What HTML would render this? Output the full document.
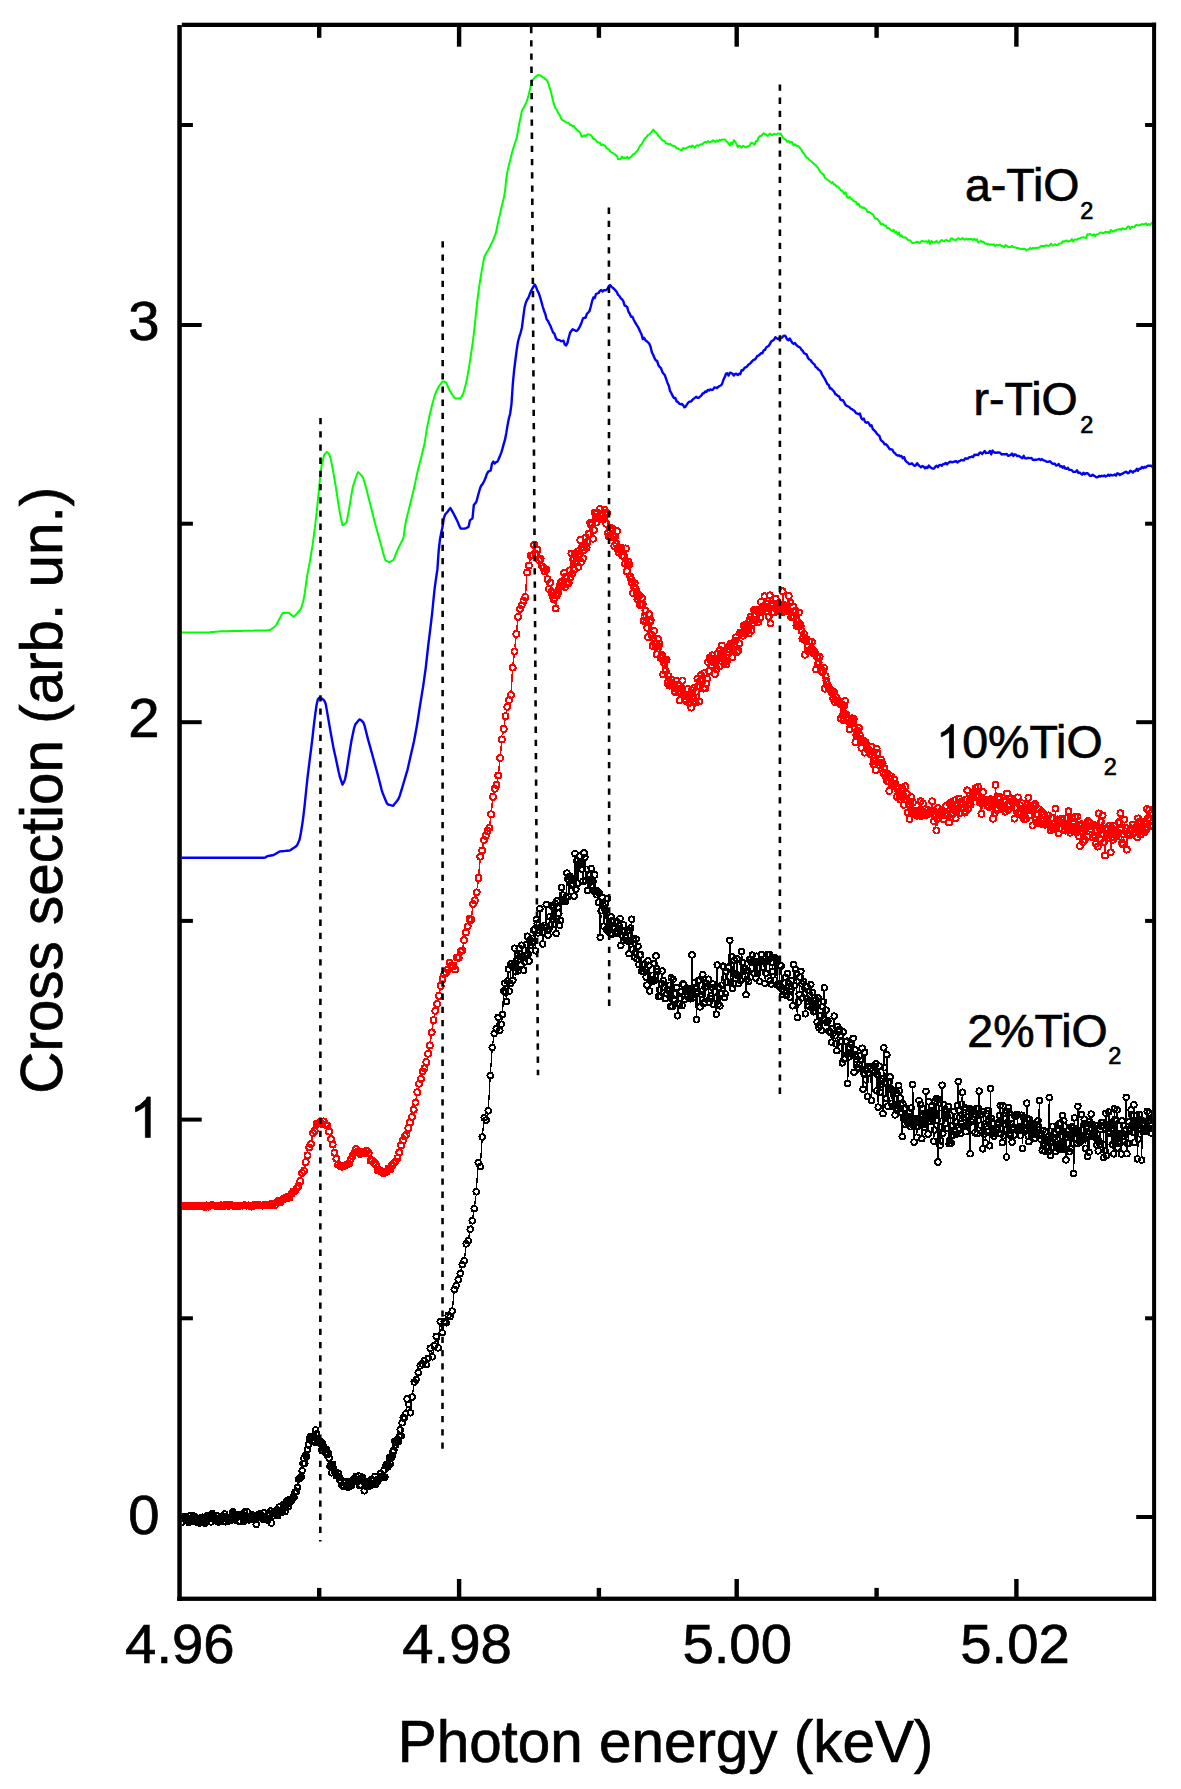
<!DOCTYPE html>
<html><head><meta charset="utf-8"><style>
html,body{margin:0;padding:0;background:#fff;}
svg{display:block;font-family:"Liberation Sans",sans-serif;}
</style></head><body>
<svg width="1181" height="1789" viewBox="0 0 1181 1789">
<rect width="1181" height="1789" fill="#fff"/>
<clipPath id="pc"><rect x="181.8" y="27" width="970.3" height="1569.6"/></clipPath>
<g clip-path="url(#pc)">
<path d="M211.6,1518.2L211.7,1517.2M225.1,1517.7L225.2,1518.2M244.0,1517.6L244.1,1515.9M247.6,1515.6L247.7,1515.9M255.7,1519.2L255.8,1520.7M270.9,1514.7L271.2,1519.2M271.9,1519.3L272.0,1517.7M285.4,1507.9L285.5,1506.2M298.0,1483.9L298.1,1482.8M305.2,1459.6L305.3,1458.6M315.0,1438.5L315.3,1433.7M321.4,1445.5L321.5,1446.5M329.5,1461.9L329.6,1462.7M331.3,1468.2L331.4,1469.1M332.2,1469.1L332.3,1468.0M359.2,1479.7L359.3,1481.7M363.7,1485.2L363.8,1487.1M364.6,1487.1L364.7,1485.0M374.5,1480.3L374.6,1479.9M375.4,1479.9L375.5,1480.3M385.2,1473.4L385.5,1469.5M388.9,1461.8L389.0,1461.4M394.3,1446.6L394.4,1445.0M401.4,1432.2L401.8,1426.5M406.1,1410.0L406.8,1402.7M409.4,1407.9L409.7,1409.1M410.8,1409.1L411.8,1400.7M412.7,1393.3L413.7,1385.7M429.0,1354.6L429.5,1351.9M431.1,1351.9L431.4,1353.1M432.9,1353.1L433.6,1349.5M435.0,1342.1L435.5,1340.0M436.9,1340.0L437.6,1344.3M438.5,1344.2L440.0,1325.3M440.9,1325.2L441.6,1329.0M442.9,1329.0L443.6,1325.5M447.2,1319.2L447.3,1318.8M452.6,1307.4L453.9,1293.3M461.1,1269.7L461.4,1268.3M464.7,1257.1L465.8,1247.6M468.9,1237.1L469.6,1232.9M471.1,1225.5L471.4,1224.5M472.9,1217.1L473.6,1212.4M474.7,1205.0L475.8,1195.6M476.5,1188.1L478.0,1166.2M480.5,1162.9L482.0,1140.8M482.6,1133.3L483.9,1121.4M487.0,1116.4L487.5,1114.5M488.5,1107.1L490.0,1079.4M490.5,1071.9L492.0,1051.3M492.8,1043.8L493.7,1037.3M496.8,1025.2L497.5,1021.0M498.6,1021.0L499.3,1026.5M501.7,1020.5L502.1,1018.2M502.7,1010.7L503.5,994.7M504.2,987.3L504.3,986.8M505.1,986.8L505.3,988.4M506.1,995.9L506.2,997.7M506.8,997.6L507.3,984.9M507.8,977.4L508.1,972.8M508.5,972.8L509.1,987.3M510.4,979.9L510.9,967.2M512.2,970.0L512.6,976.6M513.1,976.6L513.6,968.6M514.0,961.1L514.5,952.0M514.8,952.0L515.4,968.1M516.8,964.3L517.1,959.6M517.6,959.6L518.1,967.0M518.4,967.0L519.0,952.0M519.6,952.0L519.7,952.6M520.5,960.1L520.6,961.1M521.2,961.1L521.7,948.9M522.2,948.9L522.5,954.3M523.1,961.7L523.4,966.4M524.1,966.4L524.2,965.7M525.8,951.9L526.1,948.4M526.8,941.0L526.9,939.9M527.5,940.0L528.0,950.6M529.2,957.2L529.8,943.2M533.1,934.6L533.2,934.0M534.6,932.7L535.2,947.1M535.5,947.1L536.2,923.2M537.5,926.9L537.7,929.1M539.1,926.2L539.7,912.4M540.1,912.4L540.6,923.5M541.9,930.7L542.4,940.3M542.9,940.3L543.2,935.6M545.4,924.0L546.0,908.1M546.3,908.1L547.0,926.4M549.2,925.5L549.5,920.4M550.2,920.4L550.3,921.0M550.9,921.0L551.4,909.8M551.8,909.8L552.2,916.1M552.7,916.1L553.2,908.9M553.6,908.9L554.1,920.2M554.5,920.2L555.0,907.3M555.3,907.3L556.0,929.8M556.2,929.8L556.9,904.8M559.1,917.0L559.4,921.3M560.7,916.7L561.4,891.1M566.1,893.4L566.7,876.8M568.0,882.9L568.5,892.8M568.9,892.8L569.4,879.9M573.5,887.9L573.8,892.4M574.2,892.4L574.9,857.2M575.1,857.2L575.8,885.6M576.0,885.6L576.7,864.4M576.9,864.4L577.5,879.4M577.9,879.4L578.4,867.6M579.0,860.2L579.1,859.7M582.5,873.0L582.8,877.4M583.2,877.4L583.9,856.8M585.0,861.1L585.6,877.1M586.1,877.1L586.4,873.1M586.8,873.1L587.4,886.9M587.9,886.9L588.2,883.4M590.5,878.4L590.9,872.4M591.4,872.4L591.9,881.9M593.3,885.2L593.5,887.2M594.1,887.2L594.6,878.7M595.0,878.7L595.5,886.5M597.8,894.9L598.1,898.6M598.8,898.6L598.9,896.9M599.4,896.9L600.1,933.6M600.3,933.6L601.0,914.5M601.3,907.0L601.7,900.9M602.4,900.9L602.5,901.5M603.0,909.0L603.6,922.5M604.0,922.5L604.5,912.7M605.7,907.2L606.4,925.6M606.6,925.6L607.3,902.4M607.5,902.4L608.2,927.4M609.6,928.3L609.7,929.6M610.3,929.6L610.8,920.7M611.2,920.7L611.7,930.7M612.1,930.7L612.5,924.3M615.8,929.6L616.1,925.1M616.7,925.1L616.9,927.4M620.1,922.2L620.8,941.7M621.2,941.7L621.5,938.8M627.5,937.2L627.8,934.2M628.2,934.2L628.8,950.0M629.3,950.0L629.6,945.1M630.1,937.6L630.5,931.7M631.2,924.2L631.3,923.0M631.8,923.0L632.5,945.4M632.9,945.4L633.2,942.6M633.7,942.6L634.2,953.4M635.5,948.6L635.9,942.8M636.4,942.8L636.9,955.1M637.4,955.1L637.7,950.1M638.2,950.1L638.7,960.8M639.2,960.8L639.4,958.8M640.9,958.6L641.4,967.5M645.6,972.7L645.7,973.5M646.5,980.9L646.6,981.4M647.1,981.4L647.7,964.6M648.9,969.0L649.6,987.3M650.0,987.3L650.3,983.3M653.5,977.3L654.0,967.2M654.4,967.2L654.9,976.6M655.2,976.6L655.9,959.6M656.2,959.6L656.6,965.3M657.9,975.1L658.6,992.9M660.8,992.3L661.1,987.5M661.7,980.0L662.0,974.7M662.6,974.7L662.8,976.9M664.4,991.1L664.7,995.1M669.6,989.1L670.2,1002.9M670.5,1002.9L671.2,981.4M671.4,981.4L672.1,1002.9M672.3,1002.9L673.0,983.2M673.3,983.2L673.8,995.4M676.8,991.2L677.5,1012.1M677.9,1012.1L678.2,1007.7M681.4,995.3L681.8,1001.8M682.2,1001.8L682.8,987.7M684.1,988.5L684.6,995.8M685.2,995.8L685.3,994.7M689.6,992.5L689.9,995.1M691.2,992.0L691.9,958.6M692.1,958.6L692.8,994.1M694.0,993.9L694.5,986.3M695.7,992.3L696.4,1016.0M696.6,1016.0L697.3,995.3M697.7,987.8L698.0,984.9M699.3,983.8L700.0,1003.2M700.4,1003.2L700.7,998.2M702.1,987.4L702.6,978.4M702.9,978.4L703.6,999.6M704.8,998.2L705.3,990.8M708.3,982.9L708.9,998.3M711.3,992.2L711.4,991.0M712.9,987.8L713.4,1000.6M713.9,1000.6L714.2,995.5M715.6,1001.6L716.1,1010.5M716.4,1010.4L717.1,968.7M717.3,968.7L718.0,1000.7M718.3,1000.7L718.8,991.6M719.2,991.6L719.7,1002.1M720.2,1002.1L720.5,997.4M721.2,990.0L721.3,988.9M721.9,981.4L722.4,969.9M723.6,970.2L724.3,993.7M725.4,990.0L726.0,975.3M726.5,975.3L726.8,978.2M727.3,978.2L727.8,971.3M729.0,963.3L729.7,944.1M729.9,944.1L730.6,978.9M730.8,978.9L731.5,960.2M731.7,960.2L732.4,984.7M733.5,980.1L734.1,964.4M734.5,964.4L735.0,974.9M736.3,969.9L736.8,962.8M737.2,962.8L737.7,971.9M738.3,979.4L738.4,979.9M740.7,976.6L741.4,955.3M741.8,955.3L742.1,958.8M742.8,966.2L742.9,967.5M745.2,972.2L745.9,991.0M746.2,991.0L746.7,983.1M747.3,975.6L747.4,974.2M748.1,974.2L748.4,977.8M748.8,977.7L749.4,963.2M752.7,958.8L752.8,959.1M753.5,966.6L753.8,969.7M754.4,969.7L754.7,966.7M755.2,966.7L755.7,974.3M756.0,974.3L756.6,959.9M757.0,959.9L757.5,969.8M758.8,971.6L759.2,977.5M759.7,977.5L760.2,964.1M764.1,965.0L764.7,979.5M765.2,979.5L765.5,977.1M766.1,969.6L766.4,965.0M769.5,958.1L770.2,976.8M771.5,980.3L771.8,975.1M772.5,967.6L772.6,966.3M774.0,961.1L774.6,976.4M774.9,976.4L775.5,962.4M776.7,964.4L777.4,981.5M779.4,982.9L780.0,968.9M781.2,969.8L781.8,985.5M784.2,987.7L784.3,986.8M785.8,981.3L786.3,991.7M786.6,991.7L787.2,977.2M787.7,977.2L787.9,979.1M789.5,990.4L789.8,993.3M790.5,993.3L790.6,992.9M791.4,985.4L791.5,984.1M792.0,984.1L792.7,1002.0M792.9,1002.0L793.6,968.2M793.8,968.1L794.4,981.8M794.8,981.8L795.3,973.5M796.5,977.1L797.2,1013.8M797.5,1013.8L798.0,1005.9M798.6,998.5L798.7,998.1M799.3,990.6L799.8,980.7M801.2,975.0L801.5,980.0M802.0,987.5L802.4,994.1M802.9,994.1L803.4,985.1M803.9,985.1L804.2,990.4M804.7,997.8L805.2,1010.1M805.6,1010.1L806.1,1002.3M806.6,994.8L806.9,990.4M807.4,990.4L807.9,997.4M809.3,1002.4L809.6,999.0M810.2,991.6L810.5,988.4M810.9,988.4L811.5,1004.4M811.9,1004.4L812.4,996.2M812.8,996.2L813.3,1008.0M813.8,1008.0L814.1,1004.4M814.7,1004.4L815.0,1007.6M815.6,1007.6L815.9,1003.5M816.3,1003.5L816.9,1018.3M817.2,1018.3L817.9,1001.4M818.1,1001.4L818.8,1023.7M820.2,1021.1L820.3,1019.4M820.9,1019.4L821.4,1026.5M821.7,1026.5L822.3,1010.3M823.6,998.1L824.0,991.5M824.4,991.5L825.1,1016.0M825.5,1016.1L825.7,1013.9M826.4,1013.9L826.7,1019.1M828.2,1024.4L828.5,1027.6M830.9,1036.0L831.1,1038.4M831.7,1038.4L832.1,1032.5M833.5,1029.5L834.0,1019.9M834.4,1019.9L834.9,1032.0M835.5,1039.5L835.6,1040.2M837.0,1046.9L837.6,1030.4M841.5,1045.4L842.1,1059.2M842.4,1059.2L843.1,1035.7M843.3,1035.7L844.0,1055.5M845.2,1054.6L845.7,1045.2M846.9,1044.9L847.6,1079.8M847.8,1079.8L848.5,1050.8M848.9,1050.8L849.1,1053.1M850.8,1049.7L850.9,1048.1M851.6,1048.1L851.9,1050.7M852.4,1050.7L852.9,1042.1M853.2,1042.1L853.9,1068.4M854.1,1068.4L854.7,1053.5M859.8,1061.0L859.9,1059.6M861.5,1056.5L861.8,1051.9M862.2,1051.9L862.9,1085.6M863.2,1085.6L863.6,1077.3M864.0,1069.8L864.6,1056.0M864.9,1056.0L865.5,1076.1M865.9,1076.1L866.1,1073.9M866.6,1073.9L867.2,1092.5M867.5,1092.5L868.1,1076.8M870.9,1071.9L871.5,1096.6M871.7,1096.6L872.4,1074.6M875.9,1067.5L876.5,1087.2M876.8,1087.2L877.2,1077.9M877.5,1077.9L878.2,1103.4M878.3,1103.4L879.0,1069.8M879.2,1069.8L879.7,1088.5M880.1,1088.5L880.4,1084.9M882.3,1082.5L883.0,1109.8M883.1,1109.8L883.8,1051.5M884.0,1051.5L884.5,1064.0M884.8,1071.5L885.2,1078.2M885.6,1085.7L886.0,1094.9M886.2,1094.9L886.9,1058.4M887.0,1058.4L887.6,1102.4M887.9,1102.4L888.3,1092.5M890.2,1080.6L890.5,1085.1M890.9,1092.6L891.3,1099.5M891.7,1099.5L892.0,1093.6M892.4,1093.6L892.8,1102.9M893.1,1102.9L893.5,1094.5M893.9,1094.5L894.2,1101.9M894.7,1109.4L894.8,1111.2M896.0,1104.7L896.4,1096.8M896.7,1096.8L897.1,1106.5M898.1,1105.2L898.6,1089.3M901.1,1107.9L901.2,1108.9M901.6,1116.4L902.1,1132.8M902.3,1132.8L902.8,1107.7M903.1,1107.7L903.4,1114.6M903.9,1114.6L904.0,1112.7M904.5,1112.7L904.9,1120.6M905.2,1120.6L905.6,1112.0M906.0,1112.0L906.2,1115.6M910.1,1116.1L910.4,1122.9M910.8,1122.9L911.2,1111.9M911.5,1111.9L911.9,1119.5M912.1,1119.5L912.7,1088.3M912.8,1088.3L913.4,1121.9M913.6,1129.4L914.0,1138.3M914.3,1138.3L914.7,1126.3M916.4,1124.0L916.8,1133.4M917.2,1133.4L917.4,1130.3M917.9,1122.8L918.0,1121.9M918.5,1114.5L918.9,1104.3M919.2,1104.3L919.6,1116.0M919.9,1116.0L920.3,1108.1M920.6,1108.1L921.0,1120.8M921.3,1128.3L921.6,1134.9M921.9,1134.9L922.4,1112.2M923.5,1119.6L923.6,1121.1M924.8,1123.3L925.1,1118.7M925.4,1111.2L925.9,1095.2M926.1,1095.2L926.6,1115.1M927.6,1119.3L928.0,1130.2M928.2,1130.2L928.7,1105.7M929.0,1105.7L929.4,1117.1M930.5,1117.9L930.7,1114.6M931.8,1110.3L932.1,1115.1M933.1,1117.2L933.6,1137.4M934.0,1137.4L934.2,1133.7M934.5,1126.3L935.0,1104.5M935.3,1104.5L935.6,1110.4M936.0,1110.4L936.4,1102.1M936.6,1102.1L937.1,1116.6M937.3,1124.1L937.9,1158.2M938.0,1158.2L938.6,1103.1M939.4,1106.5L940.0,1141.8M940.9,1137.2L941.3,1125.1M941.5,1117.6L942.1,1089.0M942.2,1089.0L942.8,1129.6M942.9,1129.6L943.4,1108.4M945.1,1112.9L945.4,1119.9M945.8,1119.9L946.1,1115.3M947.2,1119.8L947.5,1124.8M947.8,1124.8L948.3,1110.5M948.5,1110.5L949.1,1140.0M949.9,1136.2L950.4,1119.0M950.6,1119.0L951.1,1139.5M951.4,1139.5L951.8,1129.2M952.9,1129.0L953.1,1131.6M953.4,1131.5L953.9,1115.3M954.2,1115.3L954.6,1128.3M955.0,1128.3L955.2,1125.6M955.6,1125.6L955.9,1130.4M956.3,1130.4L956.6,1125.7M957.0,1118.3L957.4,1109.5M957.6,1102.1L958.1,1085.1M958.3,1085.1L958.8,1106.8M959.1,1114.3L959.5,1126.2M960.6,1129.7L960.8,1126.9M961.2,1119.4L961.6,1108.0M961.9,1100.6L962.2,1096.0M962.5,1096.0L963.1,1122.5M963.4,1122.5L963.5,1121.0M965.3,1111.4L965.8,1128.0M967.6,1121.2L967.7,1120.4M968.9,1119.6L969.3,1112.4M969.5,1112.4L970.1,1150.0M970.2,1150.0L970.8,1114.0M971.1,1114.0L971.3,1118.2M972.5,1115.5L972.6,1113.9M974.5,1118.0L974.9,1128.8M975.2,1128.8L975.6,1117.8M976.5,1112.4L977.0,1129.9M977.3,1129.9L977.7,1117.2M978.7,1104.9L979.1,1094.8M979.3,1094.8L979.8,1111.7M980.2,1119.2L980.4,1121.5M980.9,1121.5L981.1,1118.3M981.5,1118.3L981.9,1128.8M982.2,1136.3L982.6,1145.1M982.8,1145.1L983.4,1115.4M983.5,1115.4L984.0,1130.4M984.4,1130.4L984.6,1127.7M985.0,1127.7L985.4,1139.2M985.7,1139.2L986.1,1130.1M986.4,1122.6L986.7,1117.8M987.9,1114.5L988.1,1118.4M989.1,1123.2L989.6,1142.1M989.8,1142.1L990.4,1092.4M990.5,1092.4L991.0,1114.3M991.3,1121.8L991.7,1130.3M993.4,1127.3L993.7,1132.7M999.8,1111.9L1000.0,1109.3M1000.3,1109.3L1000.8,1130.2M1001.8,1132.8L1002.1,1138.9M1002.4,1138.9L1003.0,1109.6M1003.1,1109.6L1003.6,1132.1M1004.0,1132.1L1004.2,1127.9M1005.4,1122.2L1005.6,1125.4M1005.9,1132.9L1006.4,1153.2M1006.6,1153.2L1007.2,1115.2M1007.5,1115.2L1007.7,1118.8M1008.1,1118.8L1008.5,1111.3M1009.5,1116.6L1009.9,1130.1M1010.9,1131.9L1011.2,1127.1M1011.6,1127.1L1012.0,1138.4M1012.3,1138.4L1012.7,1130.9M1014.4,1131.3L1014.8,1120.1M1017.2,1118.0L1017.5,1123.7M1020.1,1130.0L1020.3,1132.0M1020.9,1132.0L1020.9,1131.5M1021.4,1124.0L1021.7,1118.9M1022.0,1118.9L1022.5,1144.5M1022.7,1144.5L1023.2,1121.1M1024.3,1122.3L1024.5,1124.2M1026.2,1125.4L1026.7,1106.9M1027.0,1106.9L1027.4,1114.9M1027.7,1122.4L1028.1,1132.1M1029.0,1137.9L1029.5,1123.2M1034.7,1128.1L1035.0,1134.3M1036.9,1131.2L1037.1,1128.4M1038.8,1123.4L1039.3,1104.1M1039.5,1104.1L1040.0,1129.2M1041.7,1139.2L1042.1,1146.4M1042.4,1146.4L1042.8,1134.1M1043.1,1134.1L1043.5,1142.0M1044.0,1142.0L1044.0,1141.7M1044.5,1141.7L1044.8,1147.7M1045.2,1147.6L1045.6,1135.7M1048.1,1144.4L1048.3,1147.9M1048.6,1147.9L1049.2,1101.3M1049.3,1101.3L1049.9,1134.9M1050.1,1142.4L1050.5,1151.6M1050.8,1151.6L1051.1,1145.2M1052.2,1144.1L1052.6,1130.1M1053.0,1130.1L1053.2,1133.8M1055.1,1144.0L1055.3,1147.7M1057.1,1144.2L1057.5,1133.4M1059.2,1127.9L1059.6,1141.6M1059.8,1141.6L1060.3,1126.8M1060.5,1126.8L1061.0,1146.0M1061.3,1146.0L1061.6,1140.1M1062.0,1132.6L1062.4,1119.2M1062.6,1119.2L1063.2,1145.2M1063.3,1145.2L1063.8,1124.2M1064.7,1130.1L1065.2,1145.7M1065.6,1153.2L1065.8,1156.2M1066.1,1156.2L1066.6,1140.6M1068.9,1133.5L1069.4,1148.0M1069.7,1148.0L1070.1,1139.8M1070.4,1139.8L1070.7,1144.7M1071.0,1144.7L1071.5,1130.5M1073.1,1131.4L1073.7,1169.8M1073.8,1169.8L1074.4,1121.7M1074.6,1121.7L1075.0,1135.5M1075.4,1135.5L1075.6,1132.4M1076.0,1132.4L1076.3,1139.5M1077.3,1139.7L1077.9,1110.1M1078.0,1110.1L1078.5,1126.7M1078.9,1134.2L1079.1,1137.2M1080.8,1136.4L1081.3,1118.2M1081.6,1118.2L1082.0,1126.3M1083.7,1136.2L1084.1,1122.9M1085.0,1127.2L1085.5,1144.5M1085.7,1144.5L1086.2,1130.3M1087.1,1135.6L1087.6,1152.9M1087.8,1152.9L1088.3,1137.9M1088.6,1137.9L1089.0,1148.6M1089.2,1148.6L1089.7,1125.6M1090.8,1120.8L1091.0,1117.8M1091.4,1117.9L1091.8,1131.1M1092.2,1131.1L1092.4,1128.0M1092.8,1128.0L1093.1,1133.0M1095.6,1129.2L1095.9,1134.5M1097.0,1141.3L1097.4,1129.2M1097.6,1129.2L1098.1,1147.1M1098.5,1147.2L1098.7,1145.0M1099.8,1140.3L1100.1,1133.4M1103.2,1128.9L1103.7,1153.8M1104.0,1153.9L1104.3,1149.0M1105.3,1146.8L1105.9,1117.1M1106.0,1117.1L1106.6,1151.8M1106.7,1151.8L1107.2,1128.9M1108.2,1127.8L1108.6,1115.8M1108.9,1115.8L1109.2,1122.5M1110.4,1129.6L1110.5,1128.5M1111.6,1126.4L1112.1,1140.7M1113.2,1148.7L1113.3,1150.2M1113.7,1150.2L1114.3,1112.7M1114.6,1112.6L1114.8,1115.7M1115.1,1123.2L1115.6,1140.0M1115.8,1140.0L1116.3,1124.1M1116.7,1116.6L1116.9,1113.6M1117.2,1113.6L1117.8,1144.0M1120.2,1139.6L1120.4,1137.3M1120.8,1137.3L1121.2,1150.2M1121.4,1150.2L1121.9,1124.6M1122.2,1124.6L1122.5,1130.0M1123.0,1130.0L1123.1,1129.3M1123.7,1129.3L1123.9,1132.2M1125.0,1138.2L1125.3,1133.6M1125.6,1126.1L1126.1,1101.0M1126.3,1101.0L1126.9,1150.1M1127.2,1150.1L1127.4,1147.2M1128.5,1139.7L1128.9,1125.6M1129.3,1125.6L1129.5,1127.6M1130.6,1124.5L1131.0,1113.7M1132.1,1118.6L1132.3,1120.8M1133.3,1128.4L1133.8,1108.5M1134.0,1108.5L1134.6,1138.6M1134.8,1138.6L1135.2,1127.3M1136.2,1124.2L1136.5,1119.0M1136.8,1119.0L1137.4,1155.1M1137.6,1155.1L1138.0,1143.0M1138.3,1135.5L1138.7,1122.9M1139.9,1118.1L1139.9,1118.6M1141.0,1123.5L1141.6,1156.3M1141.7,1156.3L1142.3,1128.9M1143.3,1128.1L1143.4,1126.9M1146.7,1128.0L1147.1,1115.1M1147.4,1115.1L1147.8,1124.8M1148.3,1124.8L1148.3,1124.4M1149.0,1117.0L1149.0,1116.5M1151.7,1129.3L1151.8,1128.3" fill="none" stroke="#000" stroke-width="1.3" shape-rendering="crispEdges"/>
<g fill="none" stroke="#000" stroke-width="1.9" shape-rendering="crispEdges"><circle cx="181.5" cy="1522.4" r="2.8"/><circle cx="182.4" cy="1518.4" r="2.8"/><circle cx="183.3" cy="1516.6" r="2.8"/><circle cx="184.2" cy="1516.3" r="2.8"/><circle cx="185.1" cy="1519.4" r="2.8"/><circle cx="186.0" cy="1518.9" r="2.8"/><circle cx="186.9" cy="1519.8" r="2.8"/><circle cx="187.8" cy="1519.9" r="2.8"/><circle cx="188.7" cy="1522.3" r="2.8"/><circle cx="189.6" cy="1520.0" r="2.8"/><circle cx="190.5" cy="1515.5" r="2.8"/><circle cx="191.4" cy="1519.3" r="2.8"/><circle cx="192.3" cy="1521.5" r="2.8"/><circle cx="193.2" cy="1515.8" r="2.8"/><circle cx="194.1" cy="1519.5" r="2.8"/><circle cx="195.0" cy="1516.5" r="2.8"/><circle cx="195.9" cy="1520.9" r="2.8"/><circle cx="196.8" cy="1519.1" r="2.8"/><circle cx="197.7" cy="1522.3" r="2.8"/><circle cx="198.6" cy="1520.6" r="2.8"/><circle cx="199.5" cy="1523.2" r="2.8"/><circle cx="200.4" cy="1517.9" r="2.8"/><circle cx="201.3" cy="1519.3" r="2.8"/><circle cx="202.2" cy="1517.2" r="2.8"/><circle cx="203.1" cy="1521.3" r="2.8"/><circle cx="204.0" cy="1521.5" r="2.8"/><circle cx="204.9" cy="1523.3" r="2.8"/><circle cx="205.8" cy="1517.7" r="2.8"/><circle cx="206.7" cy="1520.9" r="2.8"/><circle cx="207.6" cy="1515.5" r="2.8"/><circle cx="208.5" cy="1518.8" r="2.8"/><circle cx="209.4" cy="1516.1" r="2.8"/><circle cx="210.3" cy="1518.5" r="2.8"/><circle cx="211.2" cy="1521.9" r="2.8"/><circle cx="212.1" cy="1513.5" r="2.8"/><circle cx="213.0" cy="1515.8" r="2.8"/><circle cx="213.9" cy="1518.2" r="2.8"/><circle cx="214.8" cy="1519.9" r="2.8"/><circle cx="215.7" cy="1520.8" r="2.8"/><circle cx="216.6" cy="1515.6" r="2.8"/><circle cx="217.5" cy="1518.5" r="2.8"/><circle cx="218.4" cy="1522.1" r="2.8"/><circle cx="219.3" cy="1519.8" r="2.8"/><circle cx="220.2" cy="1521.7" r="2.8"/><circle cx="221.1" cy="1516.2" r="2.8"/><circle cx="222.0" cy="1516.3" r="2.8"/><circle cx="222.9" cy="1516.3" r="2.8"/><circle cx="223.8" cy="1518.0" r="2.8"/><circle cx="224.7" cy="1514.0" r="2.8"/><circle cx="225.6" cy="1521.9" r="2.8"/><circle cx="226.5" cy="1518.0" r="2.8"/><circle cx="227.4" cy="1518.4" r="2.8"/><circle cx="228.3" cy="1521.3" r="2.8"/><circle cx="229.2" cy="1518.0" r="2.8"/><circle cx="230.1" cy="1520.5" r="2.8"/><circle cx="231.0" cy="1519.0" r="2.8"/><circle cx="231.9" cy="1519.1" r="2.8"/><circle cx="232.8" cy="1511.7" r="2.8"/><circle cx="233.7" cy="1513.4" r="2.8"/><circle cx="234.6" cy="1519.9" r="2.8"/><circle cx="235.5" cy="1514.3" r="2.8"/><circle cx="236.4" cy="1515.7" r="2.8"/><circle cx="237.3" cy="1517.1" r="2.8"/><circle cx="238.2" cy="1514.8" r="2.8"/><circle cx="239.1" cy="1521.4" r="2.8"/><circle cx="240.0" cy="1521.1" r="2.8"/><circle cx="240.9" cy="1516.5" r="2.8"/><circle cx="241.8" cy="1514.5" r="2.8"/><circle cx="242.7" cy="1516.2" r="2.8"/><circle cx="243.6" cy="1521.4" r="2.8"/><circle cx="244.5" cy="1512.1" r="2.8"/><circle cx="245.4" cy="1519.5" r="2.8"/><circle cx="246.3" cy="1519.6" r="2.8"/><circle cx="247.2" cy="1511.8" r="2.8"/><circle cx="248.1" cy="1519.6" r="2.8"/><circle cx="249.0" cy="1519.9" r="2.8"/><circle cx="249.9" cy="1517.2" r="2.8"/><circle cx="250.8" cy="1519.1" r="2.8"/><circle cx="251.7" cy="1515.2" r="2.8"/><circle cx="252.6" cy="1515.1" r="2.8"/><circle cx="253.5" cy="1518.0" r="2.8"/><circle cx="254.4" cy="1517.6" r="2.8"/><circle cx="255.3" cy="1515.5" r="2.8"/><circle cx="256.2" cy="1524.4" r="2.8"/><circle cx="257.1" cy="1518.1" r="2.8"/><circle cx="258.0" cy="1515.3" r="2.8"/><circle cx="258.9" cy="1514.3" r="2.8"/><circle cx="259.8" cy="1514.0" r="2.8"/><circle cx="260.7" cy="1515.2" r="2.8"/><circle cx="261.6" cy="1517.3" r="2.8"/><circle cx="262.5" cy="1516.4" r="2.8"/><circle cx="263.4" cy="1519.2" r="2.8"/><circle cx="264.3" cy="1512.8" r="2.8"/><circle cx="265.2" cy="1519.6" r="2.8"/><circle cx="266.1" cy="1518.6" r="2.8"/><circle cx="267.0" cy="1518.7" r="2.8"/><circle cx="267.9" cy="1520.0" r="2.8"/><circle cx="268.8" cy="1513.0" r="2.8"/><circle cx="269.7" cy="1515.4" r="2.8"/><circle cx="270.6" cy="1511.0" r="2.8"/><circle cx="271.5" cy="1523.0" r="2.8"/><circle cx="272.4" cy="1513.9" r="2.8"/><circle cx="273.3" cy="1515.9" r="2.8"/><circle cx="274.2" cy="1511.7" r="2.8"/><circle cx="275.1" cy="1512.5" r="2.8"/><circle cx="276.0" cy="1512.7" r="2.8"/><circle cx="276.9" cy="1509.6" r="2.8"/><circle cx="277.8" cy="1515.7" r="2.8"/><circle cx="278.7" cy="1513.2" r="2.8"/><circle cx="279.6" cy="1506.8" r="2.8"/><circle cx="280.5" cy="1510.3" r="2.8"/><circle cx="281.4" cy="1512.4" r="2.8"/><circle cx="282.3" cy="1510.4" r="2.8"/><circle cx="283.2" cy="1504.7" r="2.8"/><circle cx="284.1" cy="1508.4" r="2.8"/><circle cx="285.0" cy="1511.6" r="2.8"/><circle cx="285.9" cy="1502.5" r="2.8"/><circle cx="286.8" cy="1504.3" r="2.8"/><circle cx="287.7" cy="1500.3" r="2.8"/><circle cx="288.6" cy="1506.6" r="2.8"/><circle cx="289.5" cy="1499.7" r="2.8"/><circle cx="290.4" cy="1500.0" r="2.8"/><circle cx="291.3" cy="1501.0" r="2.8"/><circle cx="292.2" cy="1499.2" r="2.8"/><circle cx="293.1" cy="1496.7" r="2.8"/><circle cx="294.0" cy="1497.2" r="2.8"/><circle cx="294.9" cy="1492.4" r="2.8"/><circle cx="295.8" cy="1491.8" r="2.8"/><circle cx="296.7" cy="1491.2" r="2.8"/><circle cx="297.6" cy="1487.7" r="2.8"/><circle cx="298.5" cy="1479.1" r="2.8"/><circle cx="299.4" cy="1478.8" r="2.8"/><circle cx="300.3" cy="1477.8" r="2.8"/><circle cx="301.2" cy="1477.3" r="2.8"/><circle cx="302.1" cy="1470.6" r="2.8"/><circle cx="303.0" cy="1463.5" r="2.8"/><circle cx="303.9" cy="1458.4" r="2.8"/><circle cx="304.8" cy="1463.3" r="2.8"/><circle cx="305.7" cy="1454.9" r="2.8"/><circle cx="306.6" cy="1456.5" r="2.8"/><circle cx="307.5" cy="1449.5" r="2.8"/><circle cx="308.4" cy="1445.0" r="2.8"/><circle cx="309.3" cy="1439.6" r="2.8"/><circle cx="310.2" cy="1436.9" r="2.8"/><circle cx="311.1" cy="1437.2" r="2.8"/><circle cx="312.0" cy="1440.6" r="2.8"/><circle cx="312.9" cy="1436.2" r="2.8"/><circle cx="313.8" cy="1437.3" r="2.8"/><circle cx="314.7" cy="1442.2" r="2.8"/><circle cx="315.6" cy="1430.0" r="2.8"/><circle cx="316.5" cy="1433.9" r="2.8"/><circle cx="317.4" cy="1441.2" r="2.8"/><circle cx="318.3" cy="1440.8" r="2.8"/><circle cx="319.2" cy="1442.1" r="2.8"/><circle cx="320.1" cy="1443.4" r="2.8"/><circle cx="321.0" cy="1441.7" r="2.8"/><circle cx="321.9" cy="1450.2" r="2.8"/><circle cx="322.8" cy="1444.2" r="2.8"/><circle cx="323.7" cy="1446.5" r="2.8"/><circle cx="324.6" cy="1449.0" r="2.8"/><circle cx="325.5" cy="1452.7" r="2.8"/><circle cx="326.4" cy="1449.4" r="2.8"/><circle cx="327.3" cy="1454.7" r="2.8"/><circle cx="328.2" cy="1453.3" r="2.8"/><circle cx="329.1" cy="1458.1" r="2.8"/><circle cx="330.0" cy="1466.4" r="2.8"/><circle cx="330.9" cy="1464.5" r="2.8"/><circle cx="331.8" cy="1472.8" r="2.8"/><circle cx="332.7" cy="1464.3" r="2.8"/><circle cx="333.6" cy="1468.5" r="2.8"/><circle cx="334.5" cy="1471.4" r="2.8"/><circle cx="335.4" cy="1472.2" r="2.8"/><circle cx="336.3" cy="1475.7" r="2.8"/><circle cx="337.2" cy="1475.9" r="2.8"/><circle cx="338.1" cy="1473.2" r="2.8"/><circle cx="339.0" cy="1477.1" r="2.8"/><circle cx="339.9" cy="1480.2" r="2.8"/><circle cx="340.8" cy="1480.1" r="2.8"/><circle cx="341.7" cy="1485.3" r="2.8"/><circle cx="342.6" cy="1485.8" r="2.8"/><circle cx="343.5" cy="1486.5" r="2.8"/><circle cx="344.4" cy="1483.0" r="2.8"/><circle cx="345.3" cy="1482.4" r="2.8"/><circle cx="346.2" cy="1481.9" r="2.8"/><circle cx="347.1" cy="1485.9" r="2.8"/><circle cx="348.0" cy="1487.4" r="2.8"/><circle cx="348.9" cy="1486.2" r="2.8"/><circle cx="349.8" cy="1484.6" r="2.8"/><circle cx="350.7" cy="1481.6" r="2.8"/><circle cx="351.6" cy="1485.8" r="2.8"/><circle cx="352.5" cy="1482.9" r="2.8"/><circle cx="353.4" cy="1479.3" r="2.8"/><circle cx="354.3" cy="1479.7" r="2.8"/><circle cx="355.2" cy="1479.0" r="2.8"/><circle cx="356.1" cy="1476.4" r="2.8"/><circle cx="357.0" cy="1481.9" r="2.8"/><circle cx="357.9" cy="1480.3" r="2.8"/><circle cx="358.8" cy="1476.0" r="2.8"/><circle cx="359.7" cy="1485.4" r="2.8"/><circle cx="360.6" cy="1485.0" r="2.8"/><circle cx="361.5" cy="1479.1" r="2.8"/><circle cx="362.4" cy="1477.2" r="2.8"/><circle cx="363.3" cy="1481.4" r="2.8"/><circle cx="364.2" cy="1490.8" r="2.8"/><circle cx="365.1" cy="1481.2" r="2.8"/><circle cx="366.0" cy="1485.6" r="2.8"/><circle cx="366.9" cy="1486.6" r="2.8"/><circle cx="367.8" cy="1485.2" r="2.8"/><circle cx="368.7" cy="1483.6" r="2.8"/><circle cx="369.6" cy="1486.0" r="2.8"/><circle cx="370.5" cy="1485.0" r="2.8"/><circle cx="371.4" cy="1479.2" r="2.8"/><circle cx="372.3" cy="1484.9" r="2.8"/><circle cx="373.2" cy="1481.0" r="2.8"/><circle cx="374.1" cy="1484.0" r="2.8"/><circle cx="375.0" cy="1476.2" r="2.8"/><circle cx="375.9" cy="1484.0" r="2.8"/><circle cx="376.8" cy="1482.6" r="2.8"/><circle cx="377.7" cy="1481.2" r="2.8"/><circle cx="378.6" cy="1478.8" r="2.8"/><circle cx="379.5" cy="1478.4" r="2.8"/><circle cx="380.4" cy="1473.2" r="2.8"/><circle cx="381.3" cy="1476.3" r="2.8"/><circle cx="382.2" cy="1477.1" r="2.8"/><circle cx="383.1" cy="1477.1" r="2.8"/><circle cx="384.0" cy="1470.4" r="2.8"/><circle cx="384.9" cy="1477.1" r="2.8"/><circle cx="385.8" cy="1465.8" r="2.8"/><circle cx="386.7" cy="1464.2" r="2.8"/><circle cx="387.6" cy="1467.1" r="2.8"/><circle cx="388.5" cy="1465.5" r="2.8"/><circle cx="389.4" cy="1457.7" r="2.8"/><circle cx="390.3" cy="1463.7" r="2.8"/><circle cx="391.2" cy="1458.3" r="2.8"/><circle cx="392.1" cy="1455.9" r="2.8"/><circle cx="393.0" cy="1452.0" r="2.8"/><circle cx="393.9" cy="1450.3" r="2.8"/><circle cx="394.8" cy="1441.3" r="2.8"/><circle cx="395.7" cy="1444.9" r="2.8"/><circle cx="396.6" cy="1442.1" r="2.8"/><circle cx="397.5" cy="1439.4" r="2.8"/><circle cx="398.4" cy="1441.7" r="2.8"/><circle cx="399.3" cy="1436.5" r="2.8"/><circle cx="400.2" cy="1429.8" r="2.8"/><circle cx="401.1" cy="1435.9" r="2.8"/><circle cx="402.1" cy="1422.8" r="2.8"/><circle cx="403.2" cy="1417.9" r="2.8"/><circle cx="404.4" cy="1417.9" r="2.8"/><circle cx="405.7" cy="1413.7" r="2.8"/><circle cx="407.1" cy="1399.0" r="2.8"/><circle cx="408.7" cy="1404.2" r="2.8"/><circle cx="410.4" cy="1412.8" r="2.8"/><circle cx="412.2" cy="1397.0" r="2.8"/><circle cx="414.2" cy="1382.0" r="2.8"/><circle cx="416.2" cy="1379.5" r="2.8"/><circle cx="418.2" cy="1372.6" r="2.8"/><circle cx="420.2" cy="1365.9" r="2.8"/><circle cx="422.2" cy="1364.0" r="2.8"/><circle cx="424.2" cy="1360.8" r="2.8"/><circle cx="426.2" cy="1364.7" r="2.8"/><circle cx="428.2" cy="1358.3" r="2.8"/><circle cx="430.2" cy="1348.2" r="2.8"/><circle cx="432.2" cy="1356.8" r="2.8"/><circle cx="434.2" cy="1345.8" r="2.8"/><circle cx="436.2" cy="1336.3" r="2.8"/><circle cx="438.2" cy="1347.9" r="2.8"/><circle cx="440.2" cy="1321.5" r="2.8"/><circle cx="442.2" cy="1332.7" r="2.8"/><circle cx="444.2" cy="1321.8" r="2.8"/><circle cx="446.2" cy="1322.8" r="2.8"/><circle cx="448.2" cy="1315.2" r="2.8"/><circle cx="450.2" cy="1316.4" r="2.8"/><circle cx="452.2" cy="1311.1" r="2.8"/><circle cx="454.2" cy="1289.6" r="2.8"/><circle cx="456.2" cy="1285.5" r="2.8"/><circle cx="458.2" cy="1279.8" r="2.8"/><circle cx="460.2" cy="1273.4" r="2.8"/><circle cx="462.2" cy="1264.7" r="2.8"/><circle cx="464.2" cy="1260.8" r="2.8"/><circle cx="466.2" cy="1243.9" r="2.8"/><circle cx="468.2" cy="1240.8" r="2.8"/><circle cx="470.2" cy="1229.2" r="2.8"/><circle cx="472.2" cy="1220.8" r="2.8"/><circle cx="474.2" cy="1208.7" r="2.8"/><circle cx="476.2" cy="1191.8" r="2.8"/><circle cx="478.2" cy="1162.5" r="2.8"/><circle cx="480.2" cy="1166.6" r="2.8"/><circle cx="482.2" cy="1137.0" r="2.8"/><circle cx="484.2" cy="1117.7" r="2.8"/><circle cx="486.2" cy="1120.1" r="2.8"/><circle cx="488.2" cy="1110.8" r="2.8"/><circle cx="490.2" cy="1075.6" r="2.8"/><circle cx="492.2" cy="1047.5" r="2.8"/><circle cx="494.2" cy="1033.5" r="2.8"/><circle cx="496.2" cy="1028.9" r="2.8"/><circle cx="498.1" cy="1017.3" r="2.8"/><circle cx="499.8" cy="1030.2" r="2.8"/><circle cx="501.2" cy="1024.2" r="2.8"/><circle cx="502.6" cy="1014.5" r="2.8"/><circle cx="503.7" cy="991.0" r="2.8"/><circle cx="504.8" cy="983.1" r="2.8"/><circle cx="505.7" cy="992.2" r="2.8"/><circle cx="506.6" cy="1001.4" r="2.8"/><circle cx="507.5" cy="981.1" r="2.8"/><circle cx="508.4" cy="969.1" r="2.8"/><circle cx="509.3" cy="991.1" r="2.8"/><circle cx="510.2" cy="983.6" r="2.8"/><circle cx="511.1" cy="963.5" r="2.8"/><circle cx="512.0" cy="966.3" r="2.8"/><circle cx="512.9" cy="980.4" r="2.8"/><circle cx="513.8" cy="964.8" r="2.8"/><circle cx="514.7" cy="948.2" r="2.8"/><circle cx="515.6" cy="971.8" r="2.8"/><circle cx="516.5" cy="968.0" r="2.8"/><circle cx="517.4" cy="955.8" r="2.8"/><circle cx="518.3" cy="970.8" r="2.8"/><circle cx="519.2" cy="948.3" r="2.8"/><circle cx="520.1" cy="956.3" r="2.8"/><circle cx="521.0" cy="964.8" r="2.8"/><circle cx="521.9" cy="945.2" r="2.8"/><circle cx="522.8" cy="958.0" r="2.8"/><circle cx="523.7" cy="970.1" r="2.8"/><circle cx="524.6" cy="962.0" r="2.8"/><circle cx="525.5" cy="955.7" r="2.8"/><circle cx="526.4" cy="944.7" r="2.8"/><circle cx="527.3" cy="936.2" r="2.8"/><circle cx="528.2" cy="954.3" r="2.8"/><circle cx="529.1" cy="961.0" r="2.8"/><circle cx="530.0" cy="939.5" r="2.8"/><circle cx="530.9" cy="945.5" r="2.8"/><circle cx="531.8" cy="942.2" r="2.8"/><circle cx="532.7" cy="938.3" r="2.8"/><circle cx="533.6" cy="930.2" r="2.8"/><circle cx="534.5" cy="929.0" r="2.8"/><circle cx="535.4" cy="950.8" r="2.8"/><circle cx="536.3" cy="919.5" r="2.8"/><circle cx="537.2" cy="923.2" r="2.8"/><circle cx="538.1" cy="932.9" r="2.8"/><circle cx="539.0" cy="930.0" r="2.8"/><circle cx="539.9" cy="908.7" r="2.8"/><circle cx="540.8" cy="927.2" r="2.8"/><circle cx="541.7" cy="927.0" r="2.8"/><circle cx="542.6" cy="944.0" r="2.8"/><circle cx="543.5" cy="931.9" r="2.8"/><circle cx="544.4" cy="925.3" r="2.8"/><circle cx="545.3" cy="927.7" r="2.8"/><circle cx="546.2" cy="904.4" r="2.8"/><circle cx="547.1" cy="930.2" r="2.8"/><circle cx="548.0" cy="935.3" r="2.8"/><circle cx="548.9" cy="929.2" r="2.8"/><circle cx="549.8" cy="916.7" r="2.8"/><circle cx="550.7" cy="924.7" r="2.8"/><circle cx="551.6" cy="906.0" r="2.8"/><circle cx="552.5" cy="919.8" r="2.8"/><circle cx="553.4" cy="905.1" r="2.8"/><circle cx="554.3" cy="924.0" r="2.8"/><circle cx="555.2" cy="903.6" r="2.8"/><circle cx="556.1" cy="933.5" r="2.8"/><circle cx="557.0" cy="901.0" r="2.8"/><circle cx="557.9" cy="907.6" r="2.8"/><circle cx="558.8" cy="913.2" r="2.8"/><circle cx="559.7" cy="925.1" r="2.8"/><circle cx="560.6" cy="920.4" r="2.8"/><circle cx="561.5" cy="887.3" r="2.8"/><circle cx="562.4" cy="894.9" r="2.8"/><circle cx="563.3" cy="899.3" r="2.8"/><circle cx="564.2" cy="899.8" r="2.8"/><circle cx="565.1" cy="901.7" r="2.8"/><circle cx="566.0" cy="897.2" r="2.8"/><circle cx="566.9" cy="873.1" r="2.8"/><circle cx="567.8" cy="879.2" r="2.8"/><circle cx="568.7" cy="896.6" r="2.8"/><circle cx="569.6" cy="876.1" r="2.8"/><circle cx="570.5" cy="877.6" r="2.8"/><circle cx="571.4" cy="885.0" r="2.8"/><circle cx="572.3" cy="880.7" r="2.8"/><circle cx="573.2" cy="884.2" r="2.8"/><circle cx="574.1" cy="896.1" r="2.8"/><circle cx="575.0" cy="853.5" r="2.8"/><circle cx="575.9" cy="889.4" r="2.8"/><circle cx="576.8" cy="860.7" r="2.8"/><circle cx="577.7" cy="883.1" r="2.8"/><circle cx="578.6" cy="863.9" r="2.8"/><circle cx="579.5" cy="856.0" r="2.8"/><circle cx="580.4" cy="862.0" r="2.8"/><circle cx="581.3" cy="863.1" r="2.8"/><circle cx="582.2" cy="869.3" r="2.8"/><circle cx="583.1" cy="881.1" r="2.8"/><circle cx="584.0" cy="853.0" r="2.8"/><circle cx="584.9" cy="857.4" r="2.8"/><circle cx="585.8" cy="880.8" r="2.8"/><circle cx="586.7" cy="869.3" r="2.8"/><circle cx="587.6" cy="890.6" r="2.8"/><circle cx="588.5" cy="879.7" r="2.8"/><circle cx="589.4" cy="875.2" r="2.8"/><circle cx="590.3" cy="882.2" r="2.8"/><circle cx="591.2" cy="868.6" r="2.8"/><circle cx="592.1" cy="885.7" r="2.8"/><circle cx="593.0" cy="881.5" r="2.8"/><circle cx="593.9" cy="891.0" r="2.8"/><circle cx="594.8" cy="874.9" r="2.8"/><circle cx="595.7" cy="890.3" r="2.8"/><circle cx="596.6" cy="894.7" r="2.8"/><circle cx="597.5" cy="891.2" r="2.8"/><circle cx="598.4" cy="902.3" r="2.8"/><circle cx="599.3" cy="893.1" r="2.8"/><circle cx="600.2" cy="937.3" r="2.8"/><circle cx="601.1" cy="910.8" r="2.8"/><circle cx="602.0" cy="897.2" r="2.8"/><circle cx="602.9" cy="905.2" r="2.8"/><circle cx="603.8" cy="926.2" r="2.8"/><circle cx="604.7" cy="908.9" r="2.8"/><circle cx="605.6" cy="903.5" r="2.8"/><circle cx="606.5" cy="929.4" r="2.8"/><circle cx="607.4" cy="898.7" r="2.8"/><circle cx="608.3" cy="931.1" r="2.8"/><circle cx="609.2" cy="924.6" r="2.8"/><circle cx="610.1" cy="933.3" r="2.8"/><circle cx="611.0" cy="916.9" r="2.8"/><circle cx="611.9" cy="934.5" r="2.8"/><circle cx="612.8" cy="920.5" r="2.8"/><circle cx="613.7" cy="927.3" r="2.8"/><circle cx="614.6" cy="928.5" r="2.8"/><circle cx="615.5" cy="933.4" r="2.8"/><circle cx="616.4" cy="921.4" r="2.8"/><circle cx="617.3" cy="931.2" r="2.8"/><circle cx="618.2" cy="928.5" r="2.8"/><circle cx="619.1" cy="925.7" r="2.8"/><circle cx="620.0" cy="918.5" r="2.8"/><circle cx="620.9" cy="945.5" r="2.8"/><circle cx="621.8" cy="935.1" r="2.8"/><circle cx="622.7" cy="931.5" r="2.8"/><circle cx="623.6" cy="925.0" r="2.8"/><circle cx="624.5" cy="930.4" r="2.8"/><circle cx="625.4" cy="937.9" r="2.8"/><circle cx="626.3" cy="940.6" r="2.8"/><circle cx="627.2" cy="940.9" r="2.8"/><circle cx="628.1" cy="930.4" r="2.8"/><circle cx="629.0" cy="953.7" r="2.8"/><circle cx="629.9" cy="941.3" r="2.8"/><circle cx="630.8" cy="928.0" r="2.8"/><circle cx="631.7" cy="919.2" r="2.8"/><circle cx="632.6" cy="949.1" r="2.8"/><circle cx="633.5" cy="938.8" r="2.8"/><circle cx="634.4" cy="957.1" r="2.8"/><circle cx="635.3" cy="952.4" r="2.8"/><circle cx="636.2" cy="939.1" r="2.8"/><circle cx="637.1" cy="958.8" r="2.8"/><circle cx="638.0" cy="946.3" r="2.8"/><circle cx="638.9" cy="964.6" r="2.8"/><circle cx="639.8" cy="955.1" r="2.8"/><circle cx="640.7" cy="954.8" r="2.8"/><circle cx="641.6" cy="971.2" r="2.8"/><circle cx="642.5" cy="964.4" r="2.8"/><circle cx="643.4" cy="971.7" r="2.8"/><circle cx="644.3" cy="964.1" r="2.8"/><circle cx="645.2" cy="969.0" r="2.8"/><circle cx="646.1" cy="977.2" r="2.8"/><circle cx="647.0" cy="985.1" r="2.8"/><circle cx="647.9" cy="960.9" r="2.8"/><circle cx="648.8" cy="965.2" r="2.8"/><circle cx="649.7" cy="991.0" r="2.8"/><circle cx="650.6" cy="979.6" r="2.8"/><circle cx="651.5" cy="981.8" r="2.8"/><circle cx="652.4" cy="975.3" r="2.8"/><circle cx="653.3" cy="981.0" r="2.8"/><circle cx="654.2" cy="963.5" r="2.8"/><circle cx="655.1" cy="980.3" r="2.8"/><circle cx="656.0" cy="955.9" r="2.8"/><circle cx="656.9" cy="969.0" r="2.8"/><circle cx="657.8" cy="971.4" r="2.8"/><circle cx="658.7" cy="996.6" r="2.8"/><circle cx="659.6" cy="989.8" r="2.8"/><circle cx="660.5" cy="996.0" r="2.8"/><circle cx="661.4" cy="983.7" r="2.8"/><circle cx="662.3" cy="971.0" r="2.8"/><circle cx="663.2" cy="980.6" r="2.8"/><circle cx="664.1" cy="987.4" r="2.8"/><circle cx="665.0" cy="998.8" r="2.8"/><circle cx="665.9" cy="998.5" r="2.8"/><circle cx="666.8" cy="993.8" r="2.8"/><circle cx="667.7" cy="989.3" r="2.8"/><circle cx="668.6" cy="991.1" r="2.8"/><circle cx="669.5" cy="985.3" r="2.8"/><circle cx="670.4" cy="1006.7" r="2.8"/><circle cx="671.3" cy="977.7" r="2.8"/><circle cx="672.2" cy="1006.7" r="2.8"/><circle cx="673.1" cy="979.4" r="2.8"/><circle cx="674.0" cy="999.2" r="2.8"/><circle cx="674.9" cy="1000.3" r="2.8"/><circle cx="675.8" cy="993.9" r="2.8"/><circle cx="676.7" cy="987.4" r="2.8"/><circle cx="677.6" cy="1015.8" r="2.8"/><circle cx="678.5" cy="1004.0" r="2.8"/><circle cx="679.4" cy="1004.3" r="2.8"/><circle cx="680.3" cy="998.3" r="2.8"/><circle cx="681.2" cy="991.6" r="2.8"/><circle cx="682.1" cy="1005.6" r="2.8"/><circle cx="683.0" cy="984.0" r="2.8"/><circle cx="683.9" cy="984.8" r="2.8"/><circle cx="684.8" cy="999.6" r="2.8"/><circle cx="685.7" cy="990.9" r="2.8"/><circle cx="686.6" cy="990.8" r="2.8"/><circle cx="687.5" cy="996.6" r="2.8"/><circle cx="688.4" cy="989.3" r="2.8"/><circle cx="689.3" cy="988.8" r="2.8"/><circle cx="690.2" cy="998.8" r="2.8"/><circle cx="691.1" cy="995.7" r="2.8"/><circle cx="692.0" cy="954.9" r="2.8"/><circle cx="692.9" cy="997.9" r="2.8"/><circle cx="693.8" cy="997.6" r="2.8"/><circle cx="694.7" cy="982.5" r="2.8"/><circle cx="695.6" cy="988.5" r="2.8"/><circle cx="696.5" cy="1019.7" r="2.8"/><circle cx="697.4" cy="991.6" r="2.8"/><circle cx="698.3" cy="981.2" r="2.8"/><circle cx="699.2" cy="980.1" r="2.8"/><circle cx="700.1" cy="1006.9" r="2.8"/><circle cx="701.0" cy="994.4" r="2.8"/><circle cx="701.9" cy="991.1" r="2.8"/><circle cx="702.8" cy="974.6" r="2.8"/><circle cx="703.7" cy="1003.4" r="2.8"/><circle cx="704.6" cy="1002.0" r="2.8"/><circle cx="705.5" cy="987.1" r="2.8"/><circle cx="706.4" cy="983.1" r="2.8"/><circle cx="707.3" cy="986.4" r="2.8"/><circle cx="708.2" cy="979.2" r="2.8"/><circle cx="709.1" cy="1002.1" r="2.8"/><circle cx="710.0" cy="998.5" r="2.8"/><circle cx="710.9" cy="995.9" r="2.8"/><circle cx="711.8" cy="987.3" r="2.8"/><circle cx="712.7" cy="984.0" r="2.8"/><circle cx="713.6" cy="1004.3" r="2.8"/><circle cx="714.5" cy="991.8" r="2.8"/><circle cx="715.4" cy="997.9" r="2.8"/><circle cx="716.3" cy="1014.2" r="2.8"/><circle cx="717.2" cy="965.0" r="2.8"/><circle cx="718.1" cy="1004.4" r="2.8"/><circle cx="719.0" cy="987.8" r="2.8"/><circle cx="719.9" cy="1005.9" r="2.8"/><circle cx="720.8" cy="993.7" r="2.8"/><circle cx="721.7" cy="985.2" r="2.8"/><circle cx="722.6" cy="966.1" r="2.8"/><circle cx="723.5" cy="966.4" r="2.8"/><circle cx="724.4" cy="997.4" r="2.8"/><circle cx="725.3" cy="993.7" r="2.8"/><circle cx="726.2" cy="971.5" r="2.8"/><circle cx="727.1" cy="982.0" r="2.8"/><circle cx="728.0" cy="967.5" r="2.8"/><circle cx="728.9" cy="967.0" r="2.8"/><circle cx="729.8" cy="940.3" r="2.8"/><circle cx="730.7" cy="982.6" r="2.8"/><circle cx="731.6" cy="956.4" r="2.8"/><circle cx="732.5" cy="988.4" r="2.8"/><circle cx="733.4" cy="983.8" r="2.8"/><circle cx="734.3" cy="960.6" r="2.8"/><circle cx="735.2" cy="978.6" r="2.8"/><circle cx="736.1" cy="973.7" r="2.8"/><circle cx="737.0" cy="959.0" r="2.8"/><circle cx="737.9" cy="975.7" r="2.8"/><circle cx="738.8" cy="983.6" r="2.8"/><circle cx="739.7" cy="975.9" r="2.8"/><circle cx="740.6" cy="980.4" r="2.8"/><circle cx="741.5" cy="951.6" r="2.8"/><circle cx="742.4" cy="962.5" r="2.8"/><circle cx="743.3" cy="971.2" r="2.8"/><circle cx="744.2" cy="969.2" r="2.8"/><circle cx="745.1" cy="968.4" r="2.8"/><circle cx="746.0" cy="994.7" r="2.8"/><circle cx="746.9" cy="979.4" r="2.8"/><circle cx="747.8" cy="970.5" r="2.8"/><circle cx="748.7" cy="981.5" r="2.8"/><circle cx="749.6" cy="959.4" r="2.8"/><circle cx="750.5" cy="959.5" r="2.8"/><circle cx="751.4" cy="962.2" r="2.8"/><circle cx="752.3" cy="955.1" r="2.8"/><circle cx="753.2" cy="962.8" r="2.8"/><circle cx="754.1" cy="973.5" r="2.8"/><circle cx="755.0" cy="962.9" r="2.8"/><circle cx="755.9" cy="978.0" r="2.8"/><circle cx="756.8" cy="956.2" r="2.8"/><circle cx="757.7" cy="973.5" r="2.8"/><circle cx="758.6" cy="967.8" r="2.8"/><circle cx="759.5" cy="981.2" r="2.8"/><circle cx="760.4" cy="960.3" r="2.8"/><circle cx="761.3" cy="954.4" r="2.8"/><circle cx="762.2" cy="961.5" r="2.8"/><circle cx="763.1" cy="967.1" r="2.8"/><circle cx="764.0" cy="961.2" r="2.8"/><circle cx="764.9" cy="983.3" r="2.8"/><circle cx="765.8" cy="973.3" r="2.8"/><circle cx="766.7" cy="961.3" r="2.8"/><circle cx="767.6" cy="954.7" r="2.8"/><circle cx="768.5" cy="959.3" r="2.8"/><circle cx="769.4" cy="954.3" r="2.8"/><circle cx="770.3" cy="980.6" r="2.8"/><circle cx="771.2" cy="984.0" r="2.8"/><circle cx="772.1" cy="971.4" r="2.8"/><circle cx="773.0" cy="962.6" r="2.8"/><circle cx="773.9" cy="957.4" r="2.8"/><circle cx="774.8" cy="980.1" r="2.8"/><circle cx="775.7" cy="958.6" r="2.8"/><circle cx="776.6" cy="960.7" r="2.8"/><circle cx="777.5" cy="985.2" r="2.8"/><circle cx="778.4" cy="983.7" r="2.8"/><circle cx="779.3" cy="986.6" r="2.8"/><circle cx="780.2" cy="965.1" r="2.8"/><circle cx="781.1" cy="966.1" r="2.8"/><circle cx="782.0" cy="989.3" r="2.8"/><circle cx="782.9" cy="994.5" r="2.8"/><circle cx="783.8" cy="991.5" r="2.8"/><circle cx="784.7" cy="983.0" r="2.8"/><circle cx="785.6" cy="977.6" r="2.8"/><circle cx="786.5" cy="995.5" r="2.8"/><circle cx="787.4" cy="973.5" r="2.8"/><circle cx="788.3" cy="982.8" r="2.8"/><circle cx="789.2" cy="986.7" r="2.8"/><circle cx="790.1" cy="997.0" r="2.8"/><circle cx="791.0" cy="989.1" r="2.8"/><circle cx="791.9" cy="980.3" r="2.8"/><circle cx="792.8" cy="1005.8" r="2.8"/><circle cx="793.7" cy="964.4" r="2.8"/><circle cx="794.6" cy="985.6" r="2.8"/><circle cx="795.5" cy="969.8" r="2.8"/><circle cx="796.4" cy="973.4" r="2.8"/><circle cx="797.3" cy="1017.5" r="2.8"/><circle cx="798.2" cy="1002.2" r="2.8"/><circle cx="799.1" cy="994.3" r="2.8"/><circle cx="800.0" cy="977.0" r="2.8"/><circle cx="800.9" cy="971.3" r="2.8"/><circle cx="801.8" cy="983.8" r="2.8"/><circle cx="802.7" cy="997.8" r="2.8"/><circle cx="803.6" cy="981.4" r="2.8"/><circle cx="804.5" cy="994.1" r="2.8"/><circle cx="805.4" cy="1013.9" r="2.8"/><circle cx="806.3" cy="998.6" r="2.8"/><circle cx="807.2" cy="986.6" r="2.8"/><circle cx="808.1" cy="1001.2" r="2.8"/><circle cx="809.0" cy="1006.1" r="2.8"/><circle cx="809.9" cy="995.3" r="2.8"/><circle cx="810.8" cy="984.6" r="2.8"/><circle cx="811.7" cy="1008.1" r="2.8"/><circle cx="812.6" cy="992.5" r="2.8"/><circle cx="813.5" cy="1011.8" r="2.8"/><circle cx="814.4" cy="1000.6" r="2.8"/><circle cx="815.3" cy="1011.4" r="2.8"/><circle cx="816.2" cy="999.7" r="2.8"/><circle cx="817.1" cy="1022.1" r="2.8"/><circle cx="818.0" cy="997.7" r="2.8"/><circle cx="818.9" cy="1027.5" r="2.8"/><circle cx="819.8" cy="1024.9" r="2.8"/><circle cx="820.7" cy="1015.6" r="2.8"/><circle cx="821.6" cy="1030.2" r="2.8"/><circle cx="822.5" cy="1006.5" r="2.8"/><circle cx="823.4" cy="1001.8" r="2.8"/><circle cx="824.3" cy="987.8" r="2.8"/><circle cx="825.2" cy="1019.8" r="2.8"/><circle cx="826.1" cy="1010.2" r="2.8"/><circle cx="827.0" cy="1022.8" r="2.8"/><circle cx="827.9" cy="1020.6" r="2.8"/><circle cx="828.8" cy="1031.3" r="2.8"/><circle cx="829.7" cy="1032.0" r="2.8"/><circle cx="830.6" cy="1032.3" r="2.8"/><circle cx="831.5" cy="1042.2" r="2.8"/><circle cx="832.4" cy="1028.8" r="2.8"/><circle cx="833.3" cy="1033.3" r="2.8"/><circle cx="834.2" cy="1016.1" r="2.8"/><circle cx="835.1" cy="1035.8" r="2.8"/><circle cx="836.0" cy="1043.9" r="2.8"/><circle cx="836.9" cy="1050.7" r="2.8"/><circle cx="837.8" cy="1026.6" r="2.8"/><circle cx="838.7" cy="1031.9" r="2.8"/><circle cx="839.6" cy="1029.2" r="2.8"/><circle cx="840.5" cy="1035.1" r="2.8"/><circle cx="841.4" cy="1041.6" r="2.8"/><circle cx="842.3" cy="1062.9" r="2.8"/><circle cx="843.2" cy="1032.0" r="2.8"/><circle cx="844.1" cy="1059.2" r="2.8"/><circle cx="845.0" cy="1058.3" r="2.8"/><circle cx="845.9" cy="1041.4" r="2.8"/><circle cx="846.8" cy="1041.1" r="2.8"/><circle cx="847.7" cy="1083.6" r="2.8"/><circle cx="848.6" cy="1047.0" r="2.8"/><circle cx="849.5" cy="1056.8" r="2.8"/><circle cx="850.4" cy="1053.4" r="2.8"/><circle cx="851.3" cy="1044.4" r="2.8"/><circle cx="852.2" cy="1054.5" r="2.8"/><circle cx="853.1" cy="1038.3" r="2.8"/><circle cx="854.0" cy="1072.2" r="2.8"/><circle cx="854.9" cy="1049.8" r="2.8"/><circle cx="855.8" cy="1056.3" r="2.8"/><circle cx="856.7" cy="1059.6" r="2.8"/><circle cx="857.6" cy="1067.2" r="2.8"/><circle cx="858.5" cy="1068.9" r="2.8"/><circle cx="859.4" cy="1064.7" r="2.8"/><circle cx="860.3" cy="1055.9" r="2.8"/><circle cx="861.2" cy="1060.2" r="2.8"/><circle cx="862.1" cy="1048.2" r="2.8"/><circle cx="863.0" cy="1089.3" r="2.8"/><circle cx="863.9" cy="1073.5" r="2.8"/><circle cx="864.7" cy="1052.2" r="2.8"/><circle cx="865.6" cy="1079.8" r="2.8"/><circle cx="866.5" cy="1070.1" r="2.8"/><circle cx="867.4" cy="1096.2" r="2.8"/><circle cx="868.2" cy="1073.1" r="2.8"/><circle cx="869.1" cy="1066.4" r="2.8"/><circle cx="869.9" cy="1073.2" r="2.8"/><circle cx="870.8" cy="1068.2" r="2.8"/><circle cx="871.6" cy="1100.3" r="2.8"/><circle cx="872.5" cy="1070.8" r="2.8"/><circle cx="873.3" cy="1066.0" r="2.8"/><circle cx="874.1" cy="1072.8" r="2.8"/><circle cx="875.0" cy="1071.4" r="2.8"/><circle cx="875.8" cy="1063.7" r="2.8"/><circle cx="876.6" cy="1090.9" r="2.8"/><circle cx="877.4" cy="1074.2" r="2.8"/><circle cx="878.2" cy="1107.1" r="2.8"/><circle cx="879.1" cy="1066.1" r="2.8"/><circle cx="879.9" cy="1092.2" r="2.8"/><circle cx="880.7" cy="1081.1" r="2.8"/><circle cx="881.5" cy="1084.6" r="2.8"/><circle cx="882.2" cy="1078.7" r="2.8"/><circle cx="883.0" cy="1113.6" r="2.8"/><circle cx="883.8" cy="1047.8" r="2.8"/><circle cx="884.6" cy="1067.7" r="2.8"/><circle cx="885.4" cy="1081.9" r="2.8"/><circle cx="886.2" cy="1098.6" r="2.8"/><circle cx="886.9" cy="1054.6" r="2.8"/><circle cx="887.7" cy="1106.2" r="2.8"/><circle cx="888.4" cy="1088.8" r="2.8"/><circle cx="889.2" cy="1081.8" r="2.8"/><circle cx="890.0" cy="1076.9" r="2.8"/><circle cx="890.7" cy="1088.8" r="2.8"/><circle cx="891.5" cy="1103.3" r="2.8"/><circle cx="892.2" cy="1089.8" r="2.8"/><circle cx="892.9" cy="1106.7" r="2.8"/><circle cx="893.7" cy="1090.7" r="2.8"/><circle cx="894.4" cy="1105.7" r="2.8"/><circle cx="895.1" cy="1114.9" r="2.8"/><circle cx="895.9" cy="1108.5" r="2.8"/><circle cx="896.6" cy="1093.0" r="2.8"/><circle cx="897.3" cy="1110.3" r="2.8"/><circle cx="898.0" cy="1108.9" r="2.8"/><circle cx="898.7" cy="1085.5" r="2.8"/><circle cx="899.4" cy="1090.9" r="2.8"/><circle cx="900.1" cy="1097.9" r="2.8"/><circle cx="900.8" cy="1104.2" r="2.8"/><circle cx="901.5" cy="1112.6" r="2.8"/><circle cx="902.2" cy="1136.6" r="2.8"/><circle cx="902.9" cy="1103.9" r="2.8"/><circle cx="903.6" cy="1118.3" r="2.8"/><circle cx="904.3" cy="1109.0" r="2.8"/><circle cx="905.0" cy="1124.3" r="2.8"/><circle cx="905.7" cy="1108.2" r="2.8"/><circle cx="906.4" cy="1119.4" r="2.8"/><circle cx="907.1" cy="1116.1" r="2.8"/><circle cx="907.8" cy="1123.5" r="2.8"/><circle cx="908.5" cy="1123.5" r="2.8"/><circle cx="909.2" cy="1118.3" r="2.8"/><circle cx="909.9" cy="1112.4" r="2.8"/><circle cx="910.6" cy="1126.7" r="2.8"/><circle cx="911.3" cy="1108.1" r="2.8"/><circle cx="912.0" cy="1123.2" r="2.8"/><circle cx="912.7" cy="1084.6" r="2.8"/><circle cx="913.4" cy="1125.7" r="2.8"/><circle cx="914.1" cy="1142.1" r="2.8"/><circle cx="914.8" cy="1122.6" r="2.8"/><circle cx="915.5" cy="1118.4" r="2.8"/><circle cx="916.2" cy="1120.2" r="2.8"/><circle cx="916.9" cy="1137.2" r="2.8"/><circle cx="917.6" cy="1126.5" r="2.8"/><circle cx="918.3" cy="1118.2" r="2.8"/><circle cx="919.0" cy="1100.5" r="2.8"/><circle cx="919.7" cy="1119.7" r="2.8"/><circle cx="920.4" cy="1104.3" r="2.8"/><circle cx="921.1" cy="1124.6" r="2.8"/><circle cx="921.8" cy="1138.7" r="2.8"/><circle cx="922.5" cy="1108.4" r="2.8"/><circle cx="923.2" cy="1115.9" r="2.8"/><circle cx="923.9" cy="1124.8" r="2.8"/><circle cx="924.6" cy="1127.1" r="2.8"/><circle cx="925.3" cy="1114.9" r="2.8"/><circle cx="926.0" cy="1091.4" r="2.8"/><circle cx="926.7" cy="1118.8" r="2.8"/><circle cx="927.4" cy="1115.5" r="2.8"/><circle cx="928.1" cy="1134.0" r="2.8"/><circle cx="928.8" cy="1101.9" r="2.8"/><circle cx="929.5" cy="1120.8" r="2.8"/><circle cx="930.2" cy="1121.7" r="2.8"/><circle cx="930.9" cy="1110.8" r="2.8"/><circle cx="931.6" cy="1106.6" r="2.8"/><circle cx="932.3" cy="1118.8" r="2.8"/><circle cx="933.0" cy="1113.4" r="2.8"/><circle cx="933.7" cy="1141.2" r="2.8"/><circle cx="934.4" cy="1130.0" r="2.8"/><circle cx="935.1" cy="1100.8" r="2.8"/><circle cx="935.8" cy="1114.1" r="2.8"/><circle cx="936.5" cy="1098.4" r="2.8"/><circle cx="937.2" cy="1120.3" r="2.8"/><circle cx="937.9" cy="1162.0" r="2.8"/><circle cx="938.6" cy="1099.4" r="2.8"/><circle cx="939.3" cy="1102.8" r="2.8"/><circle cx="940.0" cy="1145.5" r="2.8"/><circle cx="940.7" cy="1140.9" r="2.8"/><circle cx="941.4" cy="1121.3" r="2.8"/><circle cx="942.1" cy="1085.2" r="2.8"/><circle cx="942.8" cy="1133.3" r="2.8"/><circle cx="943.5" cy="1104.7" r="2.8"/><circle cx="944.2" cy="1110.8" r="2.8"/><circle cx="944.9" cy="1109.1" r="2.8"/><circle cx="945.6" cy="1123.7" r="2.8"/><circle cx="946.3" cy="1111.6" r="2.8"/><circle cx="947.0" cy="1116.0" r="2.8"/><circle cx="947.7" cy="1128.6" r="2.8"/><circle cx="948.4" cy="1106.7" r="2.8"/><circle cx="949.1" cy="1143.7" r="2.8"/><circle cx="949.8" cy="1139.9" r="2.8"/><circle cx="950.5" cy="1115.3" r="2.8"/><circle cx="951.2" cy="1143.2" r="2.8"/><circle cx="951.9" cy="1125.5" r="2.8"/><circle cx="952.6" cy="1125.2" r="2.8"/><circle cx="953.3" cy="1135.3" r="2.8"/><circle cx="954.0" cy="1111.5" r="2.8"/><circle cx="954.7" cy="1132.1" r="2.8"/><circle cx="955.4" cy="1121.9" r="2.8"/><circle cx="956.1" cy="1134.2" r="2.8"/><circle cx="956.8" cy="1122.0" r="2.8"/><circle cx="957.5" cy="1105.8" r="2.8"/><circle cx="958.2" cy="1081.4" r="2.8"/><circle cx="958.9" cy="1110.6" r="2.8"/><circle cx="959.6" cy="1130.0" r="2.8"/><circle cx="960.3" cy="1133.5" r="2.8"/><circle cx="961.0" cy="1123.2" r="2.8"/><circle cx="961.7" cy="1104.3" r="2.8"/><circle cx="962.4" cy="1092.2" r="2.8"/><circle cx="963.1" cy="1126.2" r="2.8"/><circle cx="963.8" cy="1117.3" r="2.8"/><circle cx="964.5" cy="1109.7" r="2.8"/><circle cx="965.2" cy="1107.7" r="2.8"/><circle cx="965.9" cy="1131.8" r="2.8"/><circle cx="966.6" cy="1126.4" r="2.8"/><circle cx="967.3" cy="1125.0" r="2.8"/><circle cx="968.0" cy="1116.6" r="2.8"/><circle cx="968.7" cy="1123.4" r="2.8"/><circle cx="969.4" cy="1108.6" r="2.8"/><circle cx="970.1" cy="1153.8" r="2.8"/><circle cx="970.8" cy="1110.3" r="2.8"/><circle cx="971.5" cy="1121.9" r="2.8"/><circle cx="972.2" cy="1119.3" r="2.8"/><circle cx="972.9" cy="1110.2" r="2.8"/><circle cx="973.6" cy="1114.1" r="2.8"/><circle cx="974.3" cy="1114.3" r="2.8"/><circle cx="975.0" cy="1132.6" r="2.8"/><circle cx="975.7" cy="1114.1" r="2.8"/><circle cx="976.4" cy="1108.7" r="2.8"/><circle cx="977.1" cy="1133.6" r="2.8"/><circle cx="977.8" cy="1113.4" r="2.8"/><circle cx="978.5" cy="1108.7" r="2.8"/><circle cx="979.2" cy="1091.1" r="2.8"/><circle cx="979.9" cy="1115.5" r="2.8"/><circle cx="980.6" cy="1125.2" r="2.8"/><circle cx="981.3" cy="1114.5" r="2.8"/><circle cx="982.0" cy="1132.5" r="2.8"/><circle cx="982.7" cy="1148.9" r="2.8"/><circle cx="983.4" cy="1111.6" r="2.8"/><circle cx="984.1" cy="1134.2" r="2.8"/><circle cx="984.8" cy="1124.0" r="2.8"/><circle cx="985.5" cy="1143.0" r="2.8"/><circle cx="986.2" cy="1126.4" r="2.8"/><circle cx="986.9" cy="1114.0" r="2.8"/><circle cx="987.6" cy="1110.7" r="2.8"/><circle cx="988.3" cy="1122.1" r="2.8"/><circle cx="989.0" cy="1119.4" r="2.8"/><circle cx="989.7" cy="1145.8" r="2.8"/><circle cx="990.4" cy="1088.7" r="2.8"/><circle cx="991.1" cy="1118.1" r="2.8"/><circle cx="991.8" cy="1134.0" r="2.8"/><circle cx="992.5" cy="1129.7" r="2.8"/><circle cx="993.2" cy="1123.5" r="2.8"/><circle cx="993.9" cy="1136.4" r="2.8"/><circle cx="994.6" cy="1131.5" r="2.8"/><circle cx="995.3" cy="1133.8" r="2.8"/><circle cx="996.0" cy="1129.3" r="2.8"/><circle cx="996.7" cy="1129.0" r="2.8"/><circle cx="997.4" cy="1124.7" r="2.8"/><circle cx="998.1" cy="1123.1" r="2.8"/><circle cx="998.8" cy="1122.5" r="2.8"/><circle cx="999.5" cy="1115.6" r="2.8"/><circle cx="1000.2" cy="1105.5" r="2.8"/><circle cx="1000.9" cy="1133.9" r="2.8"/><circle cx="1001.6" cy="1129.0" r="2.8"/><circle cx="1002.3" cy="1142.7" r="2.8"/><circle cx="1003.0" cy="1105.9" r="2.8"/><circle cx="1003.7" cy="1135.8" r="2.8"/><circle cx="1004.4" cy="1124.2" r="2.8"/><circle cx="1005.1" cy="1118.5" r="2.8"/><circle cx="1005.8" cy="1129.1" r="2.8"/><circle cx="1006.5" cy="1157.0" r="2.8"/><circle cx="1007.2" cy="1111.4" r="2.8"/><circle cx="1007.9" cy="1122.5" r="2.8"/><circle cx="1008.6" cy="1107.5" r="2.8"/><circle cx="1009.3" cy="1112.9" r="2.8"/><circle cx="1010.0" cy="1133.8" r="2.8"/><circle cx="1010.7" cy="1135.6" r="2.8"/><circle cx="1011.4" cy="1123.4" r="2.8"/><circle cx="1012.1" cy="1142.2" r="2.8"/><circle cx="1012.8" cy="1127.1" r="2.8"/><circle cx="1013.5" cy="1129.5" r="2.8"/><circle cx="1014.2" cy="1135.1" r="2.8"/><circle cx="1014.9" cy="1116.4" r="2.8"/><circle cx="1015.6" cy="1114.9" r="2.8"/><circle cx="1016.3" cy="1115.4" r="2.8"/><circle cx="1017.0" cy="1114.2" r="2.8"/><circle cx="1017.7" cy="1127.4" r="2.8"/><circle cx="1018.4" cy="1128.3" r="2.8"/><circle cx="1019.1" cy="1130.4" r="2.8"/><circle cx="1019.8" cy="1126.3" r="2.8"/><circle cx="1020.5" cy="1135.7" r="2.8"/><circle cx="1021.2" cy="1127.8" r="2.8"/><circle cx="1021.9" cy="1115.2" r="2.8"/><circle cx="1022.6" cy="1148.3" r="2.8"/><circle cx="1023.3" cy="1117.3" r="2.8"/><circle cx="1024.0" cy="1118.5" r="2.8"/><circle cx="1024.7" cy="1128.0" r="2.8"/><circle cx="1025.4" cy="1131.1" r="2.8"/><circle cx="1026.1" cy="1129.1" r="2.8"/><circle cx="1026.8" cy="1103.1" r="2.8"/><circle cx="1027.5" cy="1118.6" r="2.8"/><circle cx="1028.2" cy="1135.9" r="2.8"/><circle cx="1028.9" cy="1141.7" r="2.8"/><circle cx="1029.6" cy="1119.5" r="2.8"/><circle cx="1030.3" cy="1127.1" r="2.8"/><circle cx="1031.0" cy="1122.8" r="2.8"/><circle cx="1031.7" cy="1123.4" r="2.8"/><circle cx="1032.4" cy="1125.3" r="2.8"/><circle cx="1033.1" cy="1128.6" r="2.8"/><circle cx="1033.8" cy="1131.0" r="2.8"/><circle cx="1034.5" cy="1124.3" r="2.8"/><circle cx="1035.2" cy="1138.1" r="2.8"/><circle cx="1035.9" cy="1132.5" r="2.8"/><circle cx="1036.6" cy="1134.9" r="2.8"/><circle cx="1037.3" cy="1124.7" r="2.8"/><circle cx="1038.0" cy="1120.7" r="2.8"/><circle cx="1038.7" cy="1127.2" r="2.8"/><circle cx="1039.4" cy="1100.4" r="2.8"/><circle cx="1040.1" cy="1133.0" r="2.8"/><circle cx="1040.8" cy="1139.2" r="2.8"/><circle cx="1041.5" cy="1135.4" r="2.8"/><circle cx="1042.2" cy="1150.2" r="2.8"/><circle cx="1042.9" cy="1130.3" r="2.8"/><circle cx="1043.6" cy="1145.7" r="2.8"/><circle cx="1044.3" cy="1137.9" r="2.8"/><circle cx="1045.0" cy="1151.4" r="2.8"/><circle cx="1045.7" cy="1131.9" r="2.8"/><circle cx="1046.4" cy="1139.3" r="2.8"/><circle cx="1047.1" cy="1146.2" r="2.8"/><circle cx="1047.8" cy="1140.7" r="2.8"/><circle cx="1048.5" cy="1151.6" r="2.8"/><circle cx="1049.2" cy="1097.6" r="2.8"/><circle cx="1049.9" cy="1138.6" r="2.8"/><circle cx="1050.6" cy="1155.4" r="2.8"/><circle cx="1051.3" cy="1141.4" r="2.8"/><circle cx="1052.0" cy="1147.9" r="2.8"/><circle cx="1052.7" cy="1126.3" r="2.8"/><circle cx="1053.4" cy="1137.6" r="2.8"/><circle cx="1054.1" cy="1133.2" r="2.8"/><circle cx="1054.8" cy="1140.2" r="2.8"/><circle cx="1055.5" cy="1151.4" r="2.8"/><circle cx="1056.2" cy="1144.4" r="2.8"/><circle cx="1056.9" cy="1147.9" r="2.8"/><circle cx="1057.6" cy="1129.6" r="2.8"/><circle cx="1058.3" cy="1130.5" r="2.8"/><circle cx="1059.0" cy="1124.1" r="2.8"/><circle cx="1059.7" cy="1145.3" r="2.8"/><circle cx="1060.4" cy="1123.0" r="2.8"/><circle cx="1061.1" cy="1149.8" r="2.8"/><circle cx="1061.8" cy="1136.4" r="2.8"/><circle cx="1062.5" cy="1115.5" r="2.8"/><circle cx="1063.2" cy="1149.0" r="2.8"/><circle cx="1063.9" cy="1120.5" r="2.8"/><circle cx="1064.6" cy="1126.3" r="2.8"/><circle cx="1065.3" cy="1149.5" r="2.8"/><circle cx="1066.0" cy="1159.9" r="2.8"/><circle cx="1066.7" cy="1136.9" r="2.8"/><circle cx="1067.4" cy="1131.1" r="2.8"/><circle cx="1068.1" cy="1134.5" r="2.8"/><circle cx="1068.8" cy="1129.8" r="2.8"/><circle cx="1069.5" cy="1151.7" r="2.8"/><circle cx="1070.2" cy="1136.1" r="2.8"/><circle cx="1070.9" cy="1148.4" r="2.8"/><circle cx="1071.6" cy="1126.8" r="2.8"/><circle cx="1072.3" cy="1130.9" r="2.8"/><circle cx="1073.0" cy="1127.7" r="2.8"/><circle cx="1073.7" cy="1173.5" r="2.8"/><circle cx="1074.4" cy="1117.9" r="2.8"/><circle cx="1075.1" cy="1139.2" r="2.8"/><circle cx="1075.8" cy="1128.7" r="2.8"/><circle cx="1076.5" cy="1143.2" r="2.8"/><circle cx="1077.2" cy="1143.4" r="2.8"/><circle cx="1077.9" cy="1106.4" r="2.8"/><circle cx="1078.6" cy="1130.5" r="2.8"/><circle cx="1079.3" cy="1140.9" r="2.8"/><circle cx="1080.0" cy="1142.1" r="2.8"/><circle cx="1080.7" cy="1140.1" r="2.8"/><circle cx="1081.4" cy="1114.4" r="2.8"/><circle cx="1082.1" cy="1130.0" r="2.8"/><circle cx="1082.8" cy="1137.4" r="2.8"/><circle cx="1083.5" cy="1139.9" r="2.8"/><circle cx="1084.2" cy="1119.2" r="2.8"/><circle cx="1084.9" cy="1123.5" r="2.8"/><circle cx="1085.6" cy="1148.3" r="2.8"/><circle cx="1086.3" cy="1126.6" r="2.8"/><circle cx="1087.0" cy="1131.8" r="2.8"/><circle cx="1087.7" cy="1156.6" r="2.8"/><circle cx="1088.4" cy="1134.1" r="2.8"/><circle cx="1089.1" cy="1152.4" r="2.8"/><circle cx="1089.8" cy="1121.8" r="2.8"/><circle cx="1090.5" cy="1124.6" r="2.8"/><circle cx="1091.2" cy="1114.1" r="2.8"/><circle cx="1091.9" cy="1134.8" r="2.8"/><circle cx="1092.6" cy="1124.3" r="2.8"/><circle cx="1093.3" cy="1136.8" r="2.8"/><circle cx="1094.0" cy="1132.2" r="2.8"/><circle cx="1094.7" cy="1128.9" r="2.8"/><circle cx="1095.4" cy="1125.5" r="2.8"/><circle cx="1096.1" cy="1138.2" r="2.8"/><circle cx="1096.8" cy="1145.0" r="2.8"/><circle cx="1097.5" cy="1125.4" r="2.8"/><circle cx="1098.2" cy="1150.9" r="2.8"/><circle cx="1098.9" cy="1141.3" r="2.8"/><circle cx="1099.6" cy="1144.0" r="2.8"/><circle cx="1100.3" cy="1129.7" r="2.8"/><circle cx="1101.0" cy="1126.0" r="2.8"/><circle cx="1101.7" cy="1122.6" r="2.8"/><circle cx="1102.4" cy="1122.7" r="2.8"/><circle cx="1103.1" cy="1125.2" r="2.8"/><circle cx="1103.8" cy="1157.6" r="2.8"/><circle cx="1104.5" cy="1145.2" r="2.8"/><circle cx="1105.2" cy="1150.5" r="2.8"/><circle cx="1105.9" cy="1113.3" r="2.8"/><circle cx="1106.6" cy="1155.5" r="2.8"/><circle cx="1107.3" cy="1125.1" r="2.8"/><circle cx="1108.0" cy="1131.6" r="2.8"/><circle cx="1108.7" cy="1112.0" r="2.8"/><circle cx="1109.4" cy="1126.3" r="2.8"/><circle cx="1110.1" cy="1133.3" r="2.8"/><circle cx="1110.8" cy="1124.8" r="2.8"/><circle cx="1111.5" cy="1122.7" r="2.8"/><circle cx="1112.2" cy="1144.5" r="2.8"/><circle cx="1112.9" cy="1144.9" r="2.8"/><circle cx="1113.6" cy="1153.9" r="2.8"/><circle cx="1114.3" cy="1108.9" r="2.8"/><circle cx="1115.0" cy="1119.4" r="2.8"/><circle cx="1115.7" cy="1143.8" r="2.8"/><circle cx="1116.4" cy="1120.4" r="2.8"/><circle cx="1117.1" cy="1109.9" r="2.8"/><circle cx="1117.8" cy="1147.8" r="2.8"/><circle cx="1118.5" cy="1143.0" r="2.8"/><circle cx="1119.2" cy="1140.9" r="2.8"/><circle cx="1119.9" cy="1143.3" r="2.8"/><circle cx="1120.6" cy="1133.6" r="2.8"/><circle cx="1121.3" cy="1154.0" r="2.8"/><circle cx="1122.0" cy="1120.9" r="2.8"/><circle cx="1122.7" cy="1133.7" r="2.8"/><circle cx="1123.4" cy="1125.5" r="2.8"/><circle cx="1124.1" cy="1135.9" r="2.8"/><circle cx="1124.8" cy="1141.9" r="2.8"/><circle cx="1125.5" cy="1129.9" r="2.8"/><circle cx="1126.2" cy="1097.3" r="2.8"/><circle cx="1126.9" cy="1153.8" r="2.8"/><circle cx="1127.6" cy="1143.4" r="2.8"/><circle cx="1128.3" cy="1143.4" r="2.8"/><circle cx="1129.0" cy="1121.8" r="2.8"/><circle cx="1129.7" cy="1131.3" r="2.8"/><circle cx="1130.4" cy="1128.3" r="2.8"/><circle cx="1131.1" cy="1110.0" r="2.8"/><circle cx="1131.8" cy="1114.9" r="2.8"/><circle cx="1132.5" cy="1124.5" r="2.8"/><circle cx="1133.2" cy="1132.1" r="2.8"/><circle cx="1133.9" cy="1104.8" r="2.8"/><circle cx="1134.6" cy="1142.3" r="2.8"/><circle cx="1135.3" cy="1123.5" r="2.8"/><circle cx="1136.0" cy="1127.9" r="2.8"/><circle cx="1136.7" cy="1115.2" r="2.8"/><circle cx="1137.4" cy="1158.9" r="2.8"/><circle cx="1138.1" cy="1139.2" r="2.8"/><circle cx="1138.8" cy="1119.1" r="2.8"/><circle cx="1139.5" cy="1114.4" r="2.8"/><circle cx="1140.2" cy="1122.4" r="2.8"/><circle cx="1140.9" cy="1119.7" r="2.8"/><circle cx="1141.6" cy="1160.1" r="2.8"/><circle cx="1142.3" cy="1125.2" r="2.8"/><circle cx="1143.0" cy="1131.8" r="2.8"/><circle cx="1143.7" cy="1123.2" r="2.8"/><circle cx="1144.4" cy="1129.3" r="2.8"/><circle cx="1145.1" cy="1128.9" r="2.8"/><circle cx="1145.8" cy="1131.6" r="2.8"/><circle cx="1146.5" cy="1131.7" r="2.8"/><circle cx="1147.2" cy="1111.3" r="2.8"/><circle cx="1147.9" cy="1128.5" r="2.8"/><circle cx="1148.6" cy="1120.7" r="2.8"/><circle cx="1149.3" cy="1112.8" r="2.8"/><circle cx="1150.0" cy="1119.9" r="2.8"/><circle cx="1150.7" cy="1125.2" r="2.8"/><circle cx="1151.4" cy="1133.0" r="2.8"/><circle cx="1152.1" cy="1124.5" r="2.8"/><circle cx="1152.8" cy="1128.7" r="2.8"/></g>
<path d="M301.2,1177.2L301.2,1176.9M304.7,1166.9L304.9,1166.0M311.7,1140.2L312.3,1137.0M333.6,1148.4L333.6,1148.8M416.2,1098.7L416.6,1096.1M418.1,1088.4L418.3,1087.6M427.1,1058.3L427.3,1057.6M428.9,1049.9L429.1,1049.3M430.4,1041.5L431.2,1036.2M432.3,1028.4L432.9,1024.1M434.2,1016.3L434.6,1014.7M438.0,1000.1L438.0,999.7M439.6,992.0L440.0,989.8M455.7,965.6L456.3,961.5M463.0,946.6L463.4,944.0M471.7,915.9L472.7,907.8M475.8,896.6L475.8,896.2M477.2,888.4L478.0,881.9M478.8,874.1L480.0,860.5M482.8,846.6L483.2,844.1M489.8,824.1L490.6,818.2M491.5,810.4L492.5,800.7M493.8,793.0L493.8,792.6M497.2,781.0L497.6,779.4M498.7,771.6L499.7,762.0M500.5,754.1L501.5,743.3M502.6,735.5L503.0,732.8M504.3,725.0L504.9,720.0M506.2,712.2L506.6,710.7M511.2,691.2L512.4,671.5M513.1,663.6L514.1,655.4M514.9,647.5L515.9,638.0M516.7,630.1L517.7,620.7M525.6,593.1L526.8,576.5M529.6,561.6L530.0,559.6M533.1,551.4L533.6,548.7M534.9,548.6L535.2,549.8M538.1,553.6L538.5,556.2M546.8,573.2L547.1,575.3M548.1,583.2L548.3,585.1M550.6,586.7L550.8,587.9M555.1,601.8L555.3,604.6M556.0,604.6L556.4,599.6M563.6,581.1L563.9,577.0M564.4,577.0L564.8,583.1M565.4,583.1L565.6,580.4M568.9,579.0L569.3,574.3M570.6,573.5L571.2,557.4M571.5,557.4L572.1,569.8M572.5,569.8L572.9,563.6M573.5,563.6L573.7,566.3M574.3,566.3L574.7,557.5M575.3,557.5L575.5,558.8M577.1,556.8L577.3,555.3M577.9,555.3L578.3,562.9M578.8,562.9L579.2,558.3M579.7,550.4L580.1,544.1M580.5,544.1L581.1,558.1M581.5,558.1L581.9,550.9M582.4,550.9L582.7,554.3M583.4,554.4L583.5,553.8M586.1,541.3L586.3,543.8M589.6,530.1L589.9,526.6M592.2,527.4L592.6,534.7M593.3,534.7L593.4,534.1M594.0,526.2L594.5,516.6M596.8,518.6L597.0,516.2M599.5,514.4L599.7,512.8M600.4,512.8L600.6,515.4M604.0,515.3L604.1,513.9M605.7,516.7L606.0,519.9M606.6,519.9L606.8,516.9M607.3,516.9L607.9,529.3M611.1,533.0L611.2,532.2M613.7,539.8L614.0,542.2M614.7,542.2L614.8,540.6M616.4,539.6L616.7,535.1M617.2,535.1L617.7,545.6M625.2,559.8L625.6,552.3M626.0,552.3L626.6,567.2M629.7,568.8L630.0,572.6M632.4,586.5L632.6,589.2M639.5,599.1L639.7,601.0M642.9,608.3L643.4,617.0M645.7,614.6L646.0,617.8M647.5,631.6L647.7,633.3M648.2,633.3L648.8,618.0M650.9,623.8L651.4,631.0M651.9,638.9L652.1,641.9M654.5,634.8L654.8,639.5M657.1,650.3L657.5,642.9M659.8,648.1L660.2,653.9M662.4,659.1L662.9,670.6M663.4,670.6L663.7,666.9M665.2,664.6L665.4,667.1M666.0,667.1L666.3,663.6M666.8,663.6L667.3,678.8M668.7,680.0L668.9,681.6M675.7,688.3L676.0,684.8M679.3,695.1L679.4,696.2M682.7,684.5L683.1,691.4M688.2,692.9L688.2,693.3M689.9,698.9L689.9,698.5M690.6,698.5L691.0,703.6M691.4,703.6L691.9,694.2M692.5,694.2L692.6,694.6M693.3,694.6L693.6,691.8M694.1,691.8L694.5,697.4M695.9,698.7L696.2,695.6M696.8,687.7L697.1,682.7M698.5,690.4L698.9,697.6M699.3,697.6L699.9,684.8M703.7,684.7L704.2,677.1M704.6,677.1L705.0,684.5M707.2,674.6L707.7,666.1M708.3,666.1L708.4,667.1M709.0,667.1L709.4,661.7M711.7,661.2L711.9,659.2M714.2,662.6L714.7,670.1M715.1,670.1L715.5,663.8M716.1,663.8L716.3,665.2M716.9,665.2L717.3,657.4M719.5,662.4L719.9,654.1M721.4,650.6L721.5,649.4M722.2,649.4L722.5,654.1M724.0,655.7L724.2,658.5M727.5,656.5L727.6,656.0M731.8,649.1L732.1,653.5M736.1,641.3L736.5,648.2M739.6,639.5L739.9,636.5M743.1,631.8L743.3,629.8M745.8,630.0L745.9,628.3M749.1,629.5L749.5,623.7M750.9,620.8L751.2,626.3M753.5,616.1L753.7,613.7M756.2,614.1L756.3,615.7M757.0,615.7L757.2,613.8M757.8,613.8L758.1,618.0M758.7,618.0L759.0,614.5M760.4,613.6L760.8,606.0M761.4,606.0L761.5,607.2M764.0,602.2L764.1,600.2M764.8,600.3L765.1,604.6M768.3,610.9L768.5,612.6M769.0,612.6L769.5,599.2M769.8,599.2L770.4,619.4M770.7,619.4L771.2,609.5M772.7,608.7L772.7,608.0M773.5,608.0L773.6,608.7M775.2,604.1L775.4,602.4M781.9,608.5L782.5,595.3M782.9,595.2L783.2,601.2M788.0,606.0L788.4,599.9M788.9,599.9L789.3,607.6M789.9,607.6L790.0,606.5M790.6,606.5L791.0,613.3M792.4,613.4L792.7,610.5M793.3,610.5L793.5,612.4M795.8,615.0L796.2,621.9M798.4,620.6L798.7,616.3M799.3,616.3L799.6,619.9M804.3,637.9L804.8,650.7M805.2,650.7L805.6,644.6M808.8,647.2L808.9,645.6M809.7,645.6L809.8,647.3M815.5,657.3L816.0,665.5M816.4,665.5L816.8,660.7M819.9,660.5L820.1,663.2M824.0,671.8L824.6,684.7M825.0,684.7L825.3,680.1M834.5,696.1L834.6,698.1M840.3,707.7L840.7,714.5M841.2,714.5L841.6,708.4M842.1,708.4L842.4,711.4M843.7,716.4L844.1,709.4M845.5,705.0L845.8,710.6M849.0,723.1L849.1,725.1M854.1,722.6L854.2,723.3M854.8,731.2L855.2,738.1M860.9,742.7L861.0,743.9M864.2,745.0L864.5,748.6M865.1,748.6L865.3,746.3M871.9,750.7L872.0,751.5M872.8,759.4L872.9,759.9M876.0,766.2L876.5,752.7M877.9,757.0L878.0,758.4M882.9,767.8L883.0,768.8M888.8,785.1L889.0,786.9M889.6,786.9L889.9,782.3M896.4,790.4L896.6,792.8M901.5,792.4L901.6,792.0M902.3,792.0L902.5,793.4M904.8,795.1L905.1,790.3M905.6,790.3L905.9,795.5M907.2,798.0L907.7,808.6M908.3,808.6L908.3,807.8M908.9,807.8L909.3,815.0M909.8,815.0L910.2,805.7M911.5,800.8L911.9,807.9M912.4,808.0L912.6,806.5M913.2,806.5L913.5,809.3M920.0,807.5L920.2,805.3M920.7,805.3L921.1,812.0M922.5,811.1L922.7,807.6M923.4,807.6L923.5,808.2M931.7,808.7L931.9,805.2M932.6,805.2L932.7,806.6M933.4,814.5L933.6,817.2M935.8,819.7L936.2,826.5M936.7,826.5L937.0,822.7M937.6,814.9L937.8,812.0M943.5,815.2L943.5,815.5M945.1,811.6L945.3,810.3M949.1,818.5L949.6,807.2M952.7,809.2L952.8,810.2M954.3,806.1L954.5,804.3M955.0,804.3L955.4,814.2M958.5,804.4L958.6,802.5M959.2,802.5L959.6,809.0M960.2,809.0L960.2,808.5M965.9,807.4L966.2,803.3M966.8,795.5L966.9,794.3M967.5,794.3L967.9,804.8M977.6,793.3L977.8,790.8M978.4,790.8L978.6,792.2M980.8,805.2L981.1,809.9M981.7,809.9L982.0,805.6M982.6,797.7L982.7,796.0M983.4,796.0L983.5,797.4M992.3,803.9L992.8,814.7M993.2,814.7L993.6,808.2M994.2,808.2L994.3,809.3M994.8,809.3L995.4,788.8M995.6,788.8L996.1,799.9M997.4,805.9L997.7,801.6M1000.0,801.0L1000.1,801.7M1005.7,807.8L1005.9,804.8M1007.2,797.5L1007.7,805.9M1013.8,805.9L1014.3,814.7M1014.8,814.7L1015.0,812.3M1017.2,804.1L1017.4,801.3M1018.0,801.3L1018.4,808.6M1019.8,810.2L1019.9,809.2M1021.4,808.8L1021.5,807.2M1022.1,807.2L1022.4,812.3M1026.4,814.8L1026.4,814.1M1028.8,801.7L1028.9,803.1M1031.9,811.6L1032.4,821.5M1032.7,821.5L1033.2,809.4M1035.2,808.1L1035.6,816.2M1037.0,818.8L1037.1,818.0M1038.5,818.3L1038.9,813.3M1039.3,813.3L1039.7,819.5M1041.0,819.8L1041.3,815.7M1041.9,815.7L1042.1,817.5M1044.3,818.7L1044.5,820.8M1050.8,826.4L1051.1,821.9M1052.5,822.0L1052.7,825.0M1054.8,824.7L1055.3,812.6M1055.6,812.6L1056.1,824.1M1058.2,823.4L1058.5,829.3M1059.0,829.3L1059.3,826.4M1066.4,823.0L1066.5,822.1M1067.2,822.1L1067.4,825.7M1067.9,825.7L1068.3,815.2M1068.7,815.2L1069.2,826.2M1071.4,822.5L1071.4,822.2M1075.3,820.9L1075.6,825.8M1076.9,828.4L1077.3,820.6M1077.7,820.6L1078.0,825.8M1079.4,840.3L1079.6,842.1M1080.1,842.0L1080.6,829.5M1082.5,828.6L1083.0,838.0M1083.4,838.0L1083.8,831.4M1084.2,831.4L1084.5,835.8M1085.0,835.8L1085.4,828.2M1086.7,829.6L1086.9,832.8M1087.4,832.8L1087.8,824.9M1092.4,830.0L1092.6,833.6M1093.2,833.6L1093.5,829.1M1094.0,829.1L1094.2,831.5M1096.4,839.8L1096.7,834.9M1097.2,834.9L1097.6,842.6M1097.9,842.6L1098.5,817.3M1098.8,817.3L1099.2,823.9M1099.6,831.8L1099.9,836.2M1100.4,836.2L1100.8,826.0M1102.1,824.3L1102.4,819.4M1102.8,819.4L1103.3,830.4M1104.5,845.7L1104.8,851.5M1105.2,851.5L1105.7,832.2M1107.8,834.0L1107.9,832.9M1109.4,831.0L1109.5,829.6M1110.0,829.6L1110.6,848.3M1110.8,848.3L1111.4,831.9M1111.8,831.9L1112.0,833.6M1113.4,835.8L1113.6,833.5M1118.3,828.4L1118.5,826.1M1119.9,819.2L1120.1,817.1M1120.6,817.1L1121.0,825.6M1121.4,833.5L1121.7,838.8M1123.1,840.6L1123.3,838.4M1123.8,830.5L1124.2,823.6M1124.7,823.6L1124.9,827.3M1126.2,832.2L1126.7,845.6M1127.0,845.6L1127.4,837.7M1136.8,831.3L1137.0,833.5M1137.4,833.5L1137.9,822.4M1138.3,822.4L1138.6,826.1M1139.2,826.1L1139.3,825.2M1139.9,825.2L1140.2,830.8M1140.7,830.8L1141.0,825.8M1143.2,827.6L1143.3,826.7M1144.0,826.7L1144.2,828.2M1146.3,825.7L1146.7,813.1M1147.2,813.0L1147.4,815.1M1149.6,813.9L1149.8,816.3" fill="none" stroke="#f00" stroke-width="1.5" shape-rendering="crispEdges"/>
<g fill="none" stroke="#f00" stroke-width="1.9" shape-rendering="crispEdges"><circle cx="181.5" cy="1206.3" r="3.0"/><circle cx="183.3" cy="1206.3" r="3.0"/><circle cx="185.1" cy="1205.6" r="3.0"/><circle cx="186.9" cy="1205.5" r="3.0"/><circle cx="188.7" cy="1206.2" r="3.0"/><circle cx="190.5" cy="1206.1" r="3.0"/><circle cx="192.3" cy="1205.8" r="3.0"/><circle cx="194.1" cy="1206.0" r="3.0"/><circle cx="195.9" cy="1205.5" r="3.0"/><circle cx="197.7" cy="1206.3" r="3.0"/><circle cx="199.5" cy="1206.4" r="3.0"/><circle cx="201.3" cy="1205.6" r="3.0"/><circle cx="203.1" cy="1206.3" r="3.0"/><circle cx="204.9" cy="1206.9" r="3.0"/><circle cx="206.7" cy="1205.4" r="3.0"/><circle cx="208.5" cy="1206.6" r="3.0"/><circle cx="210.3" cy="1205.6" r="3.0"/><circle cx="212.1" cy="1204.9" r="3.0"/><circle cx="213.9" cy="1205.4" r="3.0"/><circle cx="215.7" cy="1205.8" r="3.0"/><circle cx="217.5" cy="1206.0" r="3.0"/><circle cx="219.3" cy="1206.4" r="3.0"/><circle cx="221.1" cy="1205.3" r="3.0"/><circle cx="222.9" cy="1206.5" r="3.0"/><circle cx="224.7" cy="1205.2" r="3.0"/><circle cx="226.5" cy="1204.8" r="3.0"/><circle cx="228.3" cy="1205.8" r="3.0"/><circle cx="230.1" cy="1205.3" r="3.0"/><circle cx="231.9" cy="1205.3" r="3.0"/><circle cx="233.7" cy="1205.9" r="3.0"/><circle cx="235.5" cy="1206.1" r="3.0"/><circle cx="237.3" cy="1206.0" r="3.0"/><circle cx="239.1" cy="1205.8" r="3.0"/><circle cx="240.9" cy="1205.6" r="3.0"/><circle cx="242.7" cy="1205.6" r="3.0"/><circle cx="244.5" cy="1205.1" r="3.0"/><circle cx="246.3" cy="1205.6" r="3.0"/><circle cx="248.1" cy="1205.4" r="3.0"/><circle cx="249.9" cy="1206.0" r="3.0"/><circle cx="251.7" cy="1206.6" r="3.0"/><circle cx="253.5" cy="1205.1" r="3.0"/><circle cx="255.3" cy="1205.4" r="3.0"/><circle cx="257.1" cy="1204.6" r="3.0"/><circle cx="258.9" cy="1205.6" r="3.0"/><circle cx="260.7" cy="1205.4" r="3.0"/><circle cx="262.5" cy="1205.6" r="3.0"/><circle cx="264.3" cy="1205.1" r="3.0"/><circle cx="266.1" cy="1205.0" r="3.0"/><circle cx="267.9" cy="1205.0" r="3.0"/><circle cx="269.7" cy="1204.3" r="3.0"/><circle cx="271.5" cy="1204.8" r="3.0"/><circle cx="273.3" cy="1203.6" r="3.0"/><circle cx="275.1" cy="1205.1" r="3.0"/><circle cx="276.9" cy="1202.1" r="3.0"/><circle cx="278.7" cy="1200.8" r="3.0"/><circle cx="280.5" cy="1202.0" r="3.0"/><circle cx="282.3" cy="1200.0" r="3.0"/><circle cx="284.1" cy="1198.3" r="3.0"/><circle cx="285.9" cy="1198.5" r="3.0"/><circle cx="287.7" cy="1196.5" r="3.0"/><circle cx="289.5" cy="1197.7" r="3.0"/><circle cx="291.3" cy="1194.0" r="3.0"/><circle cx="293.1" cy="1191.5" r="3.0"/><circle cx="294.9" cy="1191.1" r="3.0"/><circle cx="296.7" cy="1188.1" r="3.0"/><circle cx="298.5" cy="1186.0" r="3.0"/><circle cx="300.3" cy="1181.1" r="3.0"/><circle cx="302.1" cy="1173.0" r="3.0"/><circle cx="303.9" cy="1170.8" r="3.0"/><circle cx="305.7" cy="1162.1" r="3.0"/><circle cx="307.5" cy="1155.4" r="3.0"/><circle cx="309.3" cy="1147.5" r="3.0"/><circle cx="311.1" cy="1144.1" r="3.0"/><circle cx="312.9" cy="1133.1" r="3.0"/><circle cx="314.7" cy="1130.8" r="3.0"/><circle cx="316.5" cy="1124.0" r="3.0"/><circle cx="318.3" cy="1123.2" r="3.0"/><circle cx="320.1" cy="1122.0" r="3.0"/><circle cx="321.9" cy="1124.2" r="3.0"/><circle cx="323.7" cy="1121.4" r="3.0"/><circle cx="325.5" cy="1124.5" r="3.0"/><circle cx="327.3" cy="1125.7" r="3.0"/><circle cx="329.1" cy="1131.6" r="3.0"/><circle cx="330.9" cy="1139.2" r="3.0"/><circle cx="332.7" cy="1144.5" r="3.0"/><circle cx="334.5" cy="1152.7" r="3.0"/><circle cx="336.3" cy="1158.7" r="3.0"/><circle cx="338.1" cy="1164.6" r="3.0"/><circle cx="339.9" cy="1166.2" r="3.0"/><circle cx="341.7" cy="1166.7" r="3.0"/><circle cx="343.5" cy="1165.8" r="3.0"/><circle cx="345.3" cy="1165.7" r="3.0"/><circle cx="347.1" cy="1164.5" r="3.0"/><circle cx="348.9" cy="1163.7" r="3.0"/><circle cx="350.7" cy="1159.2" r="3.0"/><circle cx="352.5" cy="1156.3" r="3.0"/><circle cx="354.3" cy="1152.9" r="3.0"/><circle cx="356.1" cy="1149.2" r="3.0"/><circle cx="357.9" cy="1151.6" r="3.0"/><circle cx="359.7" cy="1153.9" r="3.0"/><circle cx="361.5" cy="1153.4" r="3.0"/><circle cx="363.3" cy="1151.9" r="3.0"/><circle cx="365.1" cy="1153.1" r="3.0"/><circle cx="366.9" cy="1150.7" r="3.0"/><circle cx="368.7" cy="1153.3" r="3.0"/><circle cx="370.5" cy="1160.7" r="3.0"/><circle cx="372.3" cy="1160.3" r="3.0"/><circle cx="374.1" cy="1162.7" r="3.0"/><circle cx="375.9" cy="1164.5" r="3.0"/><circle cx="377.7" cy="1170.4" r="3.0"/><circle cx="379.5" cy="1170.2" r="3.0"/><circle cx="381.3" cy="1171.6" r="3.0"/><circle cx="383.1" cy="1172.8" r="3.0"/><circle cx="384.9" cy="1172.7" r="3.0"/><circle cx="386.7" cy="1171.7" r="3.0"/><circle cx="388.5" cy="1168.4" r="3.0"/><circle cx="390.3" cy="1169.5" r="3.0"/><circle cx="392.1" cy="1165.4" r="3.0"/><circle cx="393.9" cy="1163.0" r="3.0"/><circle cx="395.7" cy="1161.4" r="3.0"/><circle cx="397.5" cy="1158.2" r="3.0"/><circle cx="399.3" cy="1152.4" r="3.0"/><circle cx="401.1" cy="1145.4" r="3.0"/><circle cx="402.9" cy="1140.5" r="3.0"/><circle cx="404.7" cy="1136.1" r="3.0"/><circle cx="406.5" cy="1134.5" r="3.0"/><circle cx="408.3" cy="1128.1" r="3.0"/><circle cx="410.1" cy="1122.3" r="3.0"/><circle cx="411.9" cy="1117.1" r="3.0"/><circle cx="413.7" cy="1109.7" r="3.0"/><circle cx="415.5" cy="1102.6" r="3.0"/><circle cx="417.3" cy="1092.2" r="3.0"/><circle cx="419.1" cy="1083.7" r="3.0"/><circle cx="420.9" cy="1079.0" r="3.0"/><circle cx="422.7" cy="1071.4" r="3.0"/><circle cx="424.5" cy="1068.4" r="3.0"/><circle cx="426.3" cy="1062.1" r="3.0"/><circle cx="428.1" cy="1053.7" r="3.0"/><circle cx="429.9" cy="1045.4" r="3.0"/><circle cx="431.7" cy="1032.3" r="3.0"/><circle cx="433.5" cy="1020.2" r="3.0"/><circle cx="435.3" cy="1010.8" r="3.0"/><circle cx="437.1" cy="1004.0" r="3.0"/><circle cx="438.9" cy="995.8" r="3.0"/><circle cx="440.7" cy="985.9" r="3.0"/><circle cx="442.5" cy="979.0" r="3.0"/><circle cx="444.3" cy="974.0" r="3.0"/><circle cx="446.1" cy="972.5" r="3.0"/><circle cx="447.9" cy="969.7" r="3.0"/><circle cx="449.7" cy="962.8" r="3.0"/><circle cx="451.5" cy="966.0" r="3.0"/><circle cx="453.3" cy="966.1" r="3.0"/><circle cx="455.1" cy="969.5" r="3.0"/><circle cx="456.9" cy="957.6" r="3.0"/><circle cx="458.7" cy="957.8" r="3.0"/><circle cx="460.5" cy="951.6" r="3.0"/><circle cx="462.3" cy="950.4" r="3.0"/><circle cx="464.1" cy="940.1" r="3.0"/><circle cx="465.9" cy="932.5" r="3.0"/><circle cx="467.7" cy="926.4" r="3.0"/><circle cx="469.5" cy="919.0" r="3.0"/><circle cx="471.3" cy="919.9" r="3.0"/><circle cx="473.1" cy="903.9" r="3.0"/><circle cx="474.9" cy="900.4" r="3.0"/><circle cx="476.7" cy="892.4" r="3.0"/><circle cx="478.5" cy="878.0" r="3.0"/><circle cx="480.3" cy="856.6" r="3.0"/><circle cx="482.1" cy="850.5" r="3.0"/><circle cx="483.9" cy="840.2" r="3.0"/><circle cx="485.7" cy="835.9" r="3.0"/><circle cx="487.5" cy="831.0" r="3.0"/><circle cx="489.3" cy="828.0" r="3.0"/><circle cx="491.1" cy="814.3" r="3.0"/><circle cx="492.9" cy="796.8" r="3.0"/><circle cx="494.7" cy="788.8" r="3.0"/><circle cx="496.5" cy="784.8" r="3.0"/><circle cx="498.3" cy="775.5" r="3.0"/><circle cx="500.1" cy="758.0" r="3.0"/><circle cx="501.9" cy="739.4" r="3.0"/><circle cx="503.7" cy="728.9" r="3.0"/><circle cx="505.5" cy="716.1" r="3.0"/><circle cx="507.3" cy="706.8" r="3.0"/><circle cx="509.1" cy="700.1" r="3.0"/><circle cx="510.9" cy="695.1" r="3.0"/><circle cx="512.7" cy="667.6" r="3.0"/><circle cx="514.5" cy="651.5" r="3.0"/><circle cx="516.3" cy="634.0" r="3.0"/><circle cx="518.1" cy="616.8" r="3.0"/><circle cx="519.9" cy="608.9" r="3.0"/><circle cx="521.7" cy="605.4" r="3.0"/><circle cx="523.5" cy="600.7" r="3.0"/><circle cx="525.3" cy="597.1" r="3.0"/><circle cx="527.1" cy="572.5" r="3.0"/><circle cx="528.9" cy="565.5" r="3.0"/><circle cx="530.7" cy="555.7" r="3.0"/><circle cx="532.5" cy="555.3" r="3.0"/><circle cx="534.2" cy="544.8" r="3.0"/><circle cx="535.9" cy="553.7" r="3.0"/><circle cx="537.5" cy="549.7" r="3.0"/><circle cx="539.1" cy="560.1" r="3.0"/><circle cx="540.6" cy="558.7" r="3.0"/><circle cx="542.1" cy="566.3" r="3.0"/><circle cx="543.5" cy="568.2" r="3.0"/><circle cx="544.9" cy="571.4" r="3.0"/><circle cx="546.3" cy="569.3" r="3.0"/><circle cx="547.6" cy="579.2" r="3.0"/><circle cx="548.9" cy="589.0" r="3.0"/><circle cx="550.1" cy="582.7" r="3.0"/><circle cx="551.3" cy="591.8" r="3.0"/><circle cx="552.4" cy="595.7" r="3.0"/><circle cx="553.6" cy="599.3" r="3.0"/><circle cx="554.7" cy="597.9" r="3.0"/><circle cx="555.7" cy="608.5" r="3.0"/><circle cx="556.8" cy="595.6" r="3.0"/><circle cx="557.8" cy="593.3" r="3.0"/><circle cx="558.7" cy="589.2" r="3.0"/><circle cx="559.7" cy="585.8" r="3.0"/><circle cx="560.6" cy="583.0" r="3.0"/><circle cx="561.5" cy="586.0" r="3.0"/><circle cx="562.4" cy="581.3" r="3.0"/><circle cx="563.3" cy="585.0" r="3.0"/><circle cx="564.2" cy="573.0" r="3.0"/><circle cx="565.1" cy="587.0" r="3.0"/><circle cx="566.0" cy="576.5" r="3.0"/><circle cx="566.9" cy="584.0" r="3.0"/><circle cx="567.8" cy="582.6" r="3.0"/><circle cx="568.7" cy="582.9" r="3.0"/><circle cx="569.6" cy="570.4" r="3.0"/><circle cx="570.5" cy="577.5" r="3.0"/><circle cx="571.4" cy="553.5" r="3.0"/><circle cx="572.3" cy="573.8" r="3.0"/><circle cx="573.2" cy="559.6" r="3.0"/><circle cx="574.1" cy="570.2" r="3.0"/><circle cx="574.9" cy="553.6" r="3.0"/><circle cx="575.8" cy="562.7" r="3.0"/><circle cx="576.7" cy="560.7" r="3.0"/><circle cx="577.6" cy="551.4" r="3.0"/><circle cx="578.5" cy="566.9" r="3.0"/><circle cx="579.4" cy="554.3" r="3.0"/><circle cx="580.3" cy="540.1" r="3.0"/><circle cx="581.2" cy="562.0" r="3.0"/><circle cx="582.1" cy="547.0" r="3.0"/><circle cx="583.0" cy="558.3" r="3.0"/><circle cx="583.9" cy="549.9" r="3.0"/><circle cx="584.8" cy="544.5" r="3.0"/><circle cx="585.7" cy="537.4" r="3.0"/><circle cx="586.6" cy="547.7" r="3.0"/><circle cx="587.5" cy="541.9" r="3.0"/><circle cx="588.4" cy="534.1" r="3.0"/><circle cx="589.3" cy="534.1" r="3.0"/><circle cx="590.2" cy="522.7" r="3.0"/><circle cx="591.1" cy="525.2" r="3.0"/><circle cx="592.0" cy="523.4" r="3.0"/><circle cx="592.9" cy="538.7" r="3.0"/><circle cx="593.8" cy="530.2" r="3.0"/><circle cx="594.7" cy="512.6" r="3.0"/><circle cx="595.6" cy="518.3" r="3.0"/><circle cx="596.4" cy="522.5" r="3.0"/><circle cx="597.3" cy="512.3" r="3.0"/><circle cx="598.2" cy="517.8" r="3.0"/><circle cx="599.1" cy="518.4" r="3.0"/><circle cx="600.0" cy="508.9" r="3.0"/><circle cx="600.9" cy="519.4" r="3.0"/><circle cx="601.8" cy="513.9" r="3.0"/><circle cx="602.7" cy="515.6" r="3.0"/><circle cx="603.6" cy="519.2" r="3.0"/><circle cx="604.5" cy="509.9" r="3.0"/><circle cx="605.4" cy="512.7" r="3.0"/><circle cx="606.3" cy="523.8" r="3.0"/><circle cx="607.2" cy="513.0" r="3.0"/><circle cx="608.1" cy="533.2" r="3.0"/><circle cx="608.9" cy="536.7" r="3.0"/><circle cx="609.8" cy="529.9" r="3.0"/><circle cx="610.7" cy="536.9" r="3.0"/><circle cx="611.6" cy="528.3" r="3.0"/><circle cx="612.5" cy="528.9" r="3.0"/><circle cx="613.4" cy="535.9" r="3.0"/><circle cx="614.3" cy="546.1" r="3.0"/><circle cx="615.2" cy="536.7" r="3.0"/><circle cx="616.1" cy="543.5" r="3.0"/><circle cx="617.0" cy="531.1" r="3.0"/><circle cx="617.9" cy="549.5" r="3.0"/><circle cx="618.7" cy="552.4" r="3.0"/><circle cx="619.6" cy="549.8" r="3.0"/><circle cx="620.5" cy="549.0" r="3.0"/><circle cx="621.4" cy="547.5" r="3.0"/><circle cx="622.3" cy="555.6" r="3.0"/><circle cx="623.2" cy="555.9" r="3.0"/><circle cx="624.1" cy="556.4" r="3.0"/><circle cx="625.0" cy="563.7" r="3.0"/><circle cx="625.9" cy="548.4" r="3.0"/><circle cx="626.8" cy="571.2" r="3.0"/><circle cx="627.6" cy="564.2" r="3.0"/><circle cx="628.5" cy="561.6" r="3.0"/><circle cx="629.4" cy="564.8" r="3.0"/><circle cx="630.3" cy="576.5" r="3.0"/><circle cx="631.2" cy="579.3" r="3.0"/><circle cx="632.1" cy="582.6" r="3.0"/><circle cx="633.0" cy="593.1" r="3.0"/><circle cx="633.9" cy="586.9" r="3.0"/><circle cx="634.7" cy="583.3" r="3.0"/><circle cx="635.6" cy="588.7" r="3.0"/><circle cx="636.5" cy="592.0" r="3.0"/><circle cx="637.4" cy="599.3" r="3.0"/><circle cx="638.3" cy="596.7" r="3.0"/><circle cx="639.2" cy="595.2" r="3.0"/><circle cx="640.1" cy="604.9" r="3.0"/><circle cx="641.0" cy="603.9" r="3.0"/><circle cx="641.8" cy="598.1" r="3.0"/><circle cx="642.7" cy="604.4" r="3.0"/><circle cx="643.6" cy="621.0" r="3.0"/><circle cx="644.5" cy="616.4" r="3.0"/><circle cx="645.4" cy="610.7" r="3.0"/><circle cx="646.3" cy="621.7" r="3.0"/><circle cx="647.2" cy="627.7" r="3.0"/><circle cx="648.0" cy="637.2" r="3.0"/><circle cx="648.9" cy="614.0" r="3.0"/><circle cx="649.8" cy="622.2" r="3.0"/><circle cx="650.7" cy="619.8" r="3.0"/><circle cx="651.6" cy="635.0" r="3.0"/><circle cx="652.5" cy="645.8" r="3.0"/><circle cx="653.4" cy="638.4" r="3.0"/><circle cx="654.2" cy="630.9" r="3.0"/><circle cx="655.1" cy="643.4" r="3.0"/><circle cx="656.0" cy="646.8" r="3.0"/><circle cx="656.9" cy="654.3" r="3.0"/><circle cx="657.8" cy="639.0" r="3.0"/><circle cx="658.7" cy="646.5" r="3.0"/><circle cx="659.5" cy="644.2" r="3.0"/><circle cx="660.4" cy="657.9" r="3.0"/><circle cx="661.3" cy="656.2" r="3.0"/><circle cx="662.2" cy="655.2" r="3.0"/><circle cx="663.1" cy="674.5" r="3.0"/><circle cx="664.0" cy="662.9" r="3.0"/><circle cx="664.8" cy="660.6" r="3.0"/><circle cx="665.7" cy="671.0" r="3.0"/><circle cx="666.6" cy="659.7" r="3.0"/><circle cx="667.5" cy="682.8" r="3.0"/><circle cx="668.4" cy="676.0" r="3.0"/><circle cx="669.2" cy="685.6" r="3.0"/><circle cx="670.1" cy="684.9" r="3.0"/><circle cx="671.0" cy="679.7" r="3.0"/><circle cx="671.9" cy="683.1" r="3.0"/><circle cx="672.8" cy="684.6" r="3.0"/><circle cx="673.7" cy="684.4" r="3.0"/><circle cx="674.5" cy="691.0" r="3.0"/><circle cx="675.4" cy="692.2" r="3.0"/><circle cx="676.3" cy="680.9" r="3.0"/><circle cx="677.2" cy="688.9" r="3.0"/><circle cx="678.1" cy="685.3" r="3.0"/><circle cx="678.9" cy="691.1" r="3.0"/><circle cx="679.8" cy="700.2" r="3.0"/><circle cx="680.7" cy="693.2" r="3.0"/><circle cx="681.6" cy="688.1" r="3.0"/><circle cx="682.5" cy="680.5" r="3.0"/><circle cx="683.3" cy="695.4" r="3.0"/><circle cx="684.2" cy="696.0" r="3.0"/><circle cx="685.1" cy="698.8" r="3.0"/><circle cx="686.0" cy="701.1" r="3.0"/><circle cx="686.9" cy="696.3" r="3.0"/><circle cx="687.7" cy="689.0" r="3.0"/><circle cx="688.6" cy="697.2" r="3.0"/><circle cx="689.5" cy="702.8" r="3.0"/><circle cx="690.4" cy="694.5" r="3.0"/><circle cx="691.2" cy="707.6" r="3.0"/><circle cx="692.1" cy="690.3" r="3.0"/><circle cx="693.0" cy="698.5" r="3.0"/><circle cx="693.9" cy="687.9" r="3.0"/><circle cx="694.8" cy="701.4" r="3.0"/><circle cx="695.6" cy="702.6" r="3.0"/><circle cx="696.5" cy="691.7" r="3.0"/><circle cx="697.4" cy="678.7" r="3.0"/><circle cx="698.3" cy="686.5" r="3.0"/><circle cx="699.1" cy="701.5" r="3.0"/><circle cx="700.0" cy="680.9" r="3.0"/><circle cx="700.9" cy="675.2" r="3.0"/><circle cx="701.8" cy="678.7" r="3.0"/><circle cx="702.6" cy="680.7" r="3.0"/><circle cx="703.5" cy="688.6" r="3.0"/><circle cx="704.4" cy="673.2" r="3.0"/><circle cx="705.3" cy="688.5" r="3.0"/><circle cx="706.2" cy="683.6" r="3.0"/><circle cx="707.0" cy="678.6" r="3.0"/><circle cx="707.9" cy="662.2" r="3.0"/><circle cx="708.8" cy="671.0" r="3.0"/><circle cx="709.7" cy="657.8" r="3.0"/><circle cx="710.5" cy="660.4" r="3.0"/><circle cx="711.4" cy="665.2" r="3.0"/><circle cx="712.3" cy="655.3" r="3.0"/><circle cx="713.1" cy="662.2" r="3.0"/><circle cx="714.0" cy="658.6" r="3.0"/><circle cx="714.9" cy="674.0" r="3.0"/><circle cx="715.8" cy="659.9" r="3.0"/><circle cx="716.6" cy="669.1" r="3.0"/><circle cx="717.5" cy="653.5" r="3.0"/><circle cx="718.4" cy="658.8" r="3.0"/><circle cx="719.3" cy="666.4" r="3.0"/><circle cx="720.1" cy="650.1" r="3.0"/><circle cx="721.0" cy="654.5" r="3.0"/><circle cx="721.9" cy="645.5" r="3.0"/><circle cx="722.8" cy="658.1" r="3.0"/><circle cx="723.6" cy="651.8" r="3.0"/><circle cx="724.5" cy="662.5" r="3.0"/><circle cx="725.4" cy="661.4" r="3.0"/><circle cx="726.2" cy="664.4" r="3.0"/><circle cx="727.1" cy="660.5" r="3.0"/><circle cx="728.0" cy="652.1" r="3.0"/><circle cx="728.9" cy="646.6" r="3.0"/><circle cx="729.7" cy="649.7" r="3.0"/><circle cx="730.6" cy="643.8" r="3.0"/><circle cx="731.5" cy="645.2" r="3.0"/><circle cx="732.3" cy="657.4" r="3.0"/><circle cx="733.2" cy="651.0" r="3.0"/><circle cx="734.1" cy="644.6" r="3.0"/><circle cx="735.0" cy="640.7" r="3.0"/><circle cx="735.8" cy="637.4" r="3.0"/><circle cx="736.7" cy="652.2" r="3.0"/><circle cx="737.6" cy="651.5" r="3.0"/><circle cx="738.4" cy="650.5" r="3.0"/><circle cx="739.3" cy="643.4" r="3.0"/><circle cx="740.2" cy="632.5" r="3.0"/><circle cx="741.1" cy="632.6" r="3.0"/><circle cx="741.9" cy="633.5" r="3.0"/><circle cx="742.8" cy="635.7" r="3.0"/><circle cx="743.7" cy="625.8" r="3.0"/><circle cx="744.5" cy="628.1" r="3.0"/><circle cx="745.4" cy="633.9" r="3.0"/><circle cx="746.3" cy="624.3" r="3.0"/><circle cx="747.1" cy="626.0" r="3.0"/><circle cx="748.0" cy="628.0" r="3.0"/><circle cx="748.9" cy="633.4" r="3.0"/><circle cx="749.7" cy="619.8" r="3.0"/><circle cx="750.6" cy="616.8" r="3.0"/><circle cx="751.5" cy="630.3" r="3.0"/><circle cx="752.3" cy="623.3" r="3.0"/><circle cx="753.2" cy="620.0" r="3.0"/><circle cx="754.1" cy="609.8" r="3.0"/><circle cx="754.9" cy="613.9" r="3.0"/><circle cx="755.8" cy="610.2" r="3.0"/><circle cx="756.7" cy="619.7" r="3.0"/><circle cx="757.5" cy="609.9" r="3.0"/><circle cx="758.4" cy="622.0" r="3.0"/><circle cx="759.3" cy="610.6" r="3.0"/><circle cx="760.1" cy="617.5" r="3.0"/><circle cx="761.0" cy="602.0" r="3.0"/><circle cx="761.9" cy="611.1" r="3.0"/><circle cx="762.7" cy="611.0" r="3.0"/><circle cx="763.6" cy="606.1" r="3.0"/><circle cx="764.5" cy="596.3" r="3.0"/><circle cx="765.3" cy="608.5" r="3.0"/><circle cx="766.2" cy="603.6" r="3.0"/><circle cx="767.1" cy="603.7" r="3.0"/><circle cx="767.9" cy="607.0" r="3.0"/><circle cx="768.8" cy="616.6" r="3.0"/><circle cx="769.7" cy="595.3" r="3.0"/><circle cx="770.5" cy="623.4" r="3.0"/><circle cx="771.4" cy="605.6" r="3.0"/><circle cx="772.3" cy="612.6" r="3.0"/><circle cx="773.1" cy="604.1" r="3.0"/><circle cx="774.0" cy="612.6" r="3.0"/><circle cx="774.9" cy="608.1" r="3.0"/><circle cx="775.7" cy="598.5" r="3.0"/><circle cx="776.6" cy="605.4" r="3.0"/><circle cx="777.4" cy="608.0" r="3.0"/><circle cx="778.3" cy="605.4" r="3.0"/><circle cx="779.2" cy="610.9" r="3.0"/><circle cx="780.0" cy="608.5" r="3.0"/><circle cx="780.9" cy="606.0" r="3.0"/><circle cx="781.8" cy="612.5" r="3.0"/><circle cx="782.6" cy="591.3" r="3.0"/><circle cx="783.5" cy="605.1" r="3.0"/><circle cx="784.4" cy="605.2" r="3.0"/><circle cx="785.2" cy="611.4" r="3.0"/><circle cx="786.1" cy="610.0" r="3.0"/><circle cx="786.9" cy="606.1" r="3.0"/><circle cx="787.8" cy="609.9" r="3.0"/><circle cx="788.7" cy="595.9" r="3.0"/><circle cx="789.5" cy="611.5" r="3.0"/><circle cx="790.4" cy="602.6" r="3.0"/><circle cx="791.2" cy="617.3" r="3.0"/><circle cx="792.1" cy="617.3" r="3.0"/><circle cx="793.0" cy="606.5" r="3.0"/><circle cx="793.8" cy="616.3" r="3.0"/><circle cx="794.7" cy="611.9" r="3.0"/><circle cx="795.6" cy="611.0" r="3.0"/><circle cx="796.4" cy="625.8" r="3.0"/><circle cx="797.3" cy="621.4" r="3.0"/><circle cx="798.1" cy="624.5" r="3.0"/><circle cx="799.0" cy="612.4" r="3.0"/><circle cx="799.9" cy="623.9" r="3.0"/><circle cx="800.7" cy="625.7" r="3.0"/><circle cx="801.6" cy="631.0" r="3.0"/><circle cx="802.4" cy="638.7" r="3.0"/><circle cx="803.3" cy="637.7" r="3.0"/><circle cx="804.1" cy="634.0" r="3.0"/><circle cx="805.0" cy="654.7" r="3.0"/><circle cx="805.9" cy="640.6" r="3.0"/><circle cx="806.7" cy="639.2" r="3.0"/><circle cx="807.6" cy="646.0" r="3.0"/><circle cx="808.4" cy="651.1" r="3.0"/><circle cx="809.3" cy="641.6" r="3.0"/><circle cx="810.2" cy="651.2" r="3.0"/><circle cx="811.0" cy="649.9" r="3.0"/><circle cx="811.9" cy="642.0" r="3.0"/><circle cx="812.7" cy="649.8" r="3.0"/><circle cx="813.6" cy="653.3" r="3.0"/><circle cx="814.4" cy="651.3" r="3.0"/><circle cx="815.3" cy="653.3" r="3.0"/><circle cx="816.2" cy="669.5" r="3.0"/><circle cx="817.0" cy="656.8" r="3.0"/><circle cx="817.9" cy="664.3" r="3.0"/><circle cx="818.7" cy="662.5" r="3.0"/><circle cx="819.6" cy="656.6" r="3.0"/><circle cx="820.4" cy="667.2" r="3.0"/><circle cx="821.3" cy="670.7" r="3.0"/><circle cx="822.2" cy="672.3" r="3.0"/><circle cx="823.0" cy="671.2" r="3.0"/><circle cx="823.9" cy="667.8" r="3.0"/><circle cx="824.7" cy="688.7" r="3.0"/><circle cx="825.6" cy="676.2" r="3.0"/><circle cx="826.4" cy="680.9" r="3.0"/><circle cx="827.3" cy="684.4" r="3.0"/><circle cx="828.1" cy="686.4" r="3.0"/><circle cx="829.0" cy="688.3" r="3.0"/><circle cx="829.9" cy="689.4" r="3.0"/><circle cx="830.7" cy="689.6" r="3.0"/><circle cx="831.6" cy="692.7" r="3.0"/><circle cx="832.4" cy="691.2" r="3.0"/><circle cx="833.3" cy="698.6" r="3.0"/><circle cx="834.1" cy="692.2" r="3.0"/><circle cx="835.0" cy="702.1" r="3.0"/><circle cx="835.8" cy="697.0" r="3.0"/><circle cx="836.7" cy="700.9" r="3.0"/><circle cx="837.5" cy="700.6" r="3.0"/><circle cx="838.4" cy="701.4" r="3.0"/><circle cx="839.2" cy="700.9" r="3.0"/><circle cx="840.1" cy="703.8" r="3.0"/><circle cx="841.0" cy="718.5" r="3.0"/><circle cx="841.8" cy="704.5" r="3.0"/><circle cx="842.7" cy="715.3" r="3.0"/><circle cx="843.5" cy="720.3" r="3.0"/><circle cx="844.4" cy="705.5" r="3.0"/><circle cx="845.2" cy="701.1" r="3.0"/><circle cx="846.1" cy="714.6" r="3.0"/><circle cx="846.9" cy="717.3" r="3.0"/><circle cx="847.8" cy="719.1" r="3.0"/><circle cx="848.6" cy="719.2" r="3.0"/><circle cx="849.5" cy="729.1" r="3.0"/><circle cx="850.3" cy="723.9" r="3.0"/><circle cx="851.2" cy="720.5" r="3.0"/><circle cx="852.0" cy="718.3" r="3.0"/><circle cx="852.9" cy="722.8" r="3.0"/><circle cx="853.7" cy="718.7" r="3.0"/><circle cx="854.6" cy="727.3" r="3.0"/><circle cx="855.4" cy="742.1" r="3.0"/><circle cx="856.3" cy="734.9" r="3.0"/><circle cx="857.1" cy="731.1" r="3.0"/><circle cx="858.0" cy="731.2" r="3.0"/><circle cx="858.8" cy="728.0" r="3.0"/><circle cx="859.7" cy="734.7" r="3.0"/><circle cx="860.5" cy="738.8" r="3.0"/><circle cx="861.4" cy="747.8" r="3.0"/><circle cx="862.2" cy="740.2" r="3.0"/><circle cx="863.1" cy="742.1" r="3.0"/><circle cx="863.9" cy="741.1" r="3.0"/><circle cx="864.8" cy="752.6" r="3.0"/><circle cx="865.6" cy="742.4" r="3.0"/><circle cx="866.5" cy="746.5" r="3.0"/><circle cx="867.3" cy="749.4" r="3.0"/><circle cx="868.2" cy="750.0" r="3.0"/><circle cx="869.0" cy="750.2" r="3.0"/><circle cx="869.9" cy="753.8" r="3.0"/><circle cx="870.7" cy="751.3" r="3.0"/><circle cx="871.6" cy="746.7" r="3.0"/><circle cx="872.4" cy="755.4" r="3.0"/><circle cx="873.3" cy="763.9" r="3.0"/><circle cx="874.1" cy="760.8" r="3.0"/><circle cx="875.0" cy="764.4" r="3.0"/><circle cx="875.8" cy="770.1" r="3.0"/><circle cx="876.6" cy="748.7" r="3.0"/><circle cx="877.5" cy="753.0" r="3.0"/><circle cx="878.3" cy="762.4" r="3.0"/><circle cx="879.2" cy="765.0" r="3.0"/><circle cx="880.0" cy="762.7" r="3.0"/><circle cx="880.9" cy="759.6" r="3.0"/><circle cx="881.7" cy="762.9" r="3.0"/><circle cx="882.6" cy="763.9" r="3.0"/><circle cx="883.4" cy="772.7" r="3.0"/><circle cx="884.3" cy="768.0" r="3.0"/><circle cx="885.1" cy="774.6" r="3.0"/><circle cx="886.0" cy="777.0" r="3.0"/><circle cx="886.8" cy="780.8" r="3.0"/><circle cx="887.6" cy="773.8" r="3.0"/><circle cx="888.5" cy="781.1" r="3.0"/><circle cx="889.3" cy="790.9" r="3.0"/><circle cx="890.2" cy="778.3" r="3.0"/><circle cx="891.0" cy="776.3" r="3.0"/><circle cx="891.9" cy="783.3" r="3.0"/><circle cx="892.7" cy="783.7" r="3.0"/><circle cx="893.6" cy="785.6" r="3.0"/><circle cx="894.4" cy="779.4" r="3.0"/><circle cx="895.2" cy="783.8" r="3.0"/><circle cx="896.1" cy="786.5" r="3.0"/><circle cx="896.9" cy="796.8" r="3.0"/><circle cx="897.8" cy="789.2" r="3.0"/><circle cx="898.6" cy="788.2" r="3.0"/><circle cx="899.5" cy="796.0" r="3.0"/><circle cx="900.3" cy="799.6" r="3.0"/><circle cx="901.1" cy="796.4" r="3.0"/><circle cx="902.0" cy="788.1" r="3.0"/><circle cx="902.8" cy="797.3" r="3.0"/><circle cx="903.7" cy="804.8" r="3.0"/><circle cx="904.5" cy="799.0" r="3.0"/><circle cx="905.4" cy="786.3" r="3.0"/><circle cx="906.2" cy="799.5" r="3.0"/><circle cx="907.0" cy="794.1" r="3.0"/><circle cx="907.9" cy="812.5" r="3.0"/><circle cx="908.7" cy="803.9" r="3.0"/><circle cx="909.6" cy="819.0" r="3.0"/><circle cx="910.4" cy="801.7" r="3.0"/><circle cx="911.2" cy="796.9" r="3.0"/><circle cx="912.1" cy="811.9" r="3.0"/><circle cx="912.9" cy="802.5" r="3.0"/><circle cx="913.8" cy="813.3" r="3.0"/><circle cx="914.6" cy="812.3" r="3.0"/><circle cx="915.5" cy="813.2" r="3.0"/><circle cx="916.3" cy="810.6" r="3.0"/><circle cx="917.1" cy="815.7" r="3.0"/><circle cx="918.0" cy="815.4" r="3.0"/><circle cx="918.8" cy="810.3" r="3.0"/><circle cx="919.7" cy="811.4" r="3.0"/><circle cx="920.5" cy="801.3" r="3.0"/><circle cx="921.3" cy="816.0" r="3.0"/><circle cx="922.2" cy="815.0" r="3.0"/><circle cx="923.0" cy="803.7" r="3.0"/><circle cx="923.8" cy="812.1" r="3.0"/><circle cx="924.7" cy="813.1" r="3.0"/><circle cx="925.5" cy="814.7" r="3.0"/><circle cx="926.4" cy="814.9" r="3.0"/><circle cx="927.2" cy="813.4" r="3.0"/><circle cx="928.0" cy="809.8" r="3.0"/><circle cx="928.9" cy="813.0" r="3.0"/><circle cx="929.7" cy="811.1" r="3.0"/><circle cx="930.6" cy="811.9" r="3.0"/><circle cx="931.4" cy="812.6" r="3.0"/><circle cx="932.2" cy="801.3" r="3.0"/><circle cx="933.1" cy="810.6" r="3.0"/><circle cx="933.9" cy="821.2" r="3.0"/><circle cx="934.7" cy="816.3" r="3.0"/><circle cx="935.6" cy="815.7" r="3.0"/><circle cx="936.4" cy="830.5" r="3.0"/><circle cx="937.3" cy="818.8" r="3.0"/><circle cx="938.1" cy="808.1" r="3.0"/><circle cx="938.9" cy="814.7" r="3.0"/><circle cx="939.8" cy="812.9" r="3.0"/><circle cx="940.6" cy="811.5" r="3.0"/><circle cx="941.4" cy="815.3" r="3.0"/><circle cx="942.3" cy="810.1" r="3.0"/><circle cx="943.1" cy="811.3" r="3.0"/><circle cx="943.9" cy="819.5" r="3.0"/><circle cx="944.8" cy="815.5" r="3.0"/><circle cx="945.6" cy="806.3" r="3.0"/><circle cx="946.4" cy="813.2" r="3.0"/><circle cx="947.3" cy="813.6" r="3.0"/><circle cx="948.1" cy="815.8" r="3.0"/><circle cx="949.0" cy="822.5" r="3.0"/><circle cx="949.8" cy="803.3" r="3.0"/><circle cx="950.6" cy="802.4" r="3.0"/><circle cx="951.5" cy="804.5" r="3.0"/><circle cx="952.3" cy="805.3" r="3.0"/><circle cx="953.1" cy="814.1" r="3.0"/><circle cx="954.0" cy="810.1" r="3.0"/><circle cx="954.8" cy="800.3" r="3.0"/><circle cx="955.6" cy="818.2" r="3.0"/><circle cx="956.5" cy="811.9" r="3.0"/><circle cx="957.3" cy="803.8" r="3.0"/><circle cx="958.1" cy="808.4" r="3.0"/><circle cx="959.0" cy="798.6" r="3.0"/><circle cx="959.8" cy="812.9" r="3.0"/><circle cx="960.6" cy="804.6" r="3.0"/><circle cx="961.5" cy="801.6" r="3.0"/><circle cx="962.3" cy="804.0" r="3.0"/><circle cx="963.1" cy="808.3" r="3.0"/><circle cx="964.0" cy="808.5" r="3.0"/><circle cx="964.8" cy="812.6" r="3.0"/><circle cx="965.6" cy="811.3" r="3.0"/><circle cx="966.5" cy="799.4" r="3.0"/><circle cx="967.3" cy="790.3" r="3.0"/><circle cx="968.1" cy="808.8" r="3.0"/><circle cx="968.9" cy="803.0" r="3.0"/><circle cx="969.8" cy="800.0" r="3.0"/><circle cx="970.6" cy="804.7" r="3.0"/><circle cx="971.4" cy="798.2" r="3.0"/><circle cx="972.3" cy="797.3" r="3.0"/><circle cx="973.1" cy="793.0" r="3.0"/><circle cx="973.9" cy="793.6" r="3.0"/><circle cx="974.8" cy="791.5" r="3.0"/><circle cx="975.6" cy="788.2" r="3.0"/><circle cx="976.4" cy="795.0" r="3.0"/><circle cx="977.3" cy="797.2" r="3.0"/><circle cx="978.1" cy="786.8" r="3.0"/><circle cx="978.9" cy="796.1" r="3.0"/><circle cx="979.7" cy="802.6" r="3.0"/><circle cx="980.6" cy="801.3" r="3.0"/><circle cx="981.4" cy="813.9" r="3.0"/><circle cx="982.2" cy="801.6" r="3.0"/><circle cx="983.1" cy="792.1" r="3.0"/><circle cx="983.9" cy="801.4" r="3.0"/><circle cx="984.7" cy="802.9" r="3.0"/><circle cx="985.5" cy="799.7" r="3.0"/><circle cx="986.4" cy="801.9" r="3.0"/><circle cx="987.2" cy="805.5" r="3.0"/><circle cx="988.0" cy="802.4" r="3.0"/><circle cx="988.9" cy="807.0" r="3.0"/><circle cx="989.7" cy="802.1" r="3.0"/><circle cx="990.5" cy="799.1" r="3.0"/><circle cx="991.3" cy="803.5" r="3.0"/><circle cx="992.2" cy="800.0" r="3.0"/><circle cx="993.0" cy="818.7" r="3.0"/><circle cx="993.8" cy="804.3" r="3.0"/><circle cx="994.7" cy="813.2" r="3.0"/><circle cx="995.5" cy="784.8" r="3.0"/><circle cx="996.3" cy="803.8" r="3.0"/><circle cx="997.1" cy="809.9" r="3.0"/><circle cx="998.0" cy="797.6" r="3.0"/><circle cx="998.8" cy="798.5" r="3.0"/><circle cx="999.6" cy="797.0" r="3.0"/><circle cx="1000.4" cy="805.6" r="3.0"/><circle cx="1001.3" cy="807.1" r="3.0"/><circle cx="1002.1" cy="809.1" r="3.0"/><circle cx="1002.9" cy="808.3" r="3.0"/><circle cx="1003.7" cy="800.7" r="3.0"/><circle cx="1004.6" cy="807.7" r="3.0"/><circle cx="1005.4" cy="811.7" r="3.0"/><circle cx="1006.2" cy="800.9" r="3.0"/><circle cx="1007.0" cy="793.5" r="3.0"/><circle cx="1007.9" cy="809.9" r="3.0"/><circle cx="1008.7" cy="804.7" r="3.0"/><circle cx="1009.5" cy="805.9" r="3.0"/><circle cx="1010.3" cy="798.6" r="3.0"/><circle cx="1011.2" cy="798.4" r="3.0"/><circle cx="1012.0" cy="801.3" r="3.0"/><circle cx="1012.8" cy="801.4" r="3.0"/><circle cx="1013.6" cy="802.0" r="3.0"/><circle cx="1014.5" cy="818.6" r="3.0"/><circle cx="1015.3" cy="808.3" r="3.0"/><circle cx="1016.1" cy="802.4" r="3.0"/><circle cx="1016.9" cy="808.1" r="3.0"/><circle cx="1017.8" cy="797.4" r="3.0"/><circle cx="1018.6" cy="812.5" r="3.0"/><circle cx="1019.4" cy="814.2" r="3.0"/><circle cx="1020.2" cy="805.3" r="3.0"/><circle cx="1021.0" cy="812.7" r="3.0"/><circle cx="1021.9" cy="803.3" r="3.0"/><circle cx="1022.7" cy="816.2" r="3.0"/><circle cx="1023.5" cy="812.6" r="3.0"/><circle cx="1024.3" cy="819.4" r="3.0"/><circle cx="1025.2" cy="811.8" r="3.0"/><circle cx="1026.0" cy="818.7" r="3.0"/><circle cx="1026.8" cy="810.1" r="3.0"/><circle cx="1027.6" cy="804.8" r="3.0"/><circle cx="1028.4" cy="797.8" r="3.0"/><circle cx="1029.3" cy="807.1" r="3.0"/><circle cx="1030.1" cy="814.8" r="3.0"/><circle cx="1030.9" cy="810.6" r="3.0"/><circle cx="1031.7" cy="807.6" r="3.0"/><circle cx="1032.5" cy="825.5" r="3.0"/><circle cx="1033.4" cy="805.4" r="3.0"/><circle cx="1034.2" cy="806.3" r="3.0"/><circle cx="1035.0" cy="804.2" r="3.0"/><circle cx="1035.8" cy="820.1" r="3.0"/><circle cx="1036.6" cy="822.7" r="3.0"/><circle cx="1037.5" cy="814.1" r="3.0"/><circle cx="1038.3" cy="822.2" r="3.0"/><circle cx="1039.1" cy="809.4" r="3.0"/><circle cx="1039.9" cy="823.5" r="3.0"/><circle cx="1040.7" cy="823.7" r="3.0"/><circle cx="1041.6" cy="811.8" r="3.0"/><circle cx="1042.4" cy="821.5" r="3.0"/><circle cx="1043.2" cy="813.6" r="3.0"/><circle cx="1044.0" cy="814.8" r="3.0"/><circle cx="1044.8" cy="824.7" r="3.0"/><circle cx="1045.7" cy="822.8" r="3.0"/><circle cx="1046.5" cy="823.9" r="3.0"/><circle cx="1047.3" cy="821.0" r="3.0"/><circle cx="1048.1" cy="815.4" r="3.0"/><circle cx="1048.9" cy="822.7" r="3.0"/><circle cx="1049.8" cy="824.5" r="3.0"/><circle cx="1050.6" cy="830.3" r="3.0"/><circle cx="1051.4" cy="818.0" r="3.0"/><circle cx="1052.2" cy="818.1" r="3.0"/><circle cx="1053.0" cy="829.0" r="3.0"/><circle cx="1053.8" cy="826.5" r="3.0"/><circle cx="1054.7" cy="828.6" r="3.0"/><circle cx="1055.5" cy="808.7" r="3.0"/><circle cx="1056.3" cy="828.1" r="3.0"/><circle cx="1057.1" cy="824.8" r="3.0"/><circle cx="1057.9" cy="819.4" r="3.0"/><circle cx="1058.7" cy="833.3" r="3.0"/><circle cx="1059.6" cy="822.4" r="3.0"/><circle cx="1060.4" cy="822.4" r="3.0"/><circle cx="1061.2" cy="818.7" r="3.0"/><circle cx="1062.0" cy="819.4" r="3.0"/><circle cx="1062.8" cy="822.9" r="3.0"/><circle cx="1063.6" cy="822.6" r="3.0"/><circle cx="1064.4" cy="826.6" r="3.0"/><circle cx="1065.3" cy="830.6" r="3.0"/><circle cx="1066.1" cy="826.9" r="3.0"/><circle cx="1066.9" cy="818.2" r="3.0"/><circle cx="1067.7" cy="829.6" r="3.0"/><circle cx="1068.5" cy="811.3" r="3.0"/><circle cx="1069.3" cy="830.1" r="3.0"/><circle cx="1070.2" cy="832.7" r="3.0"/><circle cx="1071.0" cy="826.5" r="3.0"/><circle cx="1071.8" cy="818.2" r="3.0"/><circle cx="1072.6" cy="822.1" r="3.0"/><circle cx="1073.4" cy="823.1" r="3.0"/><circle cx="1074.2" cy="822.6" r="3.0"/><circle cx="1075.0" cy="817.0" r="3.0"/><circle cx="1075.8" cy="829.8" r="3.0"/><circle cx="1076.7" cy="832.3" r="3.0"/><circle cx="1077.5" cy="816.6" r="3.0"/><circle cx="1078.3" cy="829.7" r="3.0"/><circle cx="1079.1" cy="836.4" r="3.0"/><circle cx="1079.9" cy="846.0" r="3.0"/><circle cx="1080.7" cy="825.5" r="3.0"/><circle cx="1081.5" cy="824.1" r="3.0"/><circle cx="1082.4" cy="824.6" r="3.0"/><circle cx="1083.2" cy="842.0" r="3.0"/><circle cx="1084.0" cy="827.5" r="3.0"/><circle cx="1084.8" cy="839.7" r="3.0"/><circle cx="1085.6" cy="824.2" r="3.0"/><circle cx="1086.4" cy="825.6" r="3.0"/><circle cx="1087.2" cy="836.7" r="3.0"/><circle cx="1088.0" cy="821.0" r="3.0"/><circle cx="1088.8" cy="821.9" r="3.0"/><circle cx="1089.7" cy="822.9" r="3.0"/><circle cx="1090.5" cy="828.9" r="3.0"/><circle cx="1091.3" cy="826.1" r="3.0"/><circle cx="1092.1" cy="826.1" r="3.0"/><circle cx="1092.9" cy="837.5" r="3.0"/><circle cx="1093.7" cy="825.1" r="3.0"/><circle cx="1094.5" cy="835.4" r="3.0"/><circle cx="1095.3" cy="836.7" r="3.0"/><circle cx="1096.1" cy="843.7" r="3.0"/><circle cx="1096.9" cy="830.9" r="3.0"/><circle cx="1097.8" cy="846.6" r="3.0"/><circle cx="1098.6" cy="813.4" r="3.0"/><circle cx="1099.4" cy="827.9" r="3.0"/><circle cx="1100.2" cy="840.1" r="3.0"/><circle cx="1101.0" cy="822.0" r="3.0"/><circle cx="1101.8" cy="828.3" r="3.0"/><circle cx="1102.6" cy="815.4" r="3.0"/><circle cx="1103.4" cy="834.4" r="3.0"/><circle cx="1104.2" cy="841.8" r="3.0"/><circle cx="1105.0" cy="855.5" r="3.0"/><circle cx="1105.8" cy="828.3" r="3.0"/><circle cx="1106.7" cy="834.8" r="3.0"/><circle cx="1107.5" cy="837.9" r="3.0"/><circle cx="1108.3" cy="829.0" r="3.0"/><circle cx="1109.1" cy="834.9" r="3.0"/><circle cx="1109.9" cy="825.6" r="3.0"/><circle cx="1110.7" cy="852.3" r="3.0"/><circle cx="1111.5" cy="828.0" r="3.0"/><circle cx="1112.3" cy="837.5" r="3.0"/><circle cx="1113.1" cy="839.7" r="3.0"/><circle cx="1113.9" cy="829.6" r="3.0"/><circle cx="1114.7" cy="826.2" r="3.0"/><circle cx="1115.5" cy="833.5" r="3.0"/><circle cx="1116.3" cy="836.1" r="3.0"/><circle cx="1117.2" cy="834.4" r="3.0"/><circle cx="1118.0" cy="832.3" r="3.0"/><circle cx="1118.8" cy="822.2" r="3.0"/><circle cx="1119.6" cy="823.1" r="3.0"/><circle cx="1120.4" cy="813.2" r="3.0"/><circle cx="1121.2" cy="829.5" r="3.0"/><circle cx="1122.0" cy="842.7" r="3.0"/><circle cx="1122.8" cy="844.5" r="3.0"/><circle cx="1123.6" cy="834.4" r="3.0"/><circle cx="1124.4" cy="819.6" r="3.0"/><circle cx="1125.2" cy="831.3" r="3.0"/><circle cx="1126.0" cy="828.2" r="3.0"/><circle cx="1126.8" cy="849.6" r="3.0"/><circle cx="1127.6" cy="833.7" r="3.0"/><circle cx="1128.4" cy="833.2" r="3.0"/><circle cx="1129.2" cy="835.4" r="3.0"/><circle cx="1130.0" cy="830.5" r="3.0"/><circle cx="1130.8" cy="828.3" r="3.0"/><circle cx="1131.6" cy="830.1" r="3.0"/><circle cx="1132.5" cy="824.7" r="3.0"/><circle cx="1133.3" cy="832.6" r="3.0"/><circle cx="1134.1" cy="831.6" r="3.0"/><circle cx="1134.9" cy="832.2" r="3.0"/><circle cx="1135.7" cy="829.1" r="3.0"/><circle cx="1136.5" cy="827.4" r="3.0"/><circle cx="1137.3" cy="837.4" r="3.0"/><circle cx="1138.1" cy="818.4" r="3.0"/><circle cx="1138.9" cy="830.0" r="3.0"/><circle cx="1139.7" cy="821.3" r="3.0"/><circle cx="1140.5" cy="834.7" r="3.0"/><circle cx="1141.3" cy="821.9" r="3.0"/><circle cx="1142.1" cy="826.1" r="3.0"/><circle cx="1142.9" cy="831.6" r="3.0"/><circle cx="1143.7" cy="822.8" r="3.0"/><circle cx="1144.5" cy="832.1" r="3.0"/><circle cx="1145.3" cy="827.3" r="3.0"/><circle cx="1146.1" cy="829.7" r="3.0"/><circle cx="1146.9" cy="809.1" r="3.0"/><circle cx="1147.7" cy="819.0" r="3.0"/><circle cx="1148.5" cy="817.9" r="3.0"/><circle cx="1149.3" cy="809.9" r="3.0"/><circle cx="1150.1" cy="820.2" r="3.0"/><circle cx="1150.9" cy="826.6" r="3.0"/><circle cx="1151.7" cy="825.8" r="3.0"/><circle cx="1152.5" cy="826.6" r="3.0"/><circle cx="1153.3" cy="825.8" r="3.0"/></g>
<path d="M180.0,857.7 L181.3,857.7 L182.6,857.7 L183.9,857.7 L185.2,857.7 L186.5,857.7 L187.8,857.7 L189.1,857.7 L190.4,857.7 L191.7,857.7 L193.0,857.7 L194.3,857.7 L195.6,857.7 L196.9,857.7 L198.2,857.7 L199.5,857.7 L200.8,857.7 L202.1,857.7 L203.4,857.7 L204.7,857.7 L206.0,857.7 L207.3,857.7 L208.6,857.7 L209.9,857.7 L211.2,857.7 L212.5,857.7 L213.8,857.7 L215.1,857.7 L216.4,857.7 L217.7,857.7 L219.0,857.7 L220.3,857.7 L221.6,857.7 L222.9,857.7 L224.2,857.7 L225.5,857.7 L226.8,857.7 L228.1,857.7 L229.4,857.7 L230.7,857.7 L232.0,857.7 L233.3,857.7 L234.6,857.7 L235.9,857.7 L237.2,857.7 L238.5,857.7 L239.8,857.7 L241.1,857.7 L242.4,857.7 L243.7,857.7 L245.0,857.7 L246.3,857.7 L247.6,857.7 L248.9,857.7 L250.2,857.7 L251.5,857.7 L252.8,857.7 L254.1,857.7 L255.4,857.7 L256.7,857.7 L258.0,857.7 L259.3,857.7 L260.6,857.7 L261.9,857.7 L263.2,857.7 L264.5,857.7 L265.8,857.3 L267.1,856.3 L268.4,855.9 L269.7,855.7 L271.0,855.5 L272.3,855.3 L273.6,855.0 L274.9,854.3 L276.2,853.5 L277.5,852.7 L278.8,851.9 L280.1,851.4 L281.4,851.3 L282.7,851.2 L284.0,851.1 L285.3,850.9 L286.6,850.8 L287.9,850.7 L289.2,850.6 L290.5,850.1 L291.8,849.2 L293.1,848.3 L294.4,847.5 L295.7,846.6 L297.0,845.4 L298.3,842.5 L299.6,839.5 L300.9,832.7 L302.2,824.8 L303.5,815.3 L304.8,803.9 L306.1,791.0 L307.4,778.6 L308.7,768.0 L310.0,757.5 L311.3,747.5 L312.6,736.7 L313.9,724.8 L315.2,714.5 L316.5,705.3 L317.8,699.4 L319.1,697.8 L320.4,698.2 L321.7,698.5 L323.0,699.4 L324.3,700.7 L325.6,703.4 L326.9,710.6 L328.2,718.1 L329.5,725.8 L330.8,733.3 L332.1,740.3 L333.4,747.4 L334.7,753.4 L336.0,759.3 L337.3,765.4 L338.6,771.5 L339.9,777.0 L341.2,780.8 L342.5,784.7 L343.8,782.2 L345.1,779.1 L346.4,772.6 L347.7,764.1 L349.0,755.7 L350.3,747.8 L351.6,739.9 L352.9,733.8 L354.2,727.8 L355.5,724.1 L356.8,722.6 L358.1,721.0 L359.4,719.4 L360.7,719.8 L362.0,721.1 L363.3,722.4 L364.6,725.8 L365.9,731.0 L367.2,736.1 L368.5,741.1 L369.8,745.7 L371.1,750.4 L372.4,755.0 L373.7,759.7 L375.0,764.5 L376.3,769.2 L377.6,774.0 L378.9,779.0 L380.2,784.1 L381.5,789.3 L382.8,793.5 L384.1,796.6 L385.4,799.8 L386.7,802.9 L388.0,804.5 L389.3,804.8 L390.6,805.2 L391.9,805.5 L393.2,805.7 L394.5,804.0 L395.8,802.4 L397.1,800.8 L398.4,799.1 L399.7,795.9 L401.0,791.6 L402.3,787.3 L403.6,783.0 L404.9,778.6 L406.2,774.2 L407.5,769.8 L408.8,764.1 L410.1,758.2 L411.4,752.5 L412.7,746.9 L414.0,741.3 L415.3,734.3 L416.6,727.2 L417.9,719.2 L419.2,710.7 L420.5,702.5 L421.8,694.6 L423.1,686.6 L424.4,677.4 L425.7,668.3 L427.0,656.5 L428.3,644.9 L429.6,634.6 L430.9,623.8 L432.2,612.6 L433.5,599.5 L434.8,587.1 L436.1,578.2 L437.4,569.4 L438.7,550.6 L440.0,539.2 L441.3,532.6 L442.6,526.6 L443.9,517.9 L445.2,514.3 L446.5,513.0 L447.8,511.4 L449.1,509.5 L450.4,508.0 L451.7,510.3 L453.0,512.6 L454.3,515.0 L455.6,517.6 L456.9,520.3 L458.2,523.1 L459.5,526.4 L460.8,528.6 L462.1,528.6 L463.4,528.6 L464.7,528.5 L466.0,528.1 L467.3,527.6 L468.6,526.7 L469.9,520.4 L471.2,519.4 L472.5,518.4 L473.8,505.1 L475.1,503.5 L476.4,501.7 L477.7,496.8 L479.0,492.0 L480.3,487.6 L481.6,485.1 L482.9,483.6 L484.2,480.9 L485.5,478.1 L486.8,474.1 L488.1,471.8 L489.4,470.9 L490.7,470.5 L492.0,463.7 L493.3,461.6 L494.6,463.6 L495.9,462.2 L497.2,461.8 L498.5,459.5 L499.8,456.2 L501.1,453.1 L502.4,448.9 L503.7,444.1 L505.0,439.7 L506.3,432.9 L507.6,424.9 L508.9,418.3 L510.2,413.5 L511.5,403.8 L512.8,384.2 L514.1,370.5 L515.4,360.0 L516.7,349.9 L518.0,341.8 L519.3,336.8 L520.6,332.8 L521.9,327.7 L523.2,317.6 L524.5,307.8 L525.8,302.8 L527.1,299.7 L528.4,297.8 L529.7,294.3 L531.0,291.2 L532.3,288.6 L533.6,286.3 L534.9,284.6 L536.2,287.4 L537.5,290.9 L538.8,293.1 L540.1,297.2 L541.4,301.7 L542.7,306.5 L544.0,310.7 L545.3,314.0 L546.6,319.2 L547.9,320.7 L549.2,323.5 L550.5,326.0 L551.8,329.4 L553.1,332.5 L554.4,333.6 L555.7,337.7 L557.0,339.5 L558.3,339.9 L559.6,340.1 L560.9,341.2 L562.2,341.1 L563.5,340.7 L564.8,344.6 L566.1,345.4 L567.4,343.1 L568.7,337.7 L570.0,333.0 L571.3,331.0 L572.6,329.3 L573.9,329.8 L575.2,330.6 L576.5,331.1 L577.8,329.9 L579.1,328.0 L580.4,325.4 L581.7,322.2 L583.0,318.3 L584.3,317.8 L585.6,317.7 L586.9,313.8 L588.2,312.5 L589.5,311.1 L590.8,306.5 L592.1,301.2 L593.4,297.4 L594.7,298.1 L596.0,294.0 L597.3,293.5 L598.6,293.0 L599.9,290.9 L601.2,290.1 L602.5,291.5 L603.8,290.3 L605.1,290.3 L606.4,290.0 L607.7,288.5 L609.0,285.8 L610.3,285.2 L611.6,287.1 L612.9,287.8 L614.2,289.0 L615.5,290.4 L616.8,292.0 L618.1,294.9 L619.4,295.9 L620.7,298.3 L622.0,299.3 L623.3,301.1 L624.6,305.5 L625.9,305.9 L627.2,307.1 L628.5,311.8 L629.8,313.7 L631.1,316.7 L632.4,316.6 L633.7,319.7 L635.0,322.1 L636.3,324.4 L637.6,326.4 L638.9,328.7 L640.2,331.7 L641.5,334.3 L642.8,339.1 L644.1,337.8 L645.4,340.3 L646.7,341.2 L648.0,342.3 L649.3,343.8 L650.6,347.0 L651.9,352.4 L653.2,354.8 L654.5,358.1 L655.8,360.3 L657.1,360.9 L658.4,365.2 L659.7,367.0 L661.0,368.1 L662.3,371.8 L663.6,373.8 L664.9,375.3 L666.2,379.2 L667.5,382.9 L668.8,385.8 L670.1,391.1 L671.4,393.2 L672.7,396.0 L674.0,398.0 L675.3,398.0 L676.6,401.3 L677.9,401.9 L679.2,403.6 L680.5,404.3 L681.8,404.0 L683.1,405.2 L684.4,407.3 L685.7,406.4 L687.0,404.4 L688.3,402.4 L689.6,401.6 L690.9,401.6 L692.2,400.1 L693.5,398.9 L694.8,397.9 L696.1,396.8 L697.4,397.7 L698.7,397.8 L700.0,396.6 L701.3,395.6 L702.6,393.5 L703.9,393.3 L705.2,391.4 L706.5,391.9 L707.8,389.9 L709.1,390.5 L710.4,389.3 L711.7,390.0 L713.0,389.7 L714.3,387.5 L715.6,387.6 L716.9,388.0 L718.2,386.9 L719.5,386.0 L720.8,385.5 L722.1,384.0 L723.4,379.8 L724.7,377.3 L726.0,373.7 L727.3,373.3 L728.6,375.6 L729.9,372.8 L731.2,373.0 L732.5,373.8 L733.8,375.5 L735.1,374.0 L736.4,373.8 L737.7,375.0 L739.0,373.8 L740.3,374.2 L741.6,370.1 L742.9,370.4 L744.2,368.3 L745.5,367.3 L746.8,366.9 L748.1,365.0 L749.4,364.1 L750.7,362.9 L752.0,361.4 L753.3,360.0 L754.6,359.6 L755.9,358.3 L757.2,356.0 L758.5,355.6 L759.8,354.5 L761.1,353.1 L762.4,353.2 L763.7,350.3 L765.0,349.9 L766.3,347.2 L767.6,346.5 L768.9,345.7 L770.2,343.4 L771.5,341.2 L772.8,340.5 L774.1,339.5 L775.4,337.2 L776.7,338.3 L778.0,339.1 L779.3,338.3 L780.6,338.1 L781.9,337.7 L783.2,336.2 L784.5,335.6 L785.8,336.5 L787.1,339.5 L788.4,340.2 L789.7,338.5 L791.0,340.6 L792.3,342.9 L793.6,343.9 L794.9,342.9 L796.2,344.9 L797.5,346.0 L798.8,346.9 L800.1,347.5 L801.4,349.7 L802.7,350.7 L804.0,353.1 L805.3,353.8 L806.6,354.4 L807.9,357.8 L809.2,359.5 L810.5,360.0 L811.8,362.0 L813.1,363.4 L814.4,364.4 L815.7,367.0 L817.0,367.7 L818.3,369.5 L819.6,370.2 L820.9,371.7 L822.2,374.8 L823.5,376.8 L824.8,378.9 L826.1,381.5 L827.4,384.2 L828.7,384.8 L830.0,388.5 L831.3,388.4 L832.6,390.0 L833.9,391.3 L835.2,393.9 L836.5,394.6 L837.8,395.8 L839.1,396.3 L840.4,399.6 L841.7,400.2 L843.0,400.2 L844.3,402.6 L845.6,405.0 L846.9,405.9 L848.2,406.5 L849.5,407.3 L850.8,408.8 L852.1,409.2 L853.4,410.3 L854.7,411.1 L856.0,413.1 L857.3,413.5 L858.6,414.2 L859.9,413.4 L861.2,417.8 L862.5,419.6 L863.8,418.6 L865.1,421.9 L866.4,422.7 L867.7,422.0 L869.0,423.6 L870.3,426.0 L871.6,425.3 L872.9,429.3 L874.2,430.2 L875.5,431.6 L876.8,433.7 L878.1,434.9 L879.4,435.8 L880.7,439.8 L882.0,441.2 L883.3,442.1 L884.6,444.4 L885.9,444.2 L887.2,445.5 L888.5,447.4 L889.8,449.4 L891.1,449.3 L892.4,449.7 L893.7,452.3 L895.0,453.2 L896.3,454.7 L897.6,455.6 L898.9,455.3 L900.2,456.3 L901.5,456.0 L902.8,458.3 L904.1,457.1 L905.4,460.5 L906.7,462.0 L908.0,462.8 L909.3,464.2 L910.6,463.9 L911.9,463.2 L913.2,464.7 L914.5,465.9 L915.8,465.3 L917.1,463.2 L918.4,465.0 L919.7,466.2 L921.0,467.3 L922.3,466.0 L923.6,466.6 L924.9,468.4 L926.2,467.1 L927.5,467.9 L928.8,465.5 L930.1,467.1 L931.4,468.0 L932.7,468.6 L934.0,468.5 L935.3,466.8 L936.6,465.8 L937.9,467.2 L939.2,465.1 L940.5,464.9 L941.8,465.8 L943.1,464.1 L944.4,464.0 L945.7,462.9 L947.0,464.4 L948.3,463.0 L949.6,462.0 L950.9,461.8 L952.2,462.4 L953.5,461.9 L954.8,461.5 L956.1,461.1 L957.4,462.5 L958.7,461.3 L960.0,460.9 L961.3,459.9 L962.6,460.4 L963.9,460.3 L965.2,458.3 L966.5,458.7 L967.8,458.5 L969.1,457.3 L970.4,457.2 L971.7,456.5 L973.0,457.1 L974.3,454.8 L975.6,455.0 L976.9,454.7 L978.2,455.1 L979.5,452.9 L980.8,452.5 L982.1,454.0 L983.4,452.6 L984.7,450.9 L986.0,453.0 L987.3,452.9 L988.6,452.7 L989.9,450.9 L991.2,454.4 L992.5,450.6 L993.8,452.1 L995.1,452.8 L996.4,452.7 L997.7,452.5 L999.0,452.5 L1000.3,452.9 L1001.6,454.5 L1002.9,454.2 L1004.2,454.2 L1005.5,454.3 L1006.8,454.0 L1008.1,455.8 L1009.4,455.5 L1010.7,454.9 L1012.0,453.6 L1013.3,455.9 L1014.6,454.3 L1015.9,454.7 L1017.2,456.1 L1018.5,455.8 L1019.8,456.6 L1021.1,457.4 L1022.4,458.2 L1023.7,455.8 L1025.0,458.2 L1026.3,458.5 L1027.6,457.9 L1028.9,458.0 L1030.2,458.1 L1031.5,457.9 L1032.8,459.8 L1034.1,460.0 L1035.4,459.7 L1036.7,459.7 L1038.0,459.4 L1039.3,458.9 L1040.6,460.1 L1041.9,459.1 L1043.2,460.2 L1044.5,460.7 L1045.8,461.2 L1047.1,461.9 L1048.4,461.7 L1049.7,461.3 L1051.0,462.3 L1052.3,463.6 L1053.6,463.8 L1054.9,463.8 L1056.2,465.6 L1057.5,465.0 L1058.8,464.1 L1060.1,466.5 L1061.4,466.1 L1062.7,467.7 L1064.0,466.2 L1065.3,468.6 L1066.6,468.8 L1067.9,467.8 L1069.2,469.9 L1070.5,469.9 L1071.8,470.2 L1073.1,471.7 L1074.4,471.9 L1075.7,471.8 L1077.0,470.3 L1078.3,473.0 L1079.6,472.5 L1080.9,473.6 L1082.2,474.7 L1083.5,472.7 L1084.8,474.3 L1086.1,473.3 L1087.4,473.3 L1088.7,474.3 L1090.0,475.9 L1091.3,475.7 L1092.6,474.7 L1093.9,475.7 L1095.2,476.3 L1096.5,477.4 L1097.8,477.1 L1099.1,475.9 L1100.4,476.6 L1101.7,475.8 L1103.0,476.2 L1104.3,475.4 L1105.6,476.5 L1106.9,476.0 L1108.2,474.7 L1109.5,475.8 L1110.8,474.7 L1112.1,475.4 L1113.4,475.4 L1114.7,474.4 L1116.0,475.6 L1117.3,473.3 L1118.6,473.6 L1119.9,475.1 L1121.2,474.0 L1122.5,473.8 L1123.8,472.8 L1125.1,472.2 L1126.4,471.7 L1127.7,473.3 L1129.0,472.9 L1130.3,470.7 L1131.6,471.4 L1132.9,472.6 L1134.2,470.9 L1135.5,471.0 L1136.8,468.8 L1138.1,470.7 L1139.4,468.6 L1140.7,468.8 L1142.0,466.9 L1143.3,468.2 L1144.6,466.9 L1145.9,467.6 L1147.2,466.0 L1148.5,465.8 L1149.8,465.8 L1151.1,465.7 L1152.4,466.7 L1153.7,465.6" fill="none" stroke="#0000ff" stroke-width="2.4" stroke-linejoin="round"/>
<path d="M180.0,632.4 L181.3,632.4 L182.6,632.4 L183.9,632.4 L185.2,632.4 L186.5,632.4 L187.8,632.4 L189.1,632.4 L190.4,632.4 L191.7,632.4 L193.0,632.4 L194.3,632.4 L195.6,632.4 L196.9,632.4 L198.2,632.4 L199.5,632.4 L200.8,632.4 L202.1,632.4 L203.4,632.4 L204.7,632.4 L206.0,632.4 L207.3,632.4 L208.6,632.4 L209.9,632.3 L211.2,632.1 L212.5,632.0 L213.8,631.9 L215.1,631.8 L216.4,631.7 L217.7,631.6 L219.0,631.4 L220.3,631.3 L221.6,631.3 L222.9,631.3 L224.2,631.2 L225.5,631.2 L226.8,631.2 L228.1,631.2 L229.4,631.1 L230.7,631.1 L232.0,631.1 L233.3,631.1 L234.6,631.0 L235.9,631.0 L237.2,631.0 L238.5,630.9 L239.8,630.9 L241.1,630.9 L242.4,630.9 L243.7,630.8 L245.0,630.8 L246.3,630.8 L247.6,630.8 L248.9,630.7 L250.2,630.7 L251.5,630.7 L252.8,630.7 L254.1,630.6 L255.4,630.6 L256.7,630.6 L258.0,630.5 L259.3,630.5 L260.6,630.5 L261.9,630.5 L263.2,630.4 L264.5,630.4 L265.8,630.4 L267.1,630.3 L268.4,630.3 L269.7,630.1 L271.0,629.3 L272.3,628.4 L273.6,627.5 L274.9,626.7 L276.2,625.0 L277.5,622.6 L278.8,620.2 L280.1,617.7 L281.4,615.3 L282.7,613.1 L284.0,613.0 L285.3,612.9 L286.6,612.8 L287.9,612.7 L289.2,613.0 L290.5,614.2 L291.8,615.3 L293.1,616.5 L294.4,616.4 L295.7,614.9 L297.0,613.4 L298.3,612.0 L299.6,610.5 L300.9,609.0 L302.2,604.7 L303.5,600.4 L304.8,592.9 L306.1,583.2 L307.4,574.4 L308.7,567.6 L310.0,560.7 L311.3,552.9 L312.6,544.9 L313.9,535.4 L315.2,524.8 L316.5,513.5 L317.8,501.3 L319.1,488.1 L320.4,474.9 L321.7,464.7 L323.0,459.6 L324.3,454.5 L325.6,453.2 L326.9,451.9 L328.2,453.0 L329.5,455.1 L330.8,458.8 L332.1,465.8 L333.4,472.8 L334.7,480.5 L336.0,488.1 L337.3,496.5 L338.6,505.3 L339.9,513.2 L341.2,519.2 L342.5,525.2 L343.8,524.8 L345.1,523.8 L346.4,522.8 L347.7,516.5 L349.0,509.2 L350.3,501.7 L351.6,493.8 L352.9,486.5 L354.2,482.6 L355.5,478.7 L356.8,474.8 L358.1,472.1 L359.4,473.4 L360.7,474.7 L362.0,476.0 L363.3,478.3 L364.6,482.7 L365.9,487.1 L367.2,492.2 L368.5,497.4 L369.8,502.5 L371.1,507.7 L372.4,512.9 L373.7,518.0 L375.0,523.2 L376.3,527.9 L377.6,532.6 L378.9,537.2 L380.2,541.9 L381.5,546.7 L382.8,551.4 L384.1,556.2 L385.4,560.3 L386.7,560.9 L388.0,561.6 L389.3,562.2 L390.6,561.6 L391.9,560.9 L393.2,560.3 L394.5,557.4 L395.8,554.1 L397.1,550.9 L398.4,548.1 L399.7,545.5 L401.0,542.9 L402.3,540.3 L403.6,537.1 L404.9,527.1 L406.2,520.0 L407.5,514.7 L408.8,509.5 L410.1,504.3 L411.4,499.0 L412.7,493.8 L414.0,488.2 L415.3,482.1 L416.6,476.0 L417.9,470.2 L419.2,465.1 L420.5,460.0 L421.8,454.9 L423.1,449.6 L424.4,444.3 L425.7,436.4 L427.0,427.9 L428.3,421.5 L429.6,415.2 L430.9,410.0 L432.2,404.8 L433.5,400.1 L434.8,395.4 L436.1,391.8 L437.4,389.2 L438.7,386.6 L440.0,384.8 L441.3,383.1 L442.6,381.4 L443.9,381.5 L445.2,382.0 L446.5,383.1 L447.8,386.3 L449.1,389.5 L450.4,391.8 L451.7,393.8 L453.0,395.7 L454.3,397.6 L455.6,398.5 L456.9,398.5 L458.2,398.5 L459.5,398.5 L460.8,397.8 L462.1,395.8 L463.4,393.0 L464.7,388.3 L466.0,383.5 L467.3,377.0 L468.6,369.9 L469.9,361.6 L471.2,352.9 L472.5,344.1 L473.8,333.8 L475.1,322.4 L476.4,309.3 L477.7,297.8 L479.0,287.9 L480.3,279.7 L481.6,271.6 L482.9,264.4 L484.2,257.3 L485.5,254.4 L486.8,252.3 L488.1,250.2 L489.4,247.7 L490.7,245.1 L492.0,242.5 L493.3,239.5 L494.6,236.3 L495.9,232.9 L497.2,226.5 L498.5,220.0 L499.8,215.2 L501.1,209.0 L502.4,203.4 L503.7,198.4 L505.0,191.3 L506.3,178.2 L507.6,170.6 L508.9,165.2 L510.2,159.9 L511.5,154.5 L512.8,149.9 L514.1,145.8 L515.4,141.8 L516.7,137.9 L518.0,130.7 L519.3,123.2 L520.6,117.5 L521.9,110.8 L523.2,108.5 L524.5,106.4 L525.8,103.3 L527.1,100.4 L528.4,95.8 L529.7,90.4 L531.0,85.1 L532.3,80.8 L533.6,78.9 L534.9,77.5 L536.2,76.3 L537.5,75.3 L538.8,75.1 L540.1,75.4 L541.4,76.0 L542.7,77.4 L544.0,77.5 L545.3,79.3 L546.6,79.8 L547.9,82.0 L549.2,86.6 L550.5,90.2 L551.8,95.6 L553.1,101.1 L554.4,105.4 L555.7,108.6 L557.0,110.1 L558.3,113.0 L559.6,115.0 L560.9,117.9 L562.2,120.1 L563.5,120.7 L564.8,121.3 L566.1,122.6 L567.4,122.7 L568.7,122.7 L570.0,124.9 L571.3,124.8 L572.6,126.5 L573.9,125.8 L575.2,128.4 L576.5,129.4 L577.8,130.6 L579.1,131.5 L580.4,133.4 L581.7,136.9 L583.0,136.1 L584.3,135.2 L585.6,136.4 L586.9,134.7 L588.2,134.2 L589.5,134.6 L590.8,135.2 L592.1,136.5 L593.4,139.0 L594.7,139.1 L596.0,140.4 L597.3,142.3 L598.6,142.4 L599.9,142.6 L601.2,145.1 L602.5,144.3 L603.8,145.2 L605.1,145.7 L606.4,148.0 L607.7,148.8 L609.0,149.6 L610.3,151.5 L611.6,152.3 L612.9,153.0 L614.2,153.8 L615.5,154.9 L616.8,155.9 L618.1,159.0 L619.4,159.2 L620.7,158.7 L622.0,156.5 L623.3,158.2 L624.6,157.7 L625.9,158.0 L627.2,156.8 L628.5,158.7 L629.8,157.4 L631.1,157.0 L632.4,155.2 L633.7,154.1 L635.0,153.5 L636.3,151.7 L637.6,150.4 L638.9,147.9 L640.2,145.6 L641.5,144.5 L642.8,142.3 L644.1,139.6 L645.4,138.0 L646.7,137.0 L648.0,134.9 L649.3,134.4 L650.6,133.1 L651.9,131.8 L653.2,129.6 L654.5,131.2 L655.8,132.4 L657.1,133.8 L658.4,135.9 L659.7,136.9 L661.0,139.1 L662.3,140.3 L663.6,140.6 L664.9,141.5 L666.2,143.6 L667.5,143.5 L668.8,144.4 L670.1,143.8 L671.4,145.2 L672.7,145.8 L674.0,145.9 L675.3,146.7 L676.6,148.4 L677.9,148.3 L679.2,149.4 L680.5,149.7 L681.8,150.2 L683.1,148.0 L684.4,148.6 L685.7,148.5 L687.0,147.6 L688.3,147.2 L689.6,146.2 L690.9,147.1 L692.2,145.5 L693.5,146.3 L694.8,147.8 L696.1,145.8 L697.4,145.2 L698.7,145.9 L700.0,144.7 L701.3,144.2 L702.6,144.1 L703.9,142.7 L705.2,141.9 L706.5,142.8 L707.8,141.1 L709.1,142.3 L710.4,142.2 L711.7,141.5 L713.0,140.3 L714.3,141.1 L715.6,142.0 L716.9,140.4 L718.2,141.5 L719.5,139.8 L720.8,140.5 L722.1,139.5 L723.4,139.4 L724.7,139.4 L726.0,140.8 L727.3,142.1 L728.6,143.7 L729.9,145.5 L731.2,142.5 L732.5,144.0 L733.8,140.2 L735.1,141.4 L736.4,143.9 L737.7,147.1 L739.0,145.6 L740.3,146.1 L741.6,147.7 L742.9,145.7 L744.2,146.3 L745.5,147.5 L746.8,146.8 L748.1,146.3 L749.4,146.0 L750.7,143.1 L752.0,142.8 L753.3,143.5 L754.6,144.9 L755.9,141.1 L757.2,141.3 L758.5,137.7 L759.8,136.1 L761.1,136.0 L762.4,134.5 L763.7,133.3 L765.0,134.6 L766.3,134.3 L767.6,136.0 L768.9,134.5 L770.2,133.6 L771.5,135.2 L772.8,134.8 L774.1,133.8 L775.4,134.2 L776.7,134.5 L778.0,133.4 L779.3,133.8 L780.6,133.5 L781.9,135.7 L783.2,137.9 L784.5,139.0 L785.8,139.7 L787.1,141.7 L788.4,140.8 L789.7,142.6 L791.0,141.9 L792.3,142.3 L793.6,145.6 L794.9,144.2 L796.2,145.5 L797.5,146.2 L798.8,146.2 L800.1,148.2 L801.4,149.6 L802.7,152.5 L804.0,153.4 L805.3,155.8 L806.6,157.6 L807.9,158.0 L809.2,159.8 L810.5,160.8 L811.8,161.7 L813.1,162.9 L814.4,164.3 L815.7,165.3 L817.0,166.7 L818.3,168.4 L819.6,170.7 L820.9,172.7 L822.2,173.6 L823.5,174.3 L824.8,177.5 L826.1,178.7 L827.4,179.7 L828.7,180.6 L830.0,181.6 L831.3,182.9 L832.6,182.1 L833.9,184.4 L835.2,184.6 L836.5,186.6 L837.8,186.6 L839.1,187.9 L840.4,189.8 L841.7,190.5 L843.0,191.7 L844.3,193.9 L845.6,192.2 L846.9,196.7 L848.2,198.0 L849.5,196.8 L850.8,198.6 L852.1,199.1 L853.4,200.8 L854.7,201.5 L856.0,201.7 L857.3,204.8 L858.6,203.6 L859.9,206.7 L861.2,206.5 L862.5,208.1 L863.8,207.5 L865.1,208.5 L866.4,209.5 L867.7,212.4 L869.0,211.8 L870.3,212.9 L871.6,213.6 L872.9,214.3 L874.2,216.9 L875.5,218.8 L876.8,218.4 L878.1,220.2 L879.4,221.5 L880.7,223.9 L882.0,223.7 L883.3,224.4 L884.6,225.7 L885.9,225.5 L887.2,228.1 L888.5,227.9 L889.8,229.1 L891.1,230.2 L892.4,231.1 L893.7,229.8 L895.0,232.6 L896.3,231.6 L897.6,234.6 L898.9,232.4 L900.2,236.4 L901.5,235.3 L902.8,237.2 L904.1,237.4 L905.4,237.3 L906.7,238.5 L908.0,240.1 L909.3,240.2 L910.6,240.8 L911.9,242.8 L913.2,243.0 L914.5,242.8 L915.8,242.2 L917.1,241.8 L918.4,242.3 L919.7,243.0 L921.0,241.5 L922.3,240.9 L923.6,241.5 L924.9,241.5 L926.2,241.3 L927.5,242.6 L928.8,240.4 L930.1,243.9 L931.4,240.9 L932.7,242.5 L934.0,242.5 L935.3,241.9 L936.6,240.8 L937.9,242.7 L939.2,242.8 L940.5,240.8 L941.8,240.0 L943.1,241.1 L944.4,241.3 L945.7,240.0 L947.0,240.2 L948.3,241.3 L949.6,241.0 L950.9,238.5 L952.2,238.5 L953.5,239.7 L954.8,239.7 L956.1,240.2 L957.4,238.6 L958.7,238.2 L960.0,239.2 L961.3,239.3 L962.6,238.0 L963.9,239.3 L965.2,239.8 L966.5,238.6 L967.8,239.7 L969.1,238.9 L970.4,239.0 L971.7,239.1 L973.0,240.1 L974.3,238.7 L975.6,240.3 L976.9,239.2 L978.2,242.5 L979.5,241.9 L980.8,240.7 L982.1,241.9 L983.4,241.6 L984.7,243.6 L986.0,243.5 L987.3,244.5 L988.6,244.0 L989.9,244.8 L991.2,244.6 L992.5,244.4 L993.8,244.4 L995.1,246.0 L996.4,244.8 L997.7,245.4 L999.0,244.8 L1000.3,244.7 L1001.6,246.3 L1002.9,246.0 L1004.2,247.3 L1005.5,245.1 L1006.8,245.8 L1008.1,247.0 L1009.4,246.9 L1010.7,247.1 L1012.0,245.8 L1013.3,247.3 L1014.6,247.2 L1015.9,247.8 L1017.2,248.3 L1018.5,248.1 L1019.8,248.8 L1021.1,249.1 L1022.4,248.9 L1023.7,248.9 L1025.0,248.8 L1026.3,250.4 L1027.6,249.4 L1028.9,249.3 L1030.2,247.8 L1031.5,249.3 L1032.8,247.8 L1034.1,248.4 L1035.4,247.8 L1036.7,248.0 L1038.0,247.8 L1039.3,247.6 L1040.6,246.2 L1041.9,246.0 L1043.2,245.8 L1044.5,246.4 L1045.8,245.3 L1047.1,245.5 L1048.4,246.1 L1049.7,245.3 L1051.0,243.6 L1052.3,245.5 L1053.6,245.2 L1054.9,244.2 L1056.2,245.0 L1057.5,245.0 L1058.8,243.9 L1060.1,243.4 L1061.4,243.4 L1062.7,241.3 L1064.0,241.7 L1065.3,240.7 L1066.6,240.5 L1067.9,241.6 L1069.2,241.2 L1070.5,240.8 L1071.8,239.1 L1073.1,241.6 L1074.4,239.4 L1075.7,239.5 L1077.0,239.7 L1078.3,238.5 L1079.6,238.6 L1080.9,237.7 L1082.2,237.6 L1083.5,237.3 L1084.8,237.6 L1086.1,238.2 L1087.4,234.3 L1088.7,234.5 L1090.0,234.0 L1091.3,234.7 L1092.6,235.6 L1093.9,234.2 L1095.2,236.1 L1096.5,234.4 L1097.8,234.1 L1099.1,233.6 L1100.4,232.4 L1101.7,232.6 L1103.0,233.3 L1104.3,232.6 L1105.6,231.7 L1106.9,232.4 L1108.2,231.8 L1109.5,233.2 L1110.8,230.0 L1112.1,230.8 L1113.4,231.8 L1114.7,230.3 L1116.0,230.7 L1117.3,229.5 L1118.6,229.6 L1119.9,228.9 L1121.2,229.9 L1122.5,228.2 L1123.8,229.0 L1125.1,229.0 L1126.4,228.8 L1127.7,226.6 L1129.0,226.5 L1130.3,229.0 L1131.6,226.8 L1132.9,227.0 L1134.2,227.4 L1135.5,225.4 L1136.8,224.9 L1138.1,225.7 L1139.4,225.1 L1140.7,224.9 L1142.0,224.0 L1143.3,224.5 L1144.6,224.2 L1145.9,223.4 L1147.2,225.2 L1148.5,224.1 L1149.8,224.9 L1151.1,223.8 L1152.4,222.6 L1153.7,223.2 L1155.0,225.2" fill="none" stroke="#00ff00" stroke-width="2.0" stroke-linejoin="round"/>
</g>
<line x1="320.5" y1="418" x2="320.3" y2="1541.5" stroke="#000" stroke-width="2.6" stroke-dasharray="6.3 6.9"/>
<line x1="442.7" y1="241.2" x2="442.5" y2="1454.7" stroke="#000" stroke-width="2.6" stroke-dasharray="6.3 6.9"/>
<line x1="531.2" y1="27" x2="538" y2="1075.3" stroke="#000" stroke-width="2.6" stroke-dasharray="6.3 6.9"/>
<line x1="608.9" y1="207.6" x2="609.2" y2="1012.8" stroke="#000" stroke-width="2.6" stroke-dasharray="6.3 6.9"/>
<line x1="779.9" y1="84.4" x2="779.9" y2="1094.6" stroke="#000" stroke-width="2.6" stroke-dasharray="6.3 6.9"/>
<rect x="177.3" y="25.0" width="4.5" height="1576.0" fill="#000"/>
<rect x="1152.1" y="22.7" width="4.0" height="1578.3" fill="#000"/>
<rect x="181.8" y="22.7" width="974.3" height="4.3" fill="#000"/>
<rect x="177.3" y="1596.6" width="978.8" height="4.3" fill="#000"/>
<rect x="456.9" y="1579" width="4.4" height="18" fill="#000"/>
<rect x="456.9" y="26.5" width="4.4" height="20.2" fill="#000"/>
<rect x="734.5" y="1579" width="4.4" height="18" fill="#000"/>
<rect x="734.5" y="26.5" width="4.4" height="20.2" fill="#000"/>
<rect x="1014.2" y="1579" width="4.4" height="18" fill="#000"/>
<rect x="1014.2" y="26.5" width="4.4" height="20.2" fill="#000"/>
<rect x="317.0" y="1587.9" width="4.4" height="9" fill="#000"/>
<rect x="317.0" y="26.5" width="4.4" height="11.3" fill="#000"/>
<rect x="596.7" y="1587.9" width="4.4" height="9" fill="#000"/>
<rect x="596.7" y="26.5" width="4.4" height="11.3" fill="#000"/>
<rect x="874.4" y="1587.9" width="4.4" height="9" fill="#000"/>
<rect x="874.4" y="26.5" width="4.4" height="11.3" fill="#000"/>
<rect x="181" y="1515.0" width="20.7" height="4" fill="#000"/>
<rect x="1136.2" y="1515.0" width="16.5" height="4" fill="#000"/>
<rect x="181" y="1117.6" width="20.7" height="4" fill="#000"/>
<rect x="1136.2" y="1117.6" width="16.5" height="4" fill="#000"/>
<rect x="181" y="720.2" width="20.7" height="4" fill="#000"/>
<rect x="1136.2" y="720.2" width="16.5" height="4" fill="#000"/>
<rect x="181" y="323.0" width="20.7" height="4" fill="#000"/>
<rect x="1136.2" y="323.0" width="16.5" height="4" fill="#000"/>
<rect x="181" y="1316.3" width="11.9" height="4" fill="#000"/>
<rect x="1145.1" y="1316.3" width="7.5" height="4" fill="#000"/>
<rect x="181" y="918.9" width="11.9" height="4" fill="#000"/>
<rect x="1145.1" y="918.9" width="7.5" height="4" fill="#000"/>
<rect x="181" y="521.7" width="11.9" height="4" fill="#000"/>
<rect x="1145.1" y="521.7" width="7.5" height="4" fill="#000"/>
<rect x="181" y="123.0" width="11.9" height="4" fill="#000"/>
<rect x="1145.1" y="123.0" width="7.5" height="4" fill="#000"/>
<text x="179.9" y="1662.8" font-size="56.3" text-anchor="middle" font-family="&apos;Liberation Sans&apos;, sans-serif" stroke="#000" stroke-width="0.7">4.96</text>
<text x="457.0" y="1662.8" font-size="56.3" text-anchor="middle" font-family="&apos;Liberation Sans&apos;, sans-serif" stroke="#000" stroke-width="0.7">4.98</text>
<text x="737.2" y="1662.8" font-size="56.3" text-anchor="middle" font-family="&apos;Liberation Sans&apos;, sans-serif" stroke="#000" stroke-width="0.7">5.00</text>
<text x="1015.1" y="1662.8" font-size="56.3" text-anchor="middle" font-family="&apos;Liberation Sans&apos;, sans-serif" stroke="#000" stroke-width="0.7">5.02</text>
<text x="159.5" y="1534.0" font-size="56.3" text-anchor="end" font-family="&apos;Liberation Sans&apos;, sans-serif" stroke="#000" stroke-width="0.7">0</text>
<text x="159.5" y="737.4" font-size="56.3" text-anchor="end" font-family="&apos;Liberation Sans&apos;, sans-serif" stroke="#000" stroke-width="0.7">2</text>
<text x="159.5" y="339.5" font-size="56.3" text-anchor="end" font-family="&apos;Liberation Sans&apos;, sans-serif" stroke="#000" stroke-width="0.7">3</text>
<path d="M150.30,1137.40 L145.35,1137.40 L145.35,1105.87 L143.56,1107.57 L140.65,1109.28 L137.76,1110.98 L135.46,1111.83 L135.46,1107.05 L139.61,1105.10 L142.71,1102.32 L145.82,1099.55 L147.11,1096.93 L150.30,1096.93 Z" fill="#000" stroke="#000" stroke-width="0.7" stroke-linejoin="round"/>
<text x="665.5" y="1761.5" font-size="58.4" text-anchor="middle" font-family="&apos;Liberation Sans&apos;, sans-serif" stroke="#000" stroke-width="0.7">Photon energy (keV)</text>
<text transform="translate(62.2,790.3) rotate(-90)" x="0" y="0" font-size="58.4" text-anchor="middle" font-family="&apos;Liberation Sans&apos;, sans-serif" stroke="#000" stroke-width="0.7">Cross section (arb. un.)</text>
<text x="965.0" y="200.8" font-size="46.5" font-family="&apos;Liberation Sans&apos;, sans-serif" stroke="#000" stroke-width="0.7">a-TiO</text>
<text x="1080.2" y="218.6" font-size="23.5" font-family="&apos;Liberation Sans&apos;, sans-serif" stroke="#000" stroke-width="0.7">2</text>
<text x="973.5" y="414.9" font-size="46.5" font-family="&apos;Liberation Sans&apos;, sans-serif" stroke="#000" stroke-width="0.7">r-TiO</text>
<text x="1080.2" y="432.7" font-size="23.5" font-family="&apos;Liberation Sans&apos;, sans-serif" stroke="#000" stroke-width="0.7">2</text>
<path d="M953.50,757.90 L949.41,757.90 L949.41,731.86 L947.94,733.26 L945.53,734.67 L943.15,736.08 L941.24,736.78 L941.24,732.83 L944.67,731.22 L947.23,728.93 L949.80,726.64 L950.87,724.48 L953.50,724.48 Z" fill="#000" stroke="#000" stroke-width="0.7" stroke-linejoin="round"/>
<text x="962.2" y="757.9" font-size="46.5" font-family="&apos;Liberation Sans&apos;, sans-serif" stroke="#000" stroke-width="0.7">0%TiO</text>
<text x="1103.7" y="775.2" font-size="23.5" font-family="&apos;Liberation Sans&apos;, sans-serif" stroke="#000" stroke-width="0.7">2</text>
<text x="967.3" y="1046.6" font-size="46.5" font-family="&apos;Liberation Sans&apos;, sans-serif" stroke="#000" stroke-width="0.7">2%TiO</text>
<text x="1108.3" y="1064.3" font-size="23.5" font-family="&apos;Liberation Sans&apos;, sans-serif" stroke="#000" stroke-width="0.7">2</text>
</svg>
</body></html>
